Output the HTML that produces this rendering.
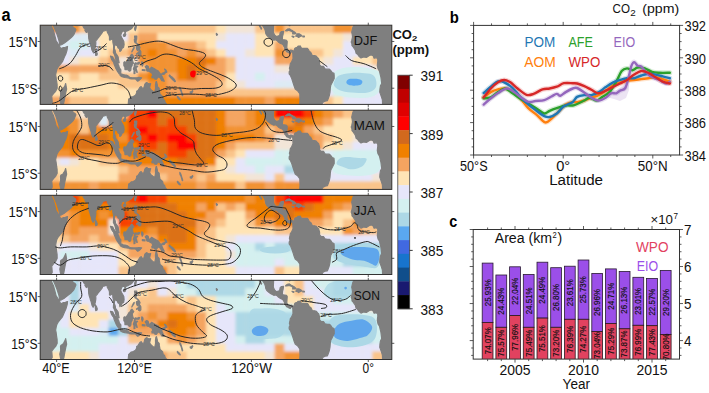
<!DOCTYPE html>
<html><head><meta charset="utf-8"><style>
html,body{margin:0;padding:0;background:#fff;width:709px;height:393px;overflow:hidden}
svg{display:block}
text{font-family:"Liberation Sans",sans-serif}
</style></head><body>
<svg width="709" height="393" viewBox="0 0 709 393" font-family="Liberation Sans, sans-serif">
<defs><filter id="blur" x="-5%" y="-20%" width="110%" height="140%"><feGaussianBlur stdDeviation="1.8"/></filter><filter id="blur2" x="-20%" y="-20%" width="140%" height="140%"><feGaussianBlur stdDeviation="0.6"/></filter></defs>
<rect width="709" height="393" fill="#fff"/>
<text x="1.6" y="20.8" font-size="18" font-weight="bold" fill="#000" textLength="9.1" lengthAdjust="spacingAndGlyphs">a</text>
<g transform="translate(40.2,25.2)">
<clipPath id="c0"><rect x="0" y="0" width="351.60" height="79.2"/></clipPath>
<g clip-path="url(#c0)">
<rect x="0" y="0" width="351.60" height="79.2" fill="#ffe4b5"/>
<g filter="url(#blur)"><rect x="-9.77" y="-7.92" width="10.07" height="8.22" fill="#f29230"/><rect x="0.00" y="-7.92" width="10.07" height="8.22" fill="#f29230"/><rect x="9.77" y="-7.92" width="10.07" height="8.22" fill="#f29230"/><rect x="19.53" y="-7.92" width="10.07" height="8.22" fill="#f29230"/><rect x="29.30" y="-7.92" width="10.07" height="8.22" fill="#f29230"/><rect x="39.07" y="-7.92" width="10.07" height="8.22" fill="#fac48a"/><rect x="48.83" y="-7.92" width="10.07" height="8.22" fill="#fac48a"/><rect x="58.60" y="-7.92" width="10.07" height="8.22" fill="#ffe4b5"/><rect x="68.37" y="-7.92" width="10.07" height="8.22" fill="#ffe4b5"/><rect x="78.13" y="-7.92" width="10.07" height="8.22" fill="#f2e5d8"/><rect x="87.90" y="-7.92" width="10.07" height="8.22" fill="#ffe4b5"/><rect x="97.67" y="-7.92" width="10.07" height="8.22" fill="#fac48a"/><rect x="107.43" y="-7.92" width="10.07" height="8.22" fill="#fac48a"/><rect x="117.20" y="-7.92" width="10.07" height="8.22" fill="#fac48a"/><rect x="126.97" y="-7.92" width="10.07" height="8.22" fill="#fac48a"/><rect x="136.73" y="-7.92" width="10.07" height="8.22" fill="#fac48a"/><rect x="146.50" y="-7.92" width="10.07" height="8.22" fill="#fac48a"/><rect x="156.27" y="-7.92" width="10.07" height="8.22" fill="#fac48a"/><rect x="166.03" y="-7.92" width="10.07" height="8.22" fill="#fac48a"/><rect x="175.80" y="-7.92" width="10.07" height="8.22" fill="#ffe4b5"/><rect x="185.57" y="-7.92" width="10.07" height="8.22" fill="#f2e5d8"/><rect x="195.33" y="-7.92" width="10.07" height="8.22" fill="#f2e5d8"/><rect x="205.10" y="-7.92" width="10.07" height="8.22" fill="#f2e5d8"/><rect x="214.87" y="-7.92" width="10.07" height="8.22" fill="#fac48a"/><rect x="224.63" y="-7.92" width="10.07" height="8.22" fill="#fac48a"/><rect x="234.40" y="-7.92" width="10.07" height="8.22" fill="#f29230"/><rect x="244.17" y="-7.92" width="10.07" height="8.22" fill="#fac48a"/><rect x="253.93" y="-7.92" width="10.07" height="8.22" fill="#fac48a"/><rect x="263.70" y="-7.92" width="10.07" height="8.22" fill="#fac48a"/><rect x="273.47" y="-7.92" width="10.07" height="8.22" fill="#fac48a"/><rect x="283.23" y="-7.92" width="10.07" height="8.22" fill="#fac48a"/><rect x="293.00" y="-7.92" width="10.07" height="8.22" fill="#f29230"/><rect x="302.77" y="-7.92" width="10.07" height="8.22" fill="#f29230"/><rect x="312.53" y="-7.92" width="10.07" height="8.22" fill="#fac48a"/><rect x="322.30" y="-7.92" width="10.07" height="8.22" fill="#fac48a"/><rect x="332.07" y="-7.92" width="10.07" height="8.22" fill="#fac48a"/><rect x="341.83" y="-7.92" width="10.07" height="8.22" fill="#fac48a"/><rect x="351.60" y="-7.92" width="10.07" height="8.22" fill="#fac48a"/><rect x="-9.77" y="0.00" width="10.07" height="8.22" fill="#f29230"/><rect x="0.00" y="0.00" width="10.07" height="8.22" fill="#f29230"/><rect x="9.77" y="0.00" width="10.07" height="8.22" fill="#f29230"/><rect x="19.53" y="0.00" width="10.07" height="8.22" fill="#f29230"/><rect x="29.30" y="0.00" width="10.07" height="8.22" fill="#f29230"/><rect x="39.07" y="0.00" width="10.07" height="8.22" fill="#fac48a"/><rect x="48.83" y="0.00" width="10.07" height="8.22" fill="#fac48a"/><rect x="58.60" y="0.00" width="10.07" height="8.22" fill="#ffe4b5"/><rect x="68.37" y="0.00" width="10.07" height="8.22" fill="#ffe4b5"/><rect x="78.13" y="0.00" width="10.07" height="8.22" fill="#f2e5d8"/><rect x="87.90" y="0.00" width="10.07" height="8.22" fill="#ffe4b5"/><rect x="97.67" y="0.00" width="10.07" height="8.22" fill="#fac48a"/><rect x="107.43" y="0.00" width="10.07" height="8.22" fill="#fac48a"/><rect x="117.20" y="0.00" width="10.07" height="8.22" fill="#fac48a"/><rect x="126.97" y="0.00" width="10.07" height="8.22" fill="#fac48a"/><rect x="136.73" y="0.00" width="10.07" height="8.22" fill="#fac48a"/><rect x="146.50" y="0.00" width="10.07" height="8.22" fill="#fac48a"/><rect x="156.27" y="0.00" width="10.07" height="8.22" fill="#fac48a"/><rect x="166.03" y="0.00" width="10.07" height="8.22" fill="#fac48a"/><rect x="175.80" y="0.00" width="10.07" height="8.22" fill="#ffe4b5"/><rect x="185.57" y="0.00" width="10.07" height="8.22" fill="#f2e5d8"/><rect x="195.33" y="0.00" width="10.07" height="8.22" fill="#f2e5d8"/><rect x="205.10" y="0.00" width="10.07" height="8.22" fill="#f2e5d8"/><rect x="214.87" y="0.00" width="10.07" height="8.22" fill="#fac48a"/><rect x="224.63" y="0.00" width="10.07" height="8.22" fill="#fac48a"/><rect x="234.40" y="0.00" width="10.07" height="8.22" fill="#f29230"/><rect x="244.17" y="0.00" width="10.07" height="8.22" fill="#fac48a"/><rect x="253.93" y="0.00" width="10.07" height="8.22" fill="#fac48a"/><rect x="263.70" y="0.00" width="10.07" height="8.22" fill="#fac48a"/><rect x="273.47" y="0.00" width="10.07" height="8.22" fill="#fac48a"/><rect x="283.23" y="0.00" width="10.07" height="8.22" fill="#fac48a"/><rect x="293.00" y="0.00" width="10.07" height="8.22" fill="#f29230"/><rect x="302.77" y="0.00" width="10.07" height="8.22" fill="#f29230"/><rect x="312.53" y="0.00" width="10.07" height="8.22" fill="#fac48a"/><rect x="322.30" y="0.00" width="10.07" height="8.22" fill="#fac48a"/><rect x="332.07" y="0.00" width="10.07" height="8.22" fill="#fac48a"/><rect x="341.83" y="0.00" width="10.07" height="8.22" fill="#fac48a"/><rect x="351.60" y="0.00" width="10.07" height="8.22" fill="#fac48a"/><rect x="-9.77" y="7.92" width="10.07" height="8.22" fill="#e6e6fa"/><rect x="0.00" y="7.92" width="10.07" height="8.22" fill="#e6e6fa"/><rect x="9.77" y="7.92" width="10.07" height="8.22" fill="#e6e6fa"/><rect x="19.53" y="7.92" width="10.07" height="8.22" fill="#e6e6fa"/><rect x="29.30" y="7.92" width="10.07" height="8.22" fill="#ddebf5"/><rect x="39.07" y="7.92" width="10.07" height="8.22" fill="#ddebf5"/><rect x="48.83" y="7.92" width="10.07" height="8.22" fill="#f2e5d8"/><rect x="58.60" y="7.92" width="10.07" height="8.22" fill="#ffe4b5"/><rect x="68.37" y="7.92" width="10.07" height="8.22" fill="#ffe4b5"/><rect x="78.13" y="7.92" width="10.07" height="8.22" fill="#e6e6fa"/><rect x="87.90" y="7.92" width="10.07" height="8.22" fill="#fac48a"/><rect x="97.67" y="7.92" width="10.07" height="8.22" fill="#f4a460"/><rect x="107.43" y="7.92" width="10.07" height="8.22" fill="#f4a460"/><rect x="117.20" y="7.92" width="10.07" height="8.22" fill="#ffe4b5"/><rect x="126.97" y="7.92" width="10.07" height="8.22" fill="#ffe4b5"/><rect x="136.73" y="7.92" width="10.07" height="8.22" fill="#ffe4b5"/><rect x="146.50" y="7.92" width="10.07" height="8.22" fill="#ffe4b5"/><rect x="156.27" y="7.92" width="10.07" height="8.22" fill="#ffe4b5"/><rect x="166.03" y="7.92" width="10.07" height="8.22" fill="#ffe4b5"/><rect x="175.80" y="7.92" width="10.07" height="8.22" fill="#f2e5d8"/><rect x="185.57" y="7.92" width="10.07" height="8.22" fill="#e6e6fa"/><rect x="195.33" y="7.92" width="10.07" height="8.22" fill="#e6e6fa"/><rect x="205.10" y="7.92" width="10.07" height="8.22" fill="#e6e6fa"/><rect x="214.87" y="7.92" width="10.07" height="8.22" fill="#ffe4b5"/><rect x="224.63" y="7.92" width="10.07" height="8.22" fill="#ffe4b5"/><rect x="234.40" y="7.92" width="10.07" height="8.22" fill="#ffe4b5"/><rect x="244.17" y="7.92" width="10.07" height="8.22" fill="#ffe4b5"/><rect x="253.93" y="7.92" width="10.07" height="8.22" fill="#ffe4b5"/><rect x="263.70" y="7.92" width="10.07" height="8.22" fill="#ffe4b5"/><rect x="273.47" y="7.92" width="10.07" height="8.22" fill="#ffe4b5"/><rect x="283.23" y="7.92" width="10.07" height="8.22" fill="#ffe4b5"/><rect x="293.00" y="7.92" width="10.07" height="8.22" fill="#ffe4b5"/><rect x="302.77" y="7.92" width="10.07" height="8.22" fill="#f2e5d8"/><rect x="312.53" y="7.92" width="10.07" height="8.22" fill="#e6e6fa"/><rect x="322.30" y="7.92" width="10.07" height="8.22" fill="#e6e6fa"/><rect x="332.07" y="7.92" width="10.07" height="8.22" fill="#e6e6fa"/><rect x="341.83" y="7.92" width="10.07" height="8.22" fill="#e6e6fa"/><rect x="351.60" y="7.92" width="10.07" height="8.22" fill="#e6e6fa"/><rect x="-9.77" y="15.84" width="10.07" height="8.22" fill="#e6e6fa"/><rect x="0.00" y="15.84" width="10.07" height="8.22" fill="#e6e6fa"/><rect x="9.77" y="15.84" width="10.07" height="8.22" fill="#e6e6fa"/><rect x="19.53" y="15.84" width="10.07" height="8.22" fill="#ddebf5"/><rect x="29.30" y="15.84" width="10.07" height="8.22" fill="#d4f0f0"/><rect x="39.07" y="15.84" width="10.07" height="8.22" fill="#d4f0f0"/><rect x="48.83" y="15.84" width="10.07" height="8.22" fill="#e6e6fa"/><rect x="58.60" y="15.84" width="10.07" height="8.22" fill="#ffe4b5"/><rect x="68.37" y="15.84" width="10.07" height="8.22" fill="#ffe4b5"/><rect x="78.13" y="15.84" width="10.07" height="8.22" fill="#ffe4b5"/><rect x="87.90" y="15.84" width="10.07" height="8.22" fill="#fac48a"/><rect x="97.67" y="15.84" width="10.07" height="8.22" fill="#f29230"/><rect x="107.43" y="15.84" width="10.07" height="8.22" fill="#f29230"/><rect x="117.20" y="15.84" width="10.07" height="8.22" fill="#f29230"/><rect x="126.97" y="15.84" width="10.07" height="8.22" fill="#f4a460"/><rect x="136.73" y="15.84" width="10.07" height="8.22" fill="#f4a460"/><rect x="146.50" y="15.84" width="10.07" height="8.22" fill="#f4a460"/><rect x="156.27" y="15.84" width="10.07" height="8.22" fill="#fac48a"/><rect x="166.03" y="15.84" width="10.07" height="8.22" fill="#ffe4b5"/><rect x="175.80" y="15.84" width="10.07" height="8.22" fill="#e6e6fa"/><rect x="185.57" y="15.84" width="10.07" height="8.22" fill="#e6e6fa"/><rect x="195.33" y="15.84" width="10.07" height="8.22" fill="#e6e6fa"/><rect x="205.10" y="15.84" width="10.07" height="8.22" fill="#e6e6fa"/><rect x="214.87" y="15.84" width="10.07" height="8.22" fill="#ffe4b5"/><rect x="224.63" y="15.84" width="10.07" height="8.22" fill="#ffe4b5"/><rect x="234.40" y="15.84" width="10.07" height="8.22" fill="#f4a460"/><rect x="244.17" y="15.84" width="10.07" height="8.22" fill="#ffe4b5"/><rect x="253.93" y="15.84" width="10.07" height="8.22" fill="#ffe4b5"/><rect x="263.70" y="15.84" width="10.07" height="8.22" fill="#ffe4b5"/><rect x="273.47" y="15.84" width="10.07" height="8.22" fill="#ffe4b5"/><rect x="283.23" y="15.84" width="10.07" height="8.22" fill="#ffe4b5"/><rect x="293.00" y="15.84" width="10.07" height="8.22" fill="#ffe4b5"/><rect x="302.77" y="15.84" width="10.07" height="8.22" fill="#e6e6fa"/><rect x="312.53" y="15.84" width="10.07" height="8.22" fill="#e6e6fa"/><rect x="322.30" y="15.84" width="10.07" height="8.22" fill="#e6e6fa"/><rect x="332.07" y="15.84" width="10.07" height="8.22" fill="#e6e6fa"/><rect x="341.83" y="15.84" width="10.07" height="8.22" fill="#e6e6fa"/><rect x="351.60" y="15.84" width="10.07" height="8.22" fill="#e6e6fa"/><rect x="-9.77" y="23.76" width="10.07" height="8.22" fill="#e6e6fa"/><rect x="0.00" y="23.76" width="10.07" height="8.22" fill="#e6e6fa"/><rect x="9.77" y="23.76" width="10.07" height="8.22" fill="#e6e6fa"/><rect x="19.53" y="23.76" width="10.07" height="8.22" fill="#e6e6fa"/><rect x="29.30" y="23.76" width="10.07" height="8.22" fill="#ddebf5"/><rect x="39.07" y="23.76" width="10.07" height="8.22" fill="#e6e6fa"/><rect x="48.83" y="23.76" width="10.07" height="8.22" fill="#e6e6fa"/><rect x="58.60" y="23.76" width="10.07" height="8.22" fill="#ffe4b5"/><rect x="68.37" y="23.76" width="10.07" height="8.22" fill="#fac48a"/><rect x="78.13" y="23.76" width="10.07" height="8.22" fill="#fac48a"/><rect x="87.90" y="23.76" width="10.07" height="8.22" fill="#f4a460"/><rect x="97.67" y="23.76" width="10.07" height="8.22" fill="#f29230"/><rect x="107.43" y="23.76" width="10.07" height="8.22" fill="#f08000"/><rect x="117.20" y="23.76" width="10.07" height="8.22" fill="#f29230"/><rect x="126.97" y="23.76" width="10.07" height="8.22" fill="#f29230"/><rect x="136.73" y="23.76" width="10.07" height="8.22" fill="#f4a460"/><rect x="146.50" y="23.76" width="10.07" height="8.22" fill="#f29230"/><rect x="156.27" y="23.76" width="10.07" height="8.22" fill="#f4a460"/><rect x="166.03" y="23.76" width="10.07" height="8.22" fill="#fac48a"/><rect x="175.80" y="23.76" width="10.07" height="8.22" fill="#ffe4b5"/><rect x="185.57" y="23.76" width="10.07" height="8.22" fill="#e6e6fa"/><rect x="195.33" y="23.76" width="10.07" height="8.22" fill="#e6e6fa"/><rect x="205.10" y="23.76" width="10.07" height="8.22" fill="#f2e5d8"/><rect x="214.87" y="23.76" width="10.07" height="8.22" fill="#ffe4b5"/><rect x="224.63" y="23.76" width="10.07" height="8.22" fill="#ffe4b5"/><rect x="234.40" y="23.76" width="10.07" height="8.22" fill="#f29230"/><rect x="244.17" y="23.76" width="10.07" height="8.22" fill="#f4a460"/><rect x="253.93" y="23.76" width="10.07" height="8.22" fill="#ffe4b5"/><rect x="263.70" y="23.76" width="10.07" height="8.22" fill="#fac48a"/><rect x="273.47" y="23.76" width="10.07" height="8.22" fill="#fac48a"/><rect x="283.23" y="23.76" width="10.07" height="8.22" fill="#ffe4b5"/><rect x="293.00" y="23.76" width="10.07" height="8.22" fill="#f2e5d8"/><rect x="302.77" y="23.76" width="10.07" height="8.22" fill="#e6e6fa"/><rect x="312.53" y="23.76" width="10.07" height="8.22" fill="#e6e6fa"/><rect x="322.30" y="23.76" width="10.07" height="8.22" fill="#ffe4b5"/><rect x="332.07" y="23.76" width="10.07" height="8.22" fill="#ffe4b5"/><rect x="341.83" y="23.76" width="10.07" height="8.22" fill="#ffe4b5"/><rect x="351.60" y="23.76" width="10.07" height="8.22" fill="#ffe4b5"/><rect x="-9.77" y="31.68" width="10.07" height="8.22" fill="#e6e6fa"/><rect x="0.00" y="31.68" width="10.07" height="8.22" fill="#e6e6fa"/><rect x="9.77" y="31.68" width="10.07" height="8.22" fill="#e6e6fa"/><rect x="19.53" y="31.68" width="10.07" height="8.22" fill="#e6e6fa"/><rect x="29.30" y="31.68" width="10.07" height="8.22" fill="#f2e5d8"/><rect x="39.07" y="31.68" width="10.07" height="8.22" fill="#ffe4b5"/><rect x="48.83" y="31.68" width="10.07" height="8.22" fill="#ffe4b5"/><rect x="58.60" y="31.68" width="10.07" height="8.22" fill="#fac48a"/><rect x="68.37" y="31.68" width="10.07" height="8.22" fill="#f4a460"/><rect x="78.13" y="31.68" width="10.07" height="8.22" fill="#f2e5d8"/><rect x="87.90" y="31.68" width="10.07" height="8.22" fill="#f2e5d8"/><rect x="97.67" y="31.68" width="10.07" height="8.22" fill="#f29230"/><rect x="107.43" y="31.68" width="10.07" height="8.22" fill="#f29230"/><rect x="117.20" y="31.68" width="10.07" height="8.22" fill="#f29230"/><rect x="126.97" y="31.68" width="10.07" height="8.22" fill="#f29230"/><rect x="136.73" y="31.68" width="10.07" height="8.22" fill="#f08000"/><rect x="146.50" y="31.68" width="10.07" height="8.22" fill="#f08000"/><rect x="156.27" y="31.68" width="10.07" height="8.22" fill="#dc7114"/><rect x="166.03" y="31.68" width="10.07" height="8.22" fill="#f08000"/><rect x="175.80" y="31.68" width="10.07" height="8.22" fill="#f4a460"/><rect x="185.57" y="31.68" width="10.07" height="8.22" fill="#fac48a"/><rect x="195.33" y="31.68" width="10.07" height="8.22" fill="#e6e6fa"/><rect x="205.10" y="31.68" width="10.07" height="8.22" fill="#e6e6fa"/><rect x="214.87" y="31.68" width="10.07" height="8.22" fill="#e6e6fa"/><rect x="224.63" y="31.68" width="10.07" height="8.22" fill="#e6e6fa"/><rect x="234.40" y="31.68" width="10.07" height="8.22" fill="#f4a460"/><rect x="244.17" y="31.68" width="10.07" height="8.22" fill="#f4a460"/><rect x="253.93" y="31.68" width="10.07" height="8.22" fill="#f4a460"/><rect x="263.70" y="31.68" width="10.07" height="8.22" fill="#ffe4b5"/><rect x="273.47" y="31.68" width="10.07" height="8.22" fill="#ffe4b5"/><rect x="283.23" y="31.68" width="10.07" height="8.22" fill="#f2e5d8"/><rect x="293.00" y="31.68" width="10.07" height="8.22" fill="#e6e6fa"/><rect x="302.77" y="31.68" width="10.07" height="8.22" fill="#e6e6fa"/><rect x="312.53" y="31.68" width="10.07" height="8.22" fill="#ffe4b5"/><rect x="322.30" y="31.68" width="10.07" height="8.22" fill="#ffe4b5"/><rect x="332.07" y="31.68" width="10.07" height="8.22" fill="#fac48a"/><rect x="341.83" y="31.68" width="10.07" height="8.22" fill="#fac48a"/><rect x="351.60" y="31.68" width="10.07" height="8.22" fill="#fac48a"/><rect x="-9.77" y="39.60" width="10.07" height="8.22" fill="#f4a460"/><rect x="0.00" y="39.60" width="10.07" height="8.22" fill="#f4a460"/><rect x="9.77" y="39.60" width="10.07" height="8.22" fill="#f4a460"/><rect x="19.53" y="39.60" width="10.07" height="8.22" fill="#f4a460"/><rect x="29.30" y="39.60" width="10.07" height="8.22" fill="#f4a460"/><rect x="39.07" y="39.60" width="10.07" height="8.22" fill="#f4a460"/><rect x="48.83" y="39.60" width="10.07" height="8.22" fill="#f4a460"/><rect x="58.60" y="39.60" width="10.07" height="8.22" fill="#f4a460"/><rect x="68.37" y="39.60" width="10.07" height="8.22" fill="#fac48a"/><rect x="78.13" y="39.60" width="10.07" height="8.22" fill="#f2e5d8"/><rect x="87.90" y="39.60" width="10.07" height="8.22" fill="#f2e5d8"/><rect x="97.67" y="39.60" width="10.07" height="8.22" fill="#fac48a"/><rect x="107.43" y="39.60" width="10.07" height="8.22" fill="#f29230"/><rect x="117.20" y="39.60" width="10.07" height="8.22" fill="#f29230"/><rect x="126.97" y="39.60" width="10.07" height="8.22" fill="#f29230"/><rect x="136.73" y="39.60" width="10.07" height="8.22" fill="#f08000"/><rect x="146.50" y="39.60" width="10.07" height="8.22" fill="#dc7114"/><rect x="156.27" y="39.60" width="10.07" height="8.22" fill="#f08000"/><rect x="166.03" y="39.60" width="10.07" height="8.22" fill="#f4a460"/><rect x="175.80" y="39.60" width="10.07" height="8.22" fill="#f4a460"/><rect x="185.57" y="39.60" width="10.07" height="8.22" fill="#fac48a"/><rect x="195.33" y="39.60" width="10.07" height="8.22" fill="#e6e6fa"/><rect x="205.10" y="39.60" width="10.07" height="8.22" fill="#e6e6fa"/><rect x="214.87" y="39.60" width="10.07" height="8.22" fill="#e6e6fa"/><rect x="224.63" y="39.60" width="10.07" height="8.22" fill="#e6e6fa"/><rect x="234.40" y="39.60" width="10.07" height="8.22" fill="#f2e5d8"/><rect x="244.17" y="39.60" width="10.07" height="8.22" fill="#f2e5d8"/><rect x="253.93" y="39.60" width="10.07" height="8.22" fill="#f2e5d8"/><rect x="263.70" y="39.60" width="10.07" height="8.22" fill="#e6e6fa"/><rect x="273.47" y="39.60" width="10.07" height="8.22" fill="#e6e6fa"/><rect x="283.23" y="39.60" width="10.07" height="8.22" fill="#e6e6fa"/><rect x="293.00" y="39.60" width="10.07" height="8.22" fill="#e6e6fa"/><rect x="302.77" y="39.60" width="10.07" height="8.22" fill="#e6e6fa"/><rect x="312.53" y="39.60" width="10.07" height="8.22" fill="#e6e6fa"/><rect x="322.30" y="39.60" width="10.07" height="8.22" fill="#e6e6fa"/><rect x="332.07" y="39.60" width="10.07" height="8.22" fill="#f2e5d8"/><rect x="341.83" y="39.60" width="10.07" height="8.22" fill="#f2e5d8"/><rect x="351.60" y="39.60" width="10.07" height="8.22" fill="#f2e5d8"/><rect x="-9.77" y="47.52" width="10.07" height="8.22" fill="#ffe4b5"/><rect x="0.00" y="47.52" width="10.07" height="8.22" fill="#ffe4b5"/><rect x="9.77" y="47.52" width="10.07" height="8.22" fill="#ffe4b5"/><rect x="19.53" y="47.52" width="10.07" height="8.22" fill="#ffe4b5"/><rect x="29.30" y="47.52" width="10.07" height="8.22" fill="#fac48a"/><rect x="39.07" y="47.52" width="10.07" height="8.22" fill="#ffe4b5"/><rect x="48.83" y="47.52" width="10.07" height="8.22" fill="#ffe4b5"/><rect x="58.60" y="47.52" width="10.07" height="8.22" fill="#fac48a"/><rect x="68.37" y="47.52" width="10.07" height="8.22" fill="#fac48a"/><rect x="78.13" y="47.52" width="10.07" height="8.22" fill="#fac48a"/><rect x="87.90" y="47.52" width="10.07" height="8.22" fill="#fac48a"/><rect x="97.67" y="47.52" width="10.07" height="8.22" fill="#f29230"/><rect x="107.43" y="47.52" width="10.07" height="8.22" fill="#f08000"/><rect x="117.20" y="47.52" width="10.07" height="8.22" fill="#f29230"/><rect x="126.97" y="47.52" width="10.07" height="8.22" fill="#f4a460"/><rect x="136.73" y="47.52" width="10.07" height="8.22" fill="#f08000"/><rect x="146.50" y="47.52" width="10.07" height="8.22" fill="#dc7114"/><rect x="156.27" y="47.52" width="10.07" height="8.22" fill="#f4a460"/><rect x="166.03" y="47.52" width="10.07" height="8.22" fill="#f4a460"/><rect x="175.80" y="47.52" width="10.07" height="8.22" fill="#f4a460"/><rect x="185.57" y="47.52" width="10.07" height="8.22" fill="#ffe4b5"/><rect x="195.33" y="47.52" width="10.07" height="8.22" fill="#e6e6fa"/><rect x="205.10" y="47.52" width="10.07" height="8.22" fill="#e6e6fa"/><rect x="214.87" y="47.52" width="10.07" height="8.22" fill="#d4f0f0"/><rect x="224.63" y="47.52" width="10.07" height="8.22" fill="#e6e6fa"/><rect x="234.40" y="47.52" width="10.07" height="8.22" fill="#e6e6fa"/><rect x="244.17" y="47.52" width="10.07" height="8.22" fill="#e6e6fa"/><rect x="253.93" y="47.52" width="10.07" height="8.22" fill="#e6e6fa"/><rect x="263.70" y="47.52" width="10.07" height="8.22" fill="#d4f0f0"/><rect x="273.47" y="47.52" width="10.07" height="8.22" fill="#d4f0f0"/><rect x="283.23" y="47.52" width="10.07" height="8.22" fill="#d4f0f0"/><rect x="293.00" y="47.52" width="10.07" height="8.22" fill="#d4f0f0"/><rect x="302.77" y="47.52" width="10.07" height="8.22" fill="#add8e6"/><rect x="312.53" y="47.52" width="10.07" height="8.22" fill="#add8e6"/><rect x="322.30" y="47.52" width="10.07" height="8.22" fill="#add8e6"/><rect x="332.07" y="47.52" width="10.07" height="8.22" fill="#d4f0f0"/><rect x="341.83" y="47.52" width="10.07" height="8.22" fill="#d4f0f0"/><rect x="351.60" y="47.52" width="10.07" height="8.22" fill="#d4f0f0"/><rect x="-9.77" y="55.44" width="10.07" height="8.22" fill="#ffe4b5"/><rect x="0.00" y="55.44" width="10.07" height="8.22" fill="#ffe4b5"/><rect x="9.77" y="55.44" width="10.07" height="8.22" fill="#ffe4b5"/><rect x="19.53" y="55.44" width="10.07" height="8.22" fill="#ffe4b5"/><rect x="29.30" y="55.44" width="10.07" height="8.22" fill="#ffe4b5"/><rect x="39.07" y="55.44" width="10.07" height="8.22" fill="#ffe4b5"/><rect x="48.83" y="55.44" width="10.07" height="8.22" fill="#ffe4b5"/><rect x="58.60" y="55.44" width="10.07" height="8.22" fill="#ffe4b5"/><rect x="68.37" y="55.44" width="10.07" height="8.22" fill="#ffe4b5"/><rect x="78.13" y="55.44" width="10.07" height="8.22" fill="#fac48a"/><rect x="87.90" y="55.44" width="10.07" height="8.22" fill="#fac48a"/><rect x="97.67" y="55.44" width="10.07" height="8.22" fill="#fac48a"/><rect x="107.43" y="55.44" width="10.07" height="8.22" fill="#f29230"/><rect x="117.20" y="55.44" width="10.07" height="8.22" fill="#f29230"/><rect x="126.97" y="55.44" width="10.07" height="8.22" fill="#f4a460"/><rect x="136.73" y="55.44" width="10.07" height="8.22" fill="#f4a460"/><rect x="146.50" y="55.44" width="10.07" height="8.22" fill="#f4a460"/><rect x="156.27" y="55.44" width="10.07" height="8.22" fill="#f4a460"/><rect x="166.03" y="55.44" width="10.07" height="8.22" fill="#f4a460"/><rect x="175.80" y="55.44" width="10.07" height="8.22" fill="#fac48a"/><rect x="185.57" y="55.44" width="10.07" height="8.22" fill="#ffe4b5"/><rect x="195.33" y="55.44" width="10.07" height="8.22" fill="#f2e5d8"/><rect x="205.10" y="55.44" width="10.07" height="8.22" fill="#e6e6fa"/><rect x="214.87" y="55.44" width="10.07" height="8.22" fill="#e6e6fa"/><rect x="224.63" y="55.44" width="10.07" height="8.22" fill="#e6e6fa"/><rect x="234.40" y="55.44" width="10.07" height="8.22" fill="#ddebf5"/><rect x="244.17" y="55.44" width="10.07" height="8.22" fill="#ddebf5"/><rect x="253.93" y="55.44" width="10.07" height="8.22" fill="#ddebf5"/><rect x="263.70" y="55.44" width="10.07" height="8.22" fill="#d4f0f0"/><rect x="273.47" y="55.44" width="10.07" height="8.22" fill="#d4f0f0"/><rect x="283.23" y="55.44" width="10.07" height="8.22" fill="#d4f0f0"/><rect x="293.00" y="55.44" width="10.07" height="8.22" fill="#add8e6"/><rect x="302.77" y="55.44" width="10.07" height="8.22" fill="#add8e6"/><rect x="312.53" y="55.44" width="10.07" height="8.22" fill="#add8e6"/><rect x="322.30" y="55.44" width="10.07" height="8.22" fill="#add8e6"/><rect x="332.07" y="55.44" width="10.07" height="8.22" fill="#d4f0f0"/><rect x="341.83" y="55.44" width="10.07" height="8.22" fill="#d4f0f0"/><rect x="351.60" y="55.44" width="10.07" height="8.22" fill="#d4f0f0"/><rect x="-9.77" y="63.36" width="10.07" height="8.22" fill="#ffe4b5"/><rect x="0.00" y="63.36" width="10.07" height="8.22" fill="#ffe4b5"/><rect x="9.77" y="63.36" width="10.07" height="8.22" fill="#ffe4b5"/><rect x="19.53" y="63.36" width="10.07" height="8.22" fill="#ffe4b5"/><rect x="29.30" y="63.36" width="10.07" height="8.22" fill="#ffe4b5"/><rect x="39.07" y="63.36" width="10.07" height="8.22" fill="#ffe4b5"/><rect x="48.83" y="63.36" width="10.07" height="8.22" fill="#ffe4b5"/><rect x="58.60" y="63.36" width="10.07" height="8.22" fill="#ffe4b5"/><rect x="68.37" y="63.36" width="10.07" height="8.22" fill="#ffe4b5"/><rect x="78.13" y="63.36" width="10.07" height="8.22" fill="#ffe4b5"/><rect x="87.90" y="63.36" width="10.07" height="8.22" fill="#ffe4b5"/><rect x="97.67" y="63.36" width="10.07" height="8.22" fill="#ffe4b5"/><rect x="107.43" y="63.36" width="10.07" height="8.22" fill="#f29230"/><rect x="117.20" y="63.36" width="10.07" height="8.22" fill="#f29230"/><rect x="126.97" y="63.36" width="10.07" height="8.22" fill="#f4a460"/><rect x="136.73" y="63.36" width="10.07" height="8.22" fill="#f4a460"/><rect x="146.50" y="63.36" width="10.07" height="8.22" fill="#f4a460"/><rect x="156.27" y="63.36" width="10.07" height="8.22" fill="#f4a460"/><rect x="166.03" y="63.36" width="10.07" height="8.22" fill="#f4a460"/><rect x="175.80" y="63.36" width="10.07" height="8.22" fill="#fac48a"/><rect x="185.57" y="63.36" width="10.07" height="8.22" fill="#fac48a"/><rect x="195.33" y="63.36" width="10.07" height="8.22" fill="#fac48a"/><rect x="205.10" y="63.36" width="10.07" height="8.22" fill="#fac48a"/><rect x="214.87" y="63.36" width="10.07" height="8.22" fill="#fac48a"/><rect x="224.63" y="63.36" width="10.07" height="8.22" fill="#fac48a"/><rect x="234.40" y="63.36" width="10.07" height="8.22" fill="#fac48a"/><rect x="244.17" y="63.36" width="10.07" height="8.22" fill="#fac48a"/><rect x="253.93" y="63.36" width="10.07" height="8.22" fill="#fac48a"/><rect x="263.70" y="63.36" width="10.07" height="8.22" fill="#e6e6fa"/><rect x="273.47" y="63.36" width="10.07" height="8.22" fill="#e6e6fa"/><rect x="283.23" y="63.36" width="10.07" height="8.22" fill="#e6e6fa"/><rect x="293.00" y="63.36" width="10.07" height="8.22" fill="#d4f0f0"/><rect x="302.77" y="63.36" width="10.07" height="8.22" fill="#d4f0f0"/><rect x="312.53" y="63.36" width="10.07" height="8.22" fill="#d4f0f0"/><rect x="322.30" y="63.36" width="10.07" height="8.22" fill="#d4f0f0"/><rect x="332.07" y="63.36" width="10.07" height="8.22" fill="#e6e6fa"/><rect x="341.83" y="63.36" width="10.07" height="8.22" fill="#e6e6fa"/><rect x="351.60" y="63.36" width="10.07" height="8.22" fill="#e6e6fa"/><rect x="-9.77" y="71.28" width="10.07" height="8.22" fill="#f4a460"/><rect x="0.00" y="71.28" width="10.07" height="8.22" fill="#f4a460"/><rect x="9.77" y="71.28" width="10.07" height="8.22" fill="#f4a460"/><rect x="19.53" y="71.28" width="10.07" height="8.22" fill="#f4a460"/><rect x="29.30" y="71.28" width="10.07" height="8.22" fill="#fac48a"/><rect x="39.07" y="71.28" width="10.07" height="8.22" fill="#fac48a"/><rect x="48.83" y="71.28" width="10.07" height="8.22" fill="#fac48a"/><rect x="58.60" y="71.28" width="10.07" height="8.22" fill="#fac48a"/><rect x="68.37" y="71.28" width="10.07" height="8.22" fill="#ffe4b5"/><rect x="78.13" y="71.28" width="10.07" height="8.22" fill="#ffe4b5"/><rect x="87.90" y="71.28" width="10.07" height="8.22" fill="#ffe4b5"/><rect x="97.67" y="71.28" width="10.07" height="8.22" fill="#ffe4b5"/><rect x="107.43" y="71.28" width="10.07" height="8.22" fill="#f08000"/><rect x="117.20" y="71.28" width="10.07" height="8.22" fill="#f08000"/><rect x="126.97" y="71.28" width="10.07" height="8.22" fill="#f08000"/><rect x="136.73" y="71.28" width="10.07" height="8.22" fill="#f08000"/><rect x="146.50" y="71.28" width="10.07" height="8.22" fill="#f08000"/><rect x="156.27" y="71.28" width="10.07" height="8.22" fill="#f08000"/><rect x="166.03" y="71.28" width="10.07" height="8.22" fill="#f08000"/><rect x="175.80" y="71.28" width="10.07" height="8.22" fill="#f08000"/><rect x="185.57" y="71.28" width="10.07" height="8.22" fill="#f08000"/><rect x="195.33" y="71.28" width="10.07" height="8.22" fill="#f29230"/><rect x="205.10" y="71.28" width="10.07" height="8.22" fill="#f29230"/><rect x="214.87" y="71.28" width="10.07" height="8.22" fill="#f29230"/><rect x="224.63" y="71.28" width="10.07" height="8.22" fill="#f4a460"/><rect x="234.40" y="71.28" width="10.07" height="8.22" fill="#f08000"/><rect x="244.17" y="71.28" width="10.07" height="8.22" fill="#f08000"/><rect x="253.93" y="71.28" width="10.07" height="8.22" fill="#f08000"/><rect x="263.70" y="71.28" width="10.07" height="8.22" fill="#e6e6fa"/><rect x="273.47" y="71.28" width="10.07" height="8.22" fill="#e6e6fa"/><rect x="283.23" y="71.28" width="10.07" height="8.22" fill="#fac48a"/><rect x="293.00" y="71.28" width="10.07" height="8.22" fill="#ffe4b5"/><rect x="302.77" y="71.28" width="10.07" height="8.22" fill="#e6e6fa"/><rect x="312.53" y="71.28" width="10.07" height="8.22" fill="#e6e6fa"/><rect x="322.30" y="71.28" width="10.07" height="8.22" fill="#e6e6fa"/><rect x="332.07" y="71.28" width="10.07" height="8.22" fill="#e6e6fa"/><rect x="341.83" y="71.28" width="10.07" height="8.22" fill="#e6e6fa"/><rect x="351.60" y="71.28" width="10.07" height="8.22" fill="#e6e6fa"/><rect x="-9.77" y="79.20" width="10.07" height="8.22" fill="#f4a460"/><rect x="0.00" y="79.20" width="10.07" height="8.22" fill="#f4a460"/><rect x="9.77" y="79.20" width="10.07" height="8.22" fill="#f4a460"/><rect x="19.53" y="79.20" width="10.07" height="8.22" fill="#f4a460"/><rect x="29.30" y="79.20" width="10.07" height="8.22" fill="#fac48a"/><rect x="39.07" y="79.20" width="10.07" height="8.22" fill="#fac48a"/><rect x="48.83" y="79.20" width="10.07" height="8.22" fill="#fac48a"/><rect x="58.60" y="79.20" width="10.07" height="8.22" fill="#fac48a"/><rect x="68.37" y="79.20" width="10.07" height="8.22" fill="#ffe4b5"/><rect x="78.13" y="79.20" width="10.07" height="8.22" fill="#ffe4b5"/><rect x="87.90" y="79.20" width="10.07" height="8.22" fill="#ffe4b5"/><rect x="97.67" y="79.20" width="10.07" height="8.22" fill="#ffe4b5"/><rect x="107.43" y="79.20" width="10.07" height="8.22" fill="#f08000"/><rect x="117.20" y="79.20" width="10.07" height="8.22" fill="#f08000"/><rect x="126.97" y="79.20" width="10.07" height="8.22" fill="#f08000"/><rect x="136.73" y="79.20" width="10.07" height="8.22" fill="#f08000"/><rect x="146.50" y="79.20" width="10.07" height="8.22" fill="#f08000"/><rect x="156.27" y="79.20" width="10.07" height="8.22" fill="#f08000"/><rect x="166.03" y="79.20" width="10.07" height="8.22" fill="#f08000"/><rect x="175.80" y="79.20" width="10.07" height="8.22" fill="#f08000"/><rect x="185.57" y="79.20" width="10.07" height="8.22" fill="#f08000"/><rect x="195.33" y="79.20" width="10.07" height="8.22" fill="#f29230"/><rect x="205.10" y="79.20" width="10.07" height="8.22" fill="#f29230"/><rect x="214.87" y="79.20" width="10.07" height="8.22" fill="#f29230"/><rect x="224.63" y="79.20" width="10.07" height="8.22" fill="#f4a460"/><rect x="234.40" y="79.20" width="10.07" height="8.22" fill="#f08000"/><rect x="244.17" y="79.20" width="10.07" height="8.22" fill="#f08000"/><rect x="253.93" y="79.20" width="10.07" height="8.22" fill="#f08000"/><rect x="263.70" y="79.20" width="10.07" height="8.22" fill="#e6e6fa"/><rect x="273.47" y="79.20" width="10.07" height="8.22" fill="#e6e6fa"/><rect x="283.23" y="79.20" width="10.07" height="8.22" fill="#fac48a"/><rect x="293.00" y="79.20" width="10.07" height="8.22" fill="#ffe4b5"/><rect x="302.77" y="79.20" width="10.07" height="8.22" fill="#e6e6fa"/><rect x="312.53" y="79.20" width="10.07" height="8.22" fill="#e6e6fa"/><rect x="322.30" y="79.20" width="10.07" height="8.22" fill="#e6e6fa"/><rect x="332.07" y="79.20" width="10.07" height="8.22" fill="#e6e6fa"/><rect x="341.83" y="79.20" width="10.07" height="8.22" fill="#e6e6fa"/><rect x="351.60" y="79.20" width="10.07" height="8.22" fill="#e6e6fa"/></g><g filter="url(#blur2)"><path d="M290.80,54.80 C291.63,51.80 293.30,47.88 295.80,45.80 C298.30,43.72 302.13,42.97 305.80,42.30 C309.47,41.63 313.80,41.63 317.80,41.80 C321.80,41.97 326.30,42.47 329.80,43.30 C333.30,44.13 336.97,44.55 338.80,46.80 C340.63,49.05 340.97,53.30 340.80,56.80 C340.63,60.30 339.97,65.22 337.80,67.80 C335.63,70.38 332.13,71.55 327.80,72.30 C323.47,73.05 316.80,72.72 311.80,72.30 C306.80,71.88 301.30,71.22 297.80,69.80 C294.30,68.38 291.97,66.30 290.80,63.80 C289.63,61.30 289.97,57.80 290.80,54.80Z" fill="#d4f0f0" fill-opacity="1"/><path d="M293.80,56.80 C294.47,54.88 296.13,51.77 298.80,50.30 C301.47,48.83 305.97,48.42 309.80,48.00 C313.63,47.58 318.13,47.58 321.80,47.80 C325.47,48.02 329.47,48.13 331.80,49.30 C334.13,50.47 335.22,52.55 335.80,54.80 C336.38,57.05 336.63,60.72 335.30,62.80 C333.97,64.88 331.22,66.50 327.80,67.30 C324.38,68.10 319.13,67.85 314.80,67.60 C310.47,67.35 305.13,66.77 301.80,65.80 C298.47,64.83 296.13,63.30 294.80,61.80 C293.47,60.30 293.13,58.72 293.80,56.80Z" fill="#add8e6" fill-opacity="1"/><path d="M306.30,56.30 C306.63,55.50 307.55,54.25 308.80,53.80 C310.05,53.35 312.13,53.55 313.80,53.60 C315.47,53.65 317.42,53.70 318.80,54.10 C320.18,54.50 321.77,55.13 322.10,56.00 C322.43,56.87 321.85,58.57 320.80,59.30 C319.75,60.03 317.63,60.28 315.80,60.40 C313.97,60.52 311.30,60.30 309.80,60.00 C308.30,59.70 307.38,59.22 306.80,58.60 C306.22,57.98 305.97,57.10 306.30,56.30Z" fill="#5aa8f0" fill-opacity="1"/><path d="M150.30,46.80 C150.77,46.05 151.97,45.47 152.80,45.30 C153.63,45.13 154.88,45.05 155.30,45.80 C155.72,46.55 155.55,48.73 155.30,49.80 C155.05,50.87 154.47,51.87 153.80,52.20 C153.13,52.53 151.93,52.20 151.30,51.80 C150.67,51.40 150.17,50.63 150.00,49.80 C149.83,48.97 149.83,47.55 150.30,46.80Z" fill="#ff0000" fill-opacity="1"/></g>
<path d="M0.04,-1.64L11.04,-1.64L11.04,-0.08L12.02,3.04L13.28,5.38L13.67,6.93L14.94,11.61L15.91,15.50L17.86,18.62L19.52,20.49L19.42,21.58L20.78,23.45L23.22,22.36L25.17,22.05L27.31,21.27L27.11,23.45L26.63,25.63L25.65,28.75L24.19,31.86L22.24,36.54L20.30,38.87L18.35,41.21L17.37,42.77L16.59,44.33L15.91,47.13L15.43,49.78L15.91,52.12L16.40,56.01L16.89,59.13L16.98,63.02L15.43,66.14L13.28,68.47L11.53,70.81L11.82,73.93L12.02,77.04L9.58,80.94L0.04,80.94Z M12.99,-1.64L12.99,-0.08L13.96,2.26L15.43,5.38L16.89,9.27L17.86,12.39L18.83,15.50L19.61,19.86L21.27,19.55L24.19,17.84L26.14,16.28L28.09,14.72L31.01,12.39L32.47,10.83L33.74,9.27L34.71,6.93L35.69,4.60L34.71,3.04L32.96,2.26L32.37,0.86L32.28,-1.64Z M32.76,-1.64L33.25,-0.39L34.91,0.08L37.44,0.39L39.78,0.23L42.21,0.08L42.89,1.01L43.67,2.73L44.35,3.04L45.13,4.13L44.65,4.91L46.11,7.24L48.15,6.15L48.35,10.05L48.54,13.17L49.03,15.50L49.81,17.84L50.30,19.71L51.07,21.73L51.76,24.85L52.92,27.03L53.61,25.78L54.68,23.60L55.17,21.73L55.65,18.62L55.55,15.50L56.82,14.26L57.60,13.17L59.26,11.14L60.72,9.27L62.18,7.24L62.18,6.00L63.64,5.84L65.10,5.38L66.56,4.60L67.05,6.62L67.34,7.40L68.51,9.27L69.29,11.61L69.29,14.72L69.97,14.88L71.43,13.94L72.50,13.94L72.70,17.06L73.38,20.18L73.38,24.07L73.18,27.19L74.35,29.52L75.13,31.86L75.62,34.20L76.30,35.76L78.15,37.63L78.93,37.47L78.25,34.20L77.96,31.86L76.79,29.99L75.33,27.97L75.03,25.63L74.06,23.29L74.35,20.96L74.84,18.62L75.72,19.86L76.30,20.02L77.27,20.96L77.76,22.51L79.22,23.45L79.71,26.25L81.17,24.85L81.66,23.29L83.41,22.05L83.90,19.40L83.61,16.28L82.63,14.41L81.17,11.92L80.49,10.05L81.17,8.02L82.14,6.15L83.12,5.84L84.29,6.15L84.97,8.02L85.55,6.15L87.02,5.69L88.48,4.91L90.42,3.97L91.88,2.73L92.86,1.32L93.83,-0.08L94.32,-1.64Z M55.17,24.38L56.33,26.41L57.11,28.75L56.63,29.99L55.55,30.30L55.17,27.97Z M83.22,9.74L84.58,8.34L85.55,9.11L85.07,10.83L84.09,11.30L83.22,10.83Z M94.42,3.82L95.00,5.38L95.29,4.60L95.78,3.04L96.17,0.70L95.78,0.23L95.10,1.01L94.42,3.04Z M70.26,30.93L72.41,31.55L73.57,33.73L74.84,35.76L75.81,36.85L77.27,38.09L78.54,40.43L79.22,42.77L80.68,44.64L80.49,48.69L79.22,48.84L77.08,45.88L75.81,43.55L74.84,41.21L73.87,38.87L73.38,36.85L72.41,35.76L71.43,34.20Z M79.90,50.25L80.68,49.00L81.66,48.84L82.92,49.47L85.07,49.78L86.04,49.93L87.21,50.40L88.96,51.65L88.87,52.89L86.53,52.58L84.58,52.27L82.63,51.80L81.17,51.18Z M89.45,52.43L90.42,52.27L91.40,52.43L93.35,52.58L95.29,52.58L97.24,52.43L98.70,52.27L101.43,52.58L99.68,54.45L98.22,55.70L97.24,55.85L95.29,53.67L93.35,53.67L91.40,53.67L89.45,53.36Z M83.61,37.31L84.19,36.54L85.55,37.31L87.50,34.67L88.48,32.64L89.94,31.39L90.91,29.52L91.69,28.90L93.54,31.39L92.57,32.64L92.08,33.42L92.37,35.76L93.25,38.09L92.27,38.25L91.88,40.43L90.91,41.99L90.72,44.33L90.33,45.57L89.06,46.04L87.99,44.64L86.24,44.33L84.77,44.33L84.68,41.99L83.70,40.43Z M93.83,48.38L94.71,48.22L94.71,44.33L95.39,44.01L96.46,46.97L97.05,47.13L95.78,42.46L97.44,41.21L96.85,40.74L95.29,41.05L94.81,40.43L95.00,38.87L96.75,38.87L98.70,38.87L99.38,37.31L98.80,37.16L96.75,38.09L95.10,37.63L94.22,38.87L94.03,41.21L93.15,43.86L93.83,45.10Z M94.32,10.83L96.56,10.83L96.46,13.94L95.88,15.50L95.88,17.68L98.22,19.40L97.73,19.86L96.27,18.15L94.90,17.53L94.32,16.28L94.13,14.26L94.71,13.94Z M96.27,28.75L97.73,27.65L98.70,26.41L99.68,24.85L100.65,26.41L100.65,29.52L99.68,30.61L98.41,29.84L97.73,28.28L96.46,29.06Z M96.27,21.27L97.24,21.73L98.70,20.18L99.87,22.20L99.19,24.07L98.22,24.85L97.24,25.32L96.56,24.07L96.17,22.51Z M91.59,26.72L93.83,23.29L94.03,22.05L93.35,22.82L91.79,26.10Z M101.62,36.54L102.60,37.31L102.89,38.87L102.11,40.90L101.43,38.87Z M102.11,44.33L104.55,44.64L104.84,45.57L102.11,45.26Z M105.03,41.52L106.49,40.27L107.96,41.05L108.93,44.79L111.36,41.99L113.80,43.39L115.75,44.48L118.18,45.73L119.64,48.22L121.11,49.15L121.40,50.25L122.57,52.89L124.03,56.01L121.59,55.54L120.13,52.89L118.18,51.49L117.21,52.58L116.23,53.98L114.77,53.83L113.31,52.27L111.85,52.74L111.66,51.18L112.63,50.25L111.85,48.06L109.90,46.82L108.44,45.88L106.98,45.88L106.01,44.17L107.47,43.39L106.01,43.08Z M121.88,48.22L123.54,47.60L125.00,46.66L125.78,46.19L125.29,47.44L124.03,49.00L122.57,49.31Z M124.32,43.86L125.68,44.79L126.66,46.82L126.27,47.13L125.00,45.10Z M129.38,49.78L130.85,51.34L132.31,52.12L133.77,53.67L135.23,56.01L134.74,56.48L132.79,54.92L130.85,52.89L128.90,50.56Z M139.61,62.24L140.59,63.80L141.56,66.92L142.53,70.03L142.05,70.50L140.88,66.14L139.81,64.27Z M137.18,71.12L138.64,72.37L140.10,74.24L139.90,74.71L138.15,73.46L137.18,72.06Z M150.03,66.60L151.30,66.45L152.27,65.36L152.57,66.14L151.40,68.01L150.13,67.70Z M176.14,8.18L177.30,9.27L176.62,10.20L176.14,9.27Z M87.99,80.94L87.99,79.38L88.28,76.26L88.48,73.93L89.06,73.62L91.11,71.75L93.15,71.28L95.29,70.03L96.56,67.70L96.46,66.14L97.73,65.36L98.70,63.80L99.68,62.24L100.94,61.31L102.11,63.02L103.57,62.87L104.25,60.53L104.64,58.97L106.01,57.57L106.59,57.41L107.47,58.04L108.93,58.66L110.49,58.35L109.90,60.37L109.42,62.55L110.68,64.42L112.34,65.83L113.80,67.07L114.68,66.60L115.36,63.02L115.26,59.91L115.75,56.79L116.23,56.32L117.01,59.13L117.31,61.46L118.96,63.02L119.16,65.36L119.84,69.10L122.37,71.28L123.05,74.39L124.32,75.02L125.00,77.35L126.46,79.07L126.66,80.94Z M25.46,58.35L26.43,63.80L25.65,66.92L24.68,71.59L23.70,77.04L23.22,78.91L21.27,79.38L20.30,77.82L19.61,73.93L20.49,70.03L20.30,66.14L20.78,64.89L22.54,64.11L23.70,62.24L24.68,60.53Z M218.41,-1.64L218.89,-0.08L219.48,1.32L220.65,3.04L221.04,3.97L221.43,3.35L220.65,1.95L220.26,1.01L219.67,-0.08L219.38,-1.64Z M221.62,-1.64L222.40,0.39L224.35,3.35L225.32,6.15L225.52,8.02L226.30,9.74L227.76,11.30L229.22,12.39L231.17,13.79L233.60,15.03L235.55,14.57L237.01,15.50L238.47,17.06L239.93,17.99L242.37,19.09L242.86,19.55L243.63,20.96L244.61,22.51L244.51,23.76L245.29,24.54L246.46,26.41L247.72,27.03L249.19,27.81L250.16,28.28L250.65,25.94L251.62,26.72L252.59,27.97L252.69,29.52L252.79,33.42L251.33,36.85L250.16,38.40L249.67,41.21L249.19,43.08L249.87,44.95L248.99,46.66L248.99,48.69L250.35,50.56L251.62,53.67L252.89,57.57L253.86,60.68L255.03,63.80L257.66,65.83L259.61,68.47L259.71,71.59L259.80,75.49L259.41,80.94L280.84,80.94L281.33,79.38L282.79,77.04L284.74,75.95L287.17,75.49L288.15,73.15L289.12,70.34L289.80,66.92L290.09,63.02L290.58,59.91L291.85,57.57L293.02,55.23L293.99,53.36L293.99,50.56L293.80,48.22L292.04,47.44L290.58,45.26L289.12,44.01L287.17,44.01L284.74,43.55L283.28,41.21L280.84,41.21L279.38,39.65L279.38,36.85L278.41,33.42L277.43,32.64L275.97,30.93L274.51,30.46L272.07,30.30L270.61,27.19L269.15,26.41L268.18,24.38L267.20,23.14L265.74,23.14L263.80,23.14L261.36,23.14L259.90,20.64L258.44,22.51L258.73,20.96L257.95,20.96L256.98,22.05L255.52,22.51L254.54,23.29L254.06,25.01L253.08,26.41L252.11,25.32L250.65,24.85L249.19,25.78L247.72,24.85L246.56,22.51L246.75,20.18L247.04,16.28L246.26,15.03L244.32,14.72L242.08,14.41L242.37,10.83L242.86,9.27L243.34,6.15L241.39,6.31L240.03,7.24L239.45,10.05L238.47,10.67L236.04,11.30L234.38,9.74L233.12,6.93L233.21,4.60L233.41,-0.08L233.31,-1.64Z M250.06,-1.64L250.06,-0.55L249.77,0.39L249.09,0.55L248.70,-0.70L248.41,-1.64Z M245.39,5.53L247.24,3.97L249.19,3.66L250.65,4.60L252.59,5.69L254.35,6.78L255.81,8.18L255.03,8.65L252.40,8.65L252.89,7.56L251.62,6.15L249.67,5.38L248.21,5.06L246.75,5.69Z M255.52,10.98L257.17,8.65L258.93,8.65L260.87,9.74L261.56,10.67L259.90,11.30L258.44,12.23L257.17,11.30Z M251.82,10.98L253.86,11.45L253.28,12.07L252.11,11.45Z M262.63,10.83L264.19,10.98L264.19,11.61L262.63,11.61Z M314.64,-1.64L313.76,-0.08L312.50,2.57L311.52,6.93L312.01,9.27L312.30,11.61L311.52,15.50L311.03,16.75L311.72,18.62L311.81,20.49L312.98,21.73L313.96,23.29L315.13,24.85L315.90,27.97L317.37,29.06L318.83,31.08L320.77,32.80L323.21,31.71L326.13,32.17L328.08,30.93L329.54,29.99L331.49,29.68L332.95,30.61L333.92,32.95L335.38,32.64L336.36,32.64L337.43,33.57L337.63,35.76L337.33,38.09L337.14,40.43L337.82,43.55L339.28,45.88L339.96,48.84L340.74,52.12L341.23,56.01L341.52,58.35L340.25,60.68L339.77,63.80L339.57,66.92L341.23,71.59L342.20,74.71L342.50,80.94L357.30,80.94L357.30,-1.64Z" fill="#7f7f7f" stroke="#7f7f7f" stroke-width="1.2" stroke-linejoin="round"/>
<path d="M19.10,43.60 C19.95,43.27 22.33,42.62 24.20,41.60 C26.07,40.58 28.43,39.38 30.30,37.50 C32.17,35.62 33.87,32.68 35.40,30.30 C36.93,27.92 38.10,24.87 39.50,23.20 C40.90,21.53 42.33,20.95 43.80,20.30 C45.27,19.65 47.55,19.47 48.30,19.30" fill="none" stroke="#262626" stroke-width="1.0" stroke-linejoin="round"/><path d="M53.30,27.80 C53.72,27.55 54.88,26.80 55.80,26.30 C56.72,25.80 57.63,25.55 58.80,24.80 C59.97,24.05 61.55,22.88 62.80,21.80 C64.05,20.72 65.72,18.88 66.30,18.30" fill="none" stroke="#262626" stroke-width="1.0" stroke-linejoin="round"/><path d="M57.80,40.80 C58.80,40.72 62.13,40.30 63.80,40.30 C65.47,40.30 66.63,40.38 67.80,40.80 C68.97,41.22 69.97,42.05 70.80,42.80 C71.63,43.55 72.47,44.88 72.80,45.30" fill="none" stroke="#262626" stroke-width="1.0" stroke-linejoin="round"/><path d="M12.00,78.20 C13.02,77.87 15.72,77.55 18.10,76.20 C20.48,74.85 23.75,71.90 26.30,70.10 C28.85,68.30 30.02,66.60 33.40,65.40 C36.78,64.20 42.02,63.82 46.60,62.90 C51.18,61.98 56.82,60.75 60.90,59.90 C64.98,59.05 67.70,57.80 71.10,57.80 C74.50,57.80 78.58,58.70 81.30,59.90 C84.02,61.10 86.05,63.48 87.40,65.00 C88.75,66.52 88.83,67.53 89.40,69.00 C89.97,70.47 90.57,73.00 90.80,73.80" fill="none" stroke="#262626" stroke-width="1.0" stroke-linejoin="round"/><path d="M87.80,21.80 C89.22,21.53 93.53,20.82 96.30,20.20 C99.07,19.58 101.35,18.78 104.40,18.10 C107.45,17.42 111.55,16.37 114.60,16.10 C117.65,15.83 119.65,15.82 122.70,16.50 C125.75,17.18 129.50,18.98 132.90,20.20 C136.30,21.42 139.72,22.97 143.10,23.80 C146.48,24.63 149.98,24.62 153.20,25.20 C156.42,25.78 160.37,26.52 162.40,27.30 C164.43,28.08 165.23,28.88 165.40,29.90 C165.57,30.92 164.42,32.15 163.40,33.40 C162.38,34.65 159.80,36.22 159.30,37.40 C158.80,38.58 159.38,39.47 160.40,40.50 C161.42,41.53 162.87,42.42 165.40,43.60 C167.93,44.78 172.20,46.25 175.60,47.60 C179.00,48.95 182.75,50.17 185.80,51.70 C188.85,53.23 192.20,55.28 193.90,56.80 C195.60,58.32 196.33,59.45 196.00,60.80 C195.67,62.15 193.93,63.70 191.90,64.90 C189.87,66.10 187.18,67.15 183.80,68.00 C180.42,68.85 176.35,69.83 171.60,70.00 C166.85,70.17 160.40,69.17 155.30,69.00 C150.20,68.83 145.42,68.83 141.00,69.00 C136.58,69.17 131.83,69.53 128.80,70.00 C125.77,70.47 124.63,71.33 122.80,71.80 C120.97,72.27 118.63,72.63 117.80,72.80" fill="none" stroke="#262626" stroke-width="1.0" stroke-linejoin="round"/><path d="M99.80,39.80 C100.97,39.13 104.33,36.87 106.80,35.80 C109.27,34.73 111.95,34.48 114.60,33.40 C117.25,32.32 120.00,29.98 122.70,29.30 C125.40,28.62 127.75,28.78 130.80,29.30 C133.85,29.82 137.60,31.05 141.00,32.40 C144.40,33.75 148.15,35.53 151.20,37.40 C154.25,39.27 155.90,41.55 159.30,43.60 C162.70,45.65 168.20,47.83 171.60,49.70 C175.00,51.57 178.00,53.12 179.70,54.80 C181.40,56.48 182.48,58.45 181.80,59.80 C181.12,61.15 179.00,62.32 175.60,62.90 C172.20,63.48 165.47,63.13 161.40,63.30 C157.33,63.47 154.60,63.97 151.20,63.90 C147.80,63.83 145.07,63.07 141.00,62.90 C136.93,62.73 130.53,62.40 126.80,62.90 C123.07,63.40 121.10,65.08 118.60,65.90 C116.10,66.72 112.93,67.48 111.80,67.80" fill="none" stroke="#262626" stroke-width="1.0" stroke-linejoin="round"/><path d="M228.10,13.10 C229.35,13.10 231.13,13.85 231.80,14.80 C232.47,15.75 232.68,17.75 232.10,18.80 C231.52,19.85 229.60,21.10 228.30,21.10 C227.00,21.10 224.97,19.85 224.30,18.80 C223.63,17.75 223.67,15.75 224.30,14.80 C224.93,13.85 226.85,13.10 228.10,13.10Z" fill="none" stroke="#262626" stroke-width="1.0" stroke-linejoin="round"/><path d="M246.00,24.30 C247.08,24.30 248.75,25.22 249.30,26.30 C249.85,27.38 249.88,29.78 249.30,30.80 C248.72,31.82 246.88,32.48 245.80,32.40 C244.72,32.32 243.30,31.32 242.80,30.30 C242.30,29.28 242.27,27.30 242.80,26.30 C243.33,25.30 244.92,24.30 246.00,24.30Z" fill="none" stroke="#262626" stroke-width="1.0" stroke-linejoin="round"/><path d="M279.00,35.40 C279.63,35.88 281.45,37.28 282.80,38.30 C284.15,39.32 286.38,40.97 287.10,41.50" fill="none" stroke="#262626" stroke-width="1.0" stroke-linejoin="round"/><path d="M305.40,30.30 C306.42,31.15 308.45,34.03 311.50,35.40 C314.55,36.77 319.63,37.15 323.70,38.50 C327.77,39.85 333.87,42.67 335.90,43.50" fill="none" stroke="#262626" stroke-width="1.0" stroke-linejoin="round"/><path d="M20.20,50.60 C20.87,50.68 21.95,51.10 22.30,51.80 C22.65,52.50 22.65,54.13 22.30,54.80 C21.95,55.47 20.87,55.88 20.20,55.80 C19.53,55.72 18.62,55.05 18.30,54.30 C17.98,53.55 17.98,51.92 18.30,51.30 C18.62,50.68 19.53,50.52 20.20,50.60Z" fill="none" stroke="#262626" stroke-width="1.0" stroke-linejoin="round"/><path d="M19.80,60.80 C20.30,60.47 21.63,61.97 21.80,62.80 C21.97,63.63 21.30,65.47 20.80,65.80 C20.30,66.13 18.97,65.63 18.80,64.80 C18.63,63.97 19.30,61.13 19.80,60.80Z" fill="none" stroke="#262626" stroke-width="1.0" stroke-linejoin="round"/><text x="44.6" y="22.2" font-size="5.2" text-anchor="middle" fill="#333">29°C</text><text x="60.8" y="24.4" font-size="5.2" text-anchor="middle" fill="#333">28°C</text><text x="63.8" y="41.9" font-size="5.2" text-anchor="middle" fill="#333">29°C</text><text x="37.3" y="67.0" font-size="5.2" text-anchor="middle" fill="#333">28°C</text><text x="91.8" y="35.4" font-size="5.2" text-anchor="middle" fill="#333">29°C</text><text x="99.8" y="33.4" font-size="5.2" text-anchor="middle" fill="#333">29°C</text><text x="161.8" y="49.9" font-size="5.2" text-anchor="middle" fill="#333">29°C</text><text x="130.8" y="70.9" font-size="5.2" text-anchor="middle" fill="#333">28°C</text><text x="130.8" y="64.4" font-size="5.2" text-anchor="middle" fill="#333">29°C</text><text x="170.8" y="71.4" font-size="5.2" text-anchor="middle" fill="#333">28°C</text>
</g>

<rect x="0" y="0" width="351.60" height="79.2" fill="none" stroke="#333" stroke-width="1"/>
<line x1="-2.5" y1="16.28" x2="0" y2="16.28" stroke="#333" stroke-width="0.8"/>
<line x1="351.60" y1="16.28" x2="354.10" y2="16.28" stroke="#333" stroke-width="0.8"/>
<line x1="-2.5" y1="63.02" x2="0" y2="63.02" stroke="#333" stroke-width="0.8"/>
<line x1="351.60" y1="63.02" x2="354.10" y2="63.02" stroke="#333" stroke-width="0.8"/>
<line x1="16.40" y1="79.2" x2="16.40" y2="81.7" stroke="#333" stroke-width="0.8"/>
<line x1="16.40" y1="0" x2="16.40" y2="-2.5" stroke="#333" stroke-width="0.8"/>
<line x1="94.32" y1="79.2" x2="94.32" y2="81.7" stroke="#333" stroke-width="0.8"/>
<line x1="94.32" y1="0" x2="94.32" y2="-2.5" stroke="#333" stroke-width="0.8"/>
<line x1="211.20" y1="79.2" x2="211.20" y2="81.7" stroke="#333" stroke-width="0.8"/>
<line x1="211.20" y1="0" x2="211.20" y2="-2.5" stroke="#333" stroke-width="0.8"/>
<line x1="328.08" y1="79.2" x2="328.08" y2="81.7" stroke="#333" stroke-width="0.8"/>
<line x1="328.08" y1="0" x2="328.08" y2="-2.5" stroke="#333" stroke-width="0.8"/>
</g>
<text x="8.5" y="47.08" font-size="14" fill="#111" textLength="29.1" lengthAdjust="spacingAndGlyphs">15°N</text>
<text x="11.2" y="93.82" font-size="14" fill="#111" textLength="26.4" lengthAdjust="spacingAndGlyphs">15°S</text>
<g transform="translate(40.2,110.2)">
<clipPath id="c1"><rect x="0" y="0" width="351.60" height="79.2"/></clipPath>
<g clip-path="url(#c1)">
<rect x="0" y="0" width="351.60" height="79.2" fill="#ffe4b5"/>
<g filter="url(#blur)"><rect x="-9.77" y="-7.92" width="10.07" height="8.22" fill="#fac48a"/><rect x="0.00" y="-7.92" width="10.07" height="8.22" fill="#fac48a"/><rect x="9.77" y="-7.92" width="10.07" height="8.22" fill="#fac48a"/><rect x="19.53" y="-7.92" width="10.07" height="8.22" fill="#fac48a"/><rect x="29.30" y="-7.92" width="10.07" height="8.22" fill="#fac48a"/><rect x="39.07" y="-7.92" width="10.07" height="8.22" fill="#f2e5d8"/><rect x="48.83" y="-7.92" width="10.07" height="8.22" fill="#f2e5d8"/><rect x="58.60" y="-7.92" width="10.07" height="8.22" fill="#ddebf5"/><rect x="68.37" y="-7.92" width="10.07" height="8.22" fill="#ddebf5"/><rect x="78.13" y="-7.92" width="10.07" height="8.22" fill="#fac48a"/><rect x="87.90" y="-7.92" width="10.07" height="8.22" fill="#f84000"/><rect x="97.67" y="-7.92" width="10.07" height="8.22" fill="#f84000"/><rect x="107.43" y="-7.92" width="10.07" height="8.22" fill="#ff0000"/><rect x="117.20" y="-7.92" width="10.07" height="8.22" fill="#dc7114"/><rect x="126.97" y="-7.92" width="10.07" height="8.22" fill="#dc7114"/><rect x="136.73" y="-7.92" width="10.07" height="8.22" fill="#dc7114"/><rect x="146.50" y="-7.92" width="10.07" height="8.22" fill="#dc7114"/><rect x="156.27" y="-7.92" width="10.07" height="8.22" fill="#dc7114"/><rect x="166.03" y="-7.92" width="10.07" height="8.22" fill="#dc7114"/><rect x="175.80" y="-7.92" width="10.07" height="8.22" fill="#f08000"/><rect x="185.57" y="-7.92" width="10.07" height="8.22" fill="#f4a460"/><rect x="195.33" y="-7.92" width="10.07" height="8.22" fill="#f4a460"/><rect x="205.10" y="-7.92" width="10.07" height="8.22" fill="#f29230"/><rect x="214.87" y="-7.92" width="10.07" height="8.22" fill="#f08000"/><rect x="224.63" y="-7.92" width="10.07" height="8.22" fill="#f08000"/><rect x="234.40" y="-7.92" width="10.07" height="8.22" fill="#ff0000"/><rect x="244.17" y="-7.92" width="10.07" height="8.22" fill="#ff0000"/><rect x="253.93" y="-7.92" width="10.07" height="8.22" fill="#ff0000"/><rect x="263.70" y="-7.92" width="10.07" height="8.22" fill="#f84000"/><rect x="273.47" y="-7.92" width="10.07" height="8.22" fill="#f08000"/><rect x="283.23" y="-7.92" width="10.07" height="8.22" fill="#f29230"/><rect x="293.00" y="-7.92" width="10.07" height="8.22" fill="#f4a460"/><rect x="302.77" y="-7.92" width="10.07" height="8.22" fill="#fac48a"/><rect x="312.53" y="-7.92" width="10.07" height="8.22" fill="#fac48a"/><rect x="322.30" y="-7.92" width="10.07" height="8.22" fill="#fac48a"/><rect x="332.07" y="-7.92" width="10.07" height="8.22" fill="#fac48a"/><rect x="341.83" y="-7.92" width="10.07" height="8.22" fill="#fac48a"/><rect x="351.60" y="-7.92" width="10.07" height="8.22" fill="#fac48a"/><rect x="-9.77" y="0.00" width="10.07" height="8.22" fill="#fac48a"/><rect x="0.00" y="0.00" width="10.07" height="8.22" fill="#fac48a"/><rect x="9.77" y="0.00" width="10.07" height="8.22" fill="#fac48a"/><rect x="19.53" y="0.00" width="10.07" height="8.22" fill="#fac48a"/><rect x="29.30" y="0.00" width="10.07" height="8.22" fill="#fac48a"/><rect x="39.07" y="0.00" width="10.07" height="8.22" fill="#f2e5d8"/><rect x="48.83" y="0.00" width="10.07" height="8.22" fill="#f2e5d8"/><rect x="58.60" y="0.00" width="10.07" height="8.22" fill="#ddebf5"/><rect x="68.37" y="0.00" width="10.07" height="8.22" fill="#ddebf5"/><rect x="78.13" y="0.00" width="10.07" height="8.22" fill="#fac48a"/><rect x="87.90" y="0.00" width="10.07" height="8.22" fill="#f84000"/><rect x="97.67" y="0.00" width="10.07" height="8.22" fill="#f84000"/><rect x="107.43" y="0.00" width="10.07" height="8.22" fill="#ff0000"/><rect x="117.20" y="0.00" width="10.07" height="8.22" fill="#dc7114"/><rect x="126.97" y="0.00" width="10.07" height="8.22" fill="#dc7114"/><rect x="136.73" y="0.00" width="10.07" height="8.22" fill="#dc7114"/><rect x="146.50" y="0.00" width="10.07" height="8.22" fill="#dc7114"/><rect x="156.27" y="0.00" width="10.07" height="8.22" fill="#dc7114"/><rect x="166.03" y="0.00" width="10.07" height="8.22" fill="#dc7114"/><rect x="175.80" y="0.00" width="10.07" height="8.22" fill="#f08000"/><rect x="185.57" y="0.00" width="10.07" height="8.22" fill="#f4a460"/><rect x="195.33" y="0.00" width="10.07" height="8.22" fill="#f4a460"/><rect x="205.10" y="0.00" width="10.07" height="8.22" fill="#f29230"/><rect x="214.87" y="0.00" width="10.07" height="8.22" fill="#f08000"/><rect x="224.63" y="0.00" width="10.07" height="8.22" fill="#f08000"/><rect x="234.40" y="0.00" width="10.07" height="8.22" fill="#ff0000"/><rect x="244.17" y="0.00" width="10.07" height="8.22" fill="#ff0000"/><rect x="253.93" y="0.00" width="10.07" height="8.22" fill="#ff0000"/><rect x="263.70" y="0.00" width="10.07" height="8.22" fill="#f84000"/><rect x="273.47" y="0.00" width="10.07" height="8.22" fill="#f08000"/><rect x="283.23" y="0.00" width="10.07" height="8.22" fill="#f29230"/><rect x="293.00" y="0.00" width="10.07" height="8.22" fill="#f4a460"/><rect x="302.77" y="0.00" width="10.07" height="8.22" fill="#fac48a"/><rect x="312.53" y="0.00" width="10.07" height="8.22" fill="#fac48a"/><rect x="322.30" y="0.00" width="10.07" height="8.22" fill="#fac48a"/><rect x="332.07" y="0.00" width="10.07" height="8.22" fill="#fac48a"/><rect x="341.83" y="0.00" width="10.07" height="8.22" fill="#fac48a"/><rect x="351.60" y="0.00" width="10.07" height="8.22" fill="#fac48a"/><rect x="-9.77" y="7.92" width="10.07" height="8.22" fill="#f29230"/><rect x="0.00" y="7.92" width="10.07" height="8.22" fill="#f29230"/><rect x="9.77" y="7.92" width="10.07" height="8.22" fill="#f29230"/><rect x="19.53" y="7.92" width="10.07" height="8.22" fill="#f29230"/><rect x="29.30" y="7.92" width="10.07" height="8.22" fill="#f29230"/><rect x="39.07" y="7.92" width="10.07" height="8.22" fill="#fac48a"/><rect x="48.83" y="7.92" width="10.07" height="8.22" fill="#f29230"/><rect x="58.60" y="7.92" width="10.07" height="8.22" fill="#ddebf5"/><rect x="68.37" y="7.92" width="10.07" height="8.22" fill="#f29230"/><rect x="78.13" y="7.92" width="10.07" height="8.22" fill="#f08000"/><rect x="87.90" y="7.92" width="10.07" height="8.22" fill="#f84000"/><rect x="97.67" y="7.92" width="10.07" height="8.22" fill="#f84000"/><rect x="107.43" y="7.92" width="10.07" height="8.22" fill="#f84000"/><rect x="117.20" y="7.92" width="10.07" height="8.22" fill="#dc7114"/><rect x="126.97" y="7.92" width="10.07" height="8.22" fill="#f84000"/><rect x="136.73" y="7.92" width="10.07" height="8.22" fill="#dc7114"/><rect x="146.50" y="7.92" width="10.07" height="8.22" fill="#dc7114"/><rect x="156.27" y="7.92" width="10.07" height="8.22" fill="#dc7114"/><rect x="166.03" y="7.92" width="10.07" height="8.22" fill="#dc7114"/><rect x="175.80" y="7.92" width="10.07" height="8.22" fill="#f08000"/><rect x="185.57" y="7.92" width="10.07" height="8.22" fill="#f4a460"/><rect x="195.33" y="7.92" width="10.07" height="8.22" fill="#f4a460"/><rect x="205.10" y="7.92" width="10.07" height="8.22" fill="#f29230"/><rect x="214.87" y="7.92" width="10.07" height="8.22" fill="#f08000"/><rect x="224.63" y="7.92" width="10.07" height="8.22" fill="#f29230"/><rect x="234.40" y="7.92" width="10.07" height="8.22" fill="#f29230"/><rect x="244.17" y="7.92" width="10.07" height="8.22" fill="#f29230"/><rect x="253.93" y="7.92" width="10.07" height="8.22" fill="#dc7114"/><rect x="263.70" y="7.92" width="10.07" height="8.22" fill="#f08000"/><rect x="273.47" y="7.92" width="10.07" height="8.22" fill="#f29230"/><rect x="283.23" y="7.92" width="10.07" height="8.22" fill="#f4a460"/><rect x="293.00" y="7.92" width="10.07" height="8.22" fill="#ffe4b5"/><rect x="302.77" y="7.92" width="10.07" height="8.22" fill="#ffe4b5"/><rect x="312.53" y="7.92" width="10.07" height="8.22" fill="#ffe4b5"/><rect x="322.30" y="7.92" width="10.07" height="8.22" fill="#ffe4b5"/><rect x="332.07" y="7.92" width="10.07" height="8.22" fill="#ffe4b5"/><rect x="341.83" y="7.92" width="10.07" height="8.22" fill="#ffe4b5"/><rect x="351.60" y="7.92" width="10.07" height="8.22" fill="#ffe4b5"/><rect x="-9.77" y="15.84" width="10.07" height="8.22" fill="#f08000"/><rect x="0.00" y="15.84" width="10.07" height="8.22" fill="#f08000"/><rect x="9.77" y="15.84" width="10.07" height="8.22" fill="#f08000"/><rect x="19.53" y="15.84" width="10.07" height="8.22" fill="#f08000"/><rect x="29.30" y="15.84" width="10.07" height="8.22" fill="#f29230"/><rect x="39.07" y="15.84" width="10.07" height="8.22" fill="#fac48a"/><rect x="48.83" y="15.84" width="10.07" height="8.22" fill="#f29230"/><rect x="58.60" y="15.84" width="10.07" height="8.22" fill="#f08000"/><rect x="68.37" y="15.84" width="10.07" height="8.22" fill="#f08000"/><rect x="78.13" y="15.84" width="10.07" height="8.22" fill="#f08000"/><rect x="87.90" y="15.84" width="10.07" height="8.22" fill="#f84000"/><rect x="97.67" y="15.84" width="10.07" height="8.22" fill="#ff0000"/><rect x="107.43" y="15.84" width="10.07" height="8.22" fill="#f84000"/><rect x="117.20" y="15.84" width="10.07" height="8.22" fill="#f84000"/><rect x="126.97" y="15.84" width="10.07" height="8.22" fill="#f84000"/><rect x="136.73" y="15.84" width="10.07" height="8.22" fill="#f84000"/><rect x="146.50" y="15.84" width="10.07" height="8.22" fill="#dc7114"/><rect x="156.27" y="15.84" width="10.07" height="8.22" fill="#dc7114"/><rect x="166.03" y="15.84" width="10.07" height="8.22" fill="#dc7114"/><rect x="175.80" y="15.84" width="10.07" height="8.22" fill="#f08000"/><rect x="185.57" y="15.84" width="10.07" height="8.22" fill="#f29230"/><rect x="195.33" y="15.84" width="10.07" height="8.22" fill="#f29230"/><rect x="205.10" y="15.84" width="10.07" height="8.22" fill="#f29230"/><rect x="214.87" y="15.84" width="10.07" height="8.22" fill="#f29230"/><rect x="224.63" y="15.84" width="10.07" height="8.22" fill="#fac48a"/><rect x="234.40" y="15.84" width="10.07" height="8.22" fill="#f4a460"/><rect x="244.17" y="15.84" width="10.07" height="8.22" fill="#dc7114"/><rect x="253.93" y="15.84" width="10.07" height="8.22" fill="#f08000"/><rect x="263.70" y="15.84" width="10.07" height="8.22" fill="#f4a460"/><rect x="273.47" y="15.84" width="10.07" height="8.22" fill="#fac48a"/><rect x="283.23" y="15.84" width="10.07" height="8.22" fill="#ffe4b5"/><rect x="293.00" y="15.84" width="10.07" height="8.22" fill="#ffe4b5"/><rect x="302.77" y="15.84" width="10.07" height="8.22" fill="#ffe4b5"/><rect x="312.53" y="15.84" width="10.07" height="8.22" fill="#ffe4b5"/><rect x="322.30" y="15.84" width="10.07" height="8.22" fill="#ffe4b5"/><rect x="332.07" y="15.84" width="10.07" height="8.22" fill="#ffe4b5"/><rect x="341.83" y="15.84" width="10.07" height="8.22" fill="#ffe4b5"/><rect x="351.60" y="15.84" width="10.07" height="8.22" fill="#ffe4b5"/><rect x="-9.77" y="23.76" width="10.07" height="8.22" fill="#f08000"/><rect x="0.00" y="23.76" width="10.07" height="8.22" fill="#f08000"/><rect x="9.77" y="23.76" width="10.07" height="8.22" fill="#f08000"/><rect x="19.53" y="23.76" width="10.07" height="8.22" fill="#f08000"/><rect x="29.30" y="23.76" width="10.07" height="8.22" fill="#dc7114"/><rect x="39.07" y="23.76" width="10.07" height="8.22" fill="#dc7114"/><rect x="48.83" y="23.76" width="10.07" height="8.22" fill="#dc7114"/><rect x="58.60" y="23.76" width="10.07" height="8.22" fill="#dc7114"/><rect x="68.37" y="23.76" width="10.07" height="8.22" fill="#f08000"/><rect x="78.13" y="23.76" width="10.07" height="8.22" fill="#f29230"/><rect x="87.90" y="23.76" width="10.07" height="8.22" fill="#f84000"/><rect x="97.67" y="23.76" width="10.07" height="8.22" fill="#f84000"/><rect x="107.43" y="23.76" width="10.07" height="8.22" fill="#ff0000"/><rect x="117.20" y="23.76" width="10.07" height="8.22" fill="#f84000"/><rect x="126.97" y="23.76" width="10.07" height="8.22" fill="#ff0000"/><rect x="136.73" y="23.76" width="10.07" height="8.22" fill="#ff0000"/><rect x="146.50" y="23.76" width="10.07" height="8.22" fill="#f84000"/><rect x="156.27" y="23.76" width="10.07" height="8.22" fill="#dc7114"/><rect x="166.03" y="23.76" width="10.07" height="8.22" fill="#dc7114"/><rect x="175.80" y="23.76" width="10.07" height="8.22" fill="#f08000"/><rect x="185.57" y="23.76" width="10.07" height="8.22" fill="#f08000"/><rect x="195.33" y="23.76" width="10.07" height="8.22" fill="#f08000"/><rect x="205.10" y="23.76" width="10.07" height="8.22" fill="#f08000"/><rect x="214.87" y="23.76" width="10.07" height="8.22" fill="#f29230"/><rect x="224.63" y="23.76" width="10.07" height="8.22" fill="#f4a460"/><rect x="234.40" y="23.76" width="10.07" height="8.22" fill="#f2e5d8"/><rect x="244.17" y="23.76" width="10.07" height="8.22" fill="#f2e5d8"/><rect x="253.93" y="23.76" width="10.07" height="8.22" fill="#f29230"/><rect x="263.70" y="23.76" width="10.07" height="8.22" fill="#f29230"/><rect x="273.47" y="23.76" width="10.07" height="8.22" fill="#f4a460"/><rect x="283.23" y="23.76" width="10.07" height="8.22" fill="#fac48a"/><rect x="293.00" y="23.76" width="10.07" height="8.22" fill="#ffe4b5"/><rect x="302.77" y="23.76" width="10.07" height="8.22" fill="#ffe4b5"/><rect x="312.53" y="23.76" width="10.07" height="8.22" fill="#f2e5d8"/><rect x="322.30" y="23.76" width="10.07" height="8.22" fill="#f2e5d8"/><rect x="332.07" y="23.76" width="10.07" height="8.22" fill="#f2e5d8"/><rect x="341.83" y="23.76" width="10.07" height="8.22" fill="#f2e5d8"/><rect x="351.60" y="23.76" width="10.07" height="8.22" fill="#f2e5d8"/><rect x="-9.77" y="31.68" width="10.07" height="8.22" fill="#f29230"/><rect x="0.00" y="31.68" width="10.07" height="8.22" fill="#f29230"/><rect x="9.77" y="31.68" width="10.07" height="8.22" fill="#f29230"/><rect x="19.53" y="31.68" width="10.07" height="8.22" fill="#f08000"/><rect x="29.30" y="31.68" width="10.07" height="8.22" fill="#dc7114"/><rect x="39.07" y="31.68" width="10.07" height="8.22" fill="#dc7114"/><rect x="48.83" y="31.68" width="10.07" height="8.22" fill="#dc7114"/><rect x="58.60" y="31.68" width="10.07" height="8.22" fill="#dc7114"/><rect x="68.37" y="31.68" width="10.07" height="8.22" fill="#f08000"/><rect x="78.13" y="31.68" width="10.07" height="8.22" fill="#f08000"/><rect x="87.90" y="31.68" width="10.07" height="8.22" fill="#f08000"/><rect x="97.67" y="31.68" width="10.07" height="8.22" fill="#f84000"/><rect x="107.43" y="31.68" width="10.07" height="8.22" fill="#f84000"/><rect x="117.20" y="31.68" width="10.07" height="8.22" fill="#dc7114"/><rect x="126.97" y="31.68" width="10.07" height="8.22" fill="#f84000"/><rect x="136.73" y="31.68" width="10.07" height="8.22" fill="#ff0000"/><rect x="146.50" y="31.68" width="10.07" height="8.22" fill="#ff0000"/><rect x="156.27" y="31.68" width="10.07" height="8.22" fill="#dc7114"/><rect x="166.03" y="31.68" width="10.07" height="8.22" fill="#dc7114"/><rect x="175.80" y="31.68" width="10.07" height="8.22" fill="#f08000"/><rect x="185.57" y="31.68" width="10.07" height="8.22" fill="#f4a460"/><rect x="195.33" y="31.68" width="10.07" height="8.22" fill="#fac48a"/><rect x="205.10" y="31.68" width="10.07" height="8.22" fill="#fac48a"/><rect x="214.87" y="31.68" width="10.07" height="8.22" fill="#fac48a"/><rect x="224.63" y="31.68" width="10.07" height="8.22" fill="#fac48a"/><rect x="234.40" y="31.68" width="10.07" height="8.22" fill="#f2e5d8"/><rect x="244.17" y="31.68" width="10.07" height="8.22" fill="#f2e5d8"/><rect x="253.93" y="31.68" width="10.07" height="8.22" fill="#f2e5d8"/><rect x="263.70" y="31.68" width="10.07" height="8.22" fill="#f4a460"/><rect x="273.47" y="31.68" width="10.07" height="8.22" fill="#f4a460"/><rect x="283.23" y="31.68" width="10.07" height="8.22" fill="#ffe4b5"/><rect x="293.00" y="31.68" width="10.07" height="8.22" fill="#ffe4b5"/><rect x="302.77" y="31.68" width="10.07" height="8.22" fill="#f2e5d8"/><rect x="312.53" y="31.68" width="10.07" height="8.22" fill="#e6e6fa"/><rect x="322.30" y="31.68" width="10.07" height="8.22" fill="#e6e6fa"/><rect x="332.07" y="31.68" width="10.07" height="8.22" fill="#e6e6fa"/><rect x="341.83" y="31.68" width="10.07" height="8.22" fill="#e6e6fa"/><rect x="351.60" y="31.68" width="10.07" height="8.22" fill="#e6e6fa"/><rect x="-9.77" y="39.60" width="10.07" height="8.22" fill="#f29230"/><rect x="0.00" y="39.60" width="10.07" height="8.22" fill="#f29230"/><rect x="9.77" y="39.60" width="10.07" height="8.22" fill="#f29230"/><rect x="19.53" y="39.60" width="10.07" height="8.22" fill="#f29230"/><rect x="29.30" y="39.60" width="10.07" height="8.22" fill="#f08000"/><rect x="39.07" y="39.60" width="10.07" height="8.22" fill="#f29230"/><rect x="48.83" y="39.60" width="10.07" height="8.22" fill="#f29230"/><rect x="58.60" y="39.60" width="10.07" height="8.22" fill="#f29230"/><rect x="68.37" y="39.60" width="10.07" height="8.22" fill="#f29230"/><rect x="78.13" y="39.60" width="10.07" height="8.22" fill="#f29230"/><rect x="87.90" y="39.60" width="10.07" height="8.22" fill="#f08000"/><rect x="97.67" y="39.60" width="10.07" height="8.22" fill="#dc7114"/><rect x="107.43" y="39.60" width="10.07" height="8.22" fill="#dc7114"/><rect x="117.20" y="39.60" width="10.07" height="8.22" fill="#dc7114"/><rect x="126.97" y="39.60" width="10.07" height="8.22" fill="#f84000"/><rect x="136.73" y="39.60" width="10.07" height="8.22" fill="#f84000"/><rect x="146.50" y="39.60" width="10.07" height="8.22" fill="#dc7114"/><rect x="156.27" y="39.60" width="10.07" height="8.22" fill="#dc7114"/><rect x="166.03" y="39.60" width="10.07" height="8.22" fill="#dc7114"/><rect x="175.80" y="39.60" width="10.07" height="8.22" fill="#f4a460"/><rect x="185.57" y="39.60" width="10.07" height="8.22" fill="#fac48a"/><rect x="195.33" y="39.60" width="10.07" height="8.22" fill="#ffe4b5"/><rect x="205.10" y="39.60" width="10.07" height="8.22" fill="#e6e6fa"/><rect x="214.87" y="39.60" width="10.07" height="8.22" fill="#e6e6fa"/><rect x="224.63" y="39.60" width="10.07" height="8.22" fill="#e6e6fa"/><rect x="234.40" y="39.60" width="10.07" height="8.22" fill="#d4f0f0"/><rect x="244.17" y="39.60" width="10.07" height="8.22" fill="#d4f0f0"/><rect x="253.93" y="39.60" width="10.07" height="8.22" fill="#d4f0f0"/><rect x="263.70" y="39.60" width="10.07" height="8.22" fill="#ddebf5"/><rect x="273.47" y="39.60" width="10.07" height="8.22" fill="#ddebf5"/><rect x="283.23" y="39.60" width="10.07" height="8.22" fill="#ddebf5"/><rect x="293.00" y="39.60" width="10.07" height="8.22" fill="#d4f0f0"/><rect x="302.77" y="39.60" width="10.07" height="8.22" fill="#d4f0f0"/><rect x="312.53" y="39.60" width="10.07" height="8.22" fill="#d4f0f0"/><rect x="322.30" y="39.60" width="10.07" height="8.22" fill="#d4f0f0"/><rect x="332.07" y="39.60" width="10.07" height="8.22" fill="#d4f0f0"/><rect x="341.83" y="39.60" width="10.07" height="8.22" fill="#d4f0f0"/><rect x="351.60" y="39.60" width="10.07" height="8.22" fill="#d4f0f0"/><rect x="-9.77" y="47.52" width="10.07" height="8.22" fill="#f2e5d8"/><rect x="0.00" y="47.52" width="10.07" height="8.22" fill="#f2e5d8"/><rect x="9.77" y="47.52" width="10.07" height="8.22" fill="#f2e5d8"/><rect x="19.53" y="47.52" width="10.07" height="8.22" fill="#e6e6fa"/><rect x="29.30" y="47.52" width="10.07" height="8.22" fill="#f2e5d8"/><rect x="39.07" y="47.52" width="10.07" height="8.22" fill="#ffe4b5"/><rect x="48.83" y="47.52" width="10.07" height="8.22" fill="#ffe4b5"/><rect x="58.60" y="47.52" width="10.07" height="8.22" fill="#fac48a"/><rect x="68.37" y="47.52" width="10.07" height="8.22" fill="#fac48a"/><rect x="78.13" y="47.52" width="10.07" height="8.22" fill="#f29230"/><rect x="87.90" y="47.52" width="10.07" height="8.22" fill="#f29230"/><rect x="97.67" y="47.52" width="10.07" height="8.22" fill="#f08000"/><rect x="107.43" y="47.52" width="10.07" height="8.22" fill="#f08000"/><rect x="117.20" y="47.52" width="10.07" height="8.22" fill="#f08000"/><rect x="126.97" y="47.52" width="10.07" height="8.22" fill="#f08000"/><rect x="136.73" y="47.52" width="10.07" height="8.22" fill="#dc7114"/><rect x="146.50" y="47.52" width="10.07" height="8.22" fill="#dc7114"/><rect x="156.27" y="47.52" width="10.07" height="8.22" fill="#dc7114"/><rect x="166.03" y="47.52" width="10.07" height="8.22" fill="#f08000"/><rect x="175.80" y="47.52" width="10.07" height="8.22" fill="#ffe4b5"/><rect x="185.57" y="47.52" width="10.07" height="8.22" fill="#ffe4b5"/><rect x="195.33" y="47.52" width="10.07" height="8.22" fill="#e6e6fa"/><rect x="205.10" y="47.52" width="10.07" height="8.22" fill="#d4f0f0"/><rect x="214.87" y="47.52" width="10.07" height="8.22" fill="#d4f0f0"/><rect x="224.63" y="47.52" width="10.07" height="8.22" fill="#d4f0f0"/><rect x="234.40" y="47.52" width="10.07" height="8.22" fill="#d4f0f0"/><rect x="244.17" y="47.52" width="10.07" height="8.22" fill="#d4f0f0"/><rect x="253.93" y="47.52" width="10.07" height="8.22" fill="#d4f0f0"/><rect x="263.70" y="47.52" width="10.07" height="8.22" fill="#d4f0f0"/><rect x="273.47" y="47.52" width="10.07" height="8.22" fill="#d4f0f0"/><rect x="283.23" y="47.52" width="10.07" height="8.22" fill="#d4f0f0"/><rect x="293.00" y="47.52" width="10.07" height="8.22" fill="#add8e6"/><rect x="302.77" y="47.52" width="10.07" height="8.22" fill="#add8e6"/><rect x="312.53" y="47.52" width="10.07" height="8.22" fill="#add8e6"/><rect x="322.30" y="47.52" width="10.07" height="8.22" fill="#add8e6"/><rect x="332.07" y="47.52" width="10.07" height="8.22" fill="#d4f0f0"/><rect x="341.83" y="47.52" width="10.07" height="8.22" fill="#d4f0f0"/><rect x="351.60" y="47.52" width="10.07" height="8.22" fill="#d4f0f0"/><rect x="-9.77" y="55.44" width="10.07" height="8.22" fill="#ffe4b5"/><rect x="0.00" y="55.44" width="10.07" height="8.22" fill="#ffe4b5"/><rect x="9.77" y="55.44" width="10.07" height="8.22" fill="#ffe4b5"/><rect x="19.53" y="55.44" width="10.07" height="8.22" fill="#ffe4b5"/><rect x="29.30" y="55.44" width="10.07" height="8.22" fill="#ffe4b5"/><rect x="39.07" y="55.44" width="10.07" height="8.22" fill="#ffe4b5"/><rect x="48.83" y="55.44" width="10.07" height="8.22" fill="#ffe4b5"/><rect x="58.60" y="55.44" width="10.07" height="8.22" fill="#ffe4b5"/><rect x="68.37" y="55.44" width="10.07" height="8.22" fill="#ffe4b5"/><rect x="78.13" y="55.44" width="10.07" height="8.22" fill="#fac48a"/><rect x="87.90" y="55.44" width="10.07" height="8.22" fill="#f4a460"/><rect x="97.67" y="55.44" width="10.07" height="8.22" fill="#f4a460"/><rect x="107.43" y="55.44" width="10.07" height="8.22" fill="#f4a460"/><rect x="117.20" y="55.44" width="10.07" height="8.22" fill="#f4a460"/><rect x="126.97" y="55.44" width="10.07" height="8.22" fill="#f4a460"/><rect x="136.73" y="55.44" width="10.07" height="8.22" fill="#f4a460"/><rect x="146.50" y="55.44" width="10.07" height="8.22" fill="#f4a460"/><rect x="156.27" y="55.44" width="10.07" height="8.22" fill="#f4a460"/><rect x="166.03" y="55.44" width="10.07" height="8.22" fill="#fac48a"/><rect x="175.80" y="55.44" width="10.07" height="8.22" fill="#ffe4b5"/><rect x="185.57" y="55.44" width="10.07" height="8.22" fill="#f2e5d8"/><rect x="195.33" y="55.44" width="10.07" height="8.22" fill="#e6e6fa"/><rect x="205.10" y="55.44" width="10.07" height="8.22" fill="#e6e6fa"/><rect x="214.87" y="55.44" width="10.07" height="8.22" fill="#d4f0f0"/><rect x="224.63" y="55.44" width="10.07" height="8.22" fill="#e6e6fa"/><rect x="234.40" y="55.44" width="10.07" height="8.22" fill="#e6e6fa"/><rect x="244.17" y="55.44" width="10.07" height="8.22" fill="#add8e6"/><rect x="253.93" y="55.44" width="10.07" height="8.22" fill="#add8e6"/><rect x="263.70" y="55.44" width="10.07" height="8.22" fill="#add8e6"/><rect x="273.47" y="55.44" width="10.07" height="8.22" fill="#e6e6fa"/><rect x="283.23" y="55.44" width="10.07" height="8.22" fill="#e6e6fa"/><rect x="293.00" y="55.44" width="10.07" height="8.22" fill="#d4f0f0"/><rect x="302.77" y="55.44" width="10.07" height="8.22" fill="#d4f0f0"/><rect x="312.53" y="55.44" width="10.07" height="8.22" fill="#d4f0f0"/><rect x="322.30" y="55.44" width="10.07" height="8.22" fill="#d4f0f0"/><rect x="332.07" y="55.44" width="10.07" height="8.22" fill="#e6e6fa"/><rect x="341.83" y="55.44" width="10.07" height="8.22" fill="#e6e6fa"/><rect x="351.60" y="55.44" width="10.07" height="8.22" fill="#e6e6fa"/><rect x="-9.77" y="63.36" width="10.07" height="8.22" fill="#fac48a"/><rect x="0.00" y="63.36" width="10.07" height="8.22" fill="#fac48a"/><rect x="9.77" y="63.36" width="10.07" height="8.22" fill="#fac48a"/><rect x="19.53" y="63.36" width="10.07" height="8.22" fill="#ffe4b5"/><rect x="29.30" y="63.36" width="10.07" height="8.22" fill="#ffe4b5"/><rect x="39.07" y="63.36" width="10.07" height="8.22" fill="#ffe4b5"/><rect x="48.83" y="63.36" width="10.07" height="8.22" fill="#ffe4b5"/><rect x="58.60" y="63.36" width="10.07" height="8.22" fill="#ffe4b5"/><rect x="68.37" y="63.36" width="10.07" height="8.22" fill="#ffe4b5"/><rect x="78.13" y="63.36" width="10.07" height="8.22" fill="#f4a460"/><rect x="87.90" y="63.36" width="10.07" height="8.22" fill="#f4a460"/><rect x="97.67" y="63.36" width="10.07" height="8.22" fill="#f4a460"/><rect x="107.43" y="63.36" width="10.07" height="8.22" fill="#fac48a"/><rect x="117.20" y="63.36" width="10.07" height="8.22" fill="#fac48a"/><rect x="126.97" y="63.36" width="10.07" height="8.22" fill="#f4a460"/><rect x="136.73" y="63.36" width="10.07" height="8.22" fill="#f4a460"/><rect x="146.50" y="63.36" width="10.07" height="8.22" fill="#f4a460"/><rect x="156.27" y="63.36" width="10.07" height="8.22" fill="#fac48a"/><rect x="166.03" y="63.36" width="10.07" height="8.22" fill="#f4a460"/><rect x="175.80" y="63.36" width="10.07" height="8.22" fill="#ffe4b5"/><rect x="185.57" y="63.36" width="10.07" height="8.22" fill="#ffe4b5"/><rect x="195.33" y="63.36" width="10.07" height="8.22" fill="#ffe4b5"/><rect x="205.10" y="63.36" width="10.07" height="8.22" fill="#f2e5d8"/><rect x="214.87" y="63.36" width="10.07" height="8.22" fill="#f2e5d8"/><rect x="224.63" y="63.36" width="10.07" height="8.22" fill="#e6e6fa"/><rect x="234.40" y="63.36" width="10.07" height="8.22" fill="#fac48a"/><rect x="244.17" y="63.36" width="10.07" height="8.22" fill="#e6e6fa"/><rect x="253.93" y="63.36" width="10.07" height="8.22" fill="#e6e6fa"/><rect x="263.70" y="63.36" width="10.07" height="8.22" fill="#e6e6fa"/><rect x="273.47" y="63.36" width="10.07" height="8.22" fill="#e6e6fa"/><rect x="283.23" y="63.36" width="10.07" height="8.22" fill="#e6e6fa"/><rect x="293.00" y="63.36" width="10.07" height="8.22" fill="#e6e6fa"/><rect x="302.77" y="63.36" width="10.07" height="8.22" fill="#e6e6fa"/><rect x="312.53" y="63.36" width="10.07" height="8.22" fill="#e6e6fa"/><rect x="322.30" y="63.36" width="10.07" height="8.22" fill="#e6e6fa"/><rect x="332.07" y="63.36" width="10.07" height="8.22" fill="#f2e5d8"/><rect x="341.83" y="63.36" width="10.07" height="8.22" fill="#f2e5d8"/><rect x="351.60" y="63.36" width="10.07" height="8.22" fill="#f2e5d8"/><rect x="-9.77" y="71.28" width="10.07" height="8.22" fill="#f29230"/><rect x="0.00" y="71.28" width="10.07" height="8.22" fill="#f29230"/><rect x="9.77" y="71.28" width="10.07" height="8.22" fill="#f29230"/><rect x="19.53" y="71.28" width="10.07" height="8.22" fill="#f29230"/><rect x="29.30" y="71.28" width="10.07" height="8.22" fill="#f29230"/><rect x="39.07" y="71.28" width="10.07" height="8.22" fill="#f29230"/><rect x="48.83" y="71.28" width="10.07" height="8.22" fill="#f4a460"/><rect x="58.60" y="71.28" width="10.07" height="8.22" fill="#f29230"/><rect x="68.37" y="71.28" width="10.07" height="8.22" fill="#f29230"/><rect x="78.13" y="71.28" width="10.07" height="8.22" fill="#f29230"/><rect x="87.90" y="71.28" width="10.07" height="8.22" fill="#f29230"/><rect x="97.67" y="71.28" width="10.07" height="8.22" fill="#f29230"/><rect x="107.43" y="71.28" width="10.07" height="8.22" fill="#f29230"/><rect x="117.20" y="71.28" width="10.07" height="8.22" fill="#f29230"/><rect x="126.97" y="71.28" width="10.07" height="8.22" fill="#f29230"/><rect x="136.73" y="71.28" width="10.07" height="8.22" fill="#f29230"/><rect x="146.50" y="71.28" width="10.07" height="8.22" fill="#f29230"/><rect x="156.27" y="71.28" width="10.07" height="8.22" fill="#f4a460"/><rect x="166.03" y="71.28" width="10.07" height="8.22" fill="#f29230"/><rect x="175.80" y="71.28" width="10.07" height="8.22" fill="#f29230"/><rect x="185.57" y="71.28" width="10.07" height="8.22" fill="#f29230"/><rect x="195.33" y="71.28" width="10.07" height="8.22" fill="#fac48a"/><rect x="205.10" y="71.28" width="10.07" height="8.22" fill="#f29230"/><rect x="214.87" y="71.28" width="10.07" height="8.22" fill="#f29230"/><rect x="224.63" y="71.28" width="10.07" height="8.22" fill="#f4a460"/><rect x="234.40" y="71.28" width="10.07" height="8.22" fill="#f29230"/><rect x="244.17" y="71.28" width="10.07" height="8.22" fill="#f29230"/><rect x="253.93" y="71.28" width="10.07" height="8.22" fill="#f29230"/><rect x="263.70" y="71.28" width="10.07" height="8.22" fill="#f4a460"/><rect x="273.47" y="71.28" width="10.07" height="8.22" fill="#f4a460"/><rect x="283.23" y="71.28" width="10.07" height="8.22" fill="#fac48a"/><rect x="293.00" y="71.28" width="10.07" height="8.22" fill="#fac48a"/><rect x="302.77" y="71.28" width="10.07" height="8.22" fill="#fac48a"/><rect x="312.53" y="71.28" width="10.07" height="8.22" fill="#fac48a"/><rect x="322.30" y="71.28" width="10.07" height="8.22" fill="#fac48a"/><rect x="332.07" y="71.28" width="10.07" height="8.22" fill="#fac48a"/><rect x="341.83" y="71.28" width="10.07" height="8.22" fill="#fac48a"/><rect x="351.60" y="71.28" width="10.07" height="8.22" fill="#fac48a"/><rect x="-9.77" y="79.20" width="10.07" height="8.22" fill="#f29230"/><rect x="0.00" y="79.20" width="10.07" height="8.22" fill="#f29230"/><rect x="9.77" y="79.20" width="10.07" height="8.22" fill="#f29230"/><rect x="19.53" y="79.20" width="10.07" height="8.22" fill="#f29230"/><rect x="29.30" y="79.20" width="10.07" height="8.22" fill="#f29230"/><rect x="39.07" y="79.20" width="10.07" height="8.22" fill="#f29230"/><rect x="48.83" y="79.20" width="10.07" height="8.22" fill="#f4a460"/><rect x="58.60" y="79.20" width="10.07" height="8.22" fill="#f29230"/><rect x="68.37" y="79.20" width="10.07" height="8.22" fill="#f29230"/><rect x="78.13" y="79.20" width="10.07" height="8.22" fill="#f29230"/><rect x="87.90" y="79.20" width="10.07" height="8.22" fill="#f29230"/><rect x="97.67" y="79.20" width="10.07" height="8.22" fill="#f29230"/><rect x="107.43" y="79.20" width="10.07" height="8.22" fill="#f29230"/><rect x="117.20" y="79.20" width="10.07" height="8.22" fill="#f29230"/><rect x="126.97" y="79.20" width="10.07" height="8.22" fill="#f29230"/><rect x="136.73" y="79.20" width="10.07" height="8.22" fill="#f29230"/><rect x="146.50" y="79.20" width="10.07" height="8.22" fill="#f29230"/><rect x="156.27" y="79.20" width="10.07" height="8.22" fill="#f4a460"/><rect x="166.03" y="79.20" width="10.07" height="8.22" fill="#f29230"/><rect x="175.80" y="79.20" width="10.07" height="8.22" fill="#f29230"/><rect x="185.57" y="79.20" width="10.07" height="8.22" fill="#f29230"/><rect x="195.33" y="79.20" width="10.07" height="8.22" fill="#fac48a"/><rect x="205.10" y="79.20" width="10.07" height="8.22" fill="#f29230"/><rect x="214.87" y="79.20" width="10.07" height="8.22" fill="#f29230"/><rect x="224.63" y="79.20" width="10.07" height="8.22" fill="#f4a460"/><rect x="234.40" y="79.20" width="10.07" height="8.22" fill="#f29230"/><rect x="244.17" y="79.20" width="10.07" height="8.22" fill="#f29230"/><rect x="253.93" y="79.20" width="10.07" height="8.22" fill="#f29230"/><rect x="263.70" y="79.20" width="10.07" height="8.22" fill="#f4a460"/><rect x="273.47" y="79.20" width="10.07" height="8.22" fill="#f4a460"/><rect x="283.23" y="79.20" width="10.07" height="8.22" fill="#fac48a"/><rect x="293.00" y="79.20" width="10.07" height="8.22" fill="#fac48a"/><rect x="302.77" y="79.20" width="10.07" height="8.22" fill="#fac48a"/><rect x="312.53" y="79.20" width="10.07" height="8.22" fill="#fac48a"/><rect x="322.30" y="79.20" width="10.07" height="8.22" fill="#fac48a"/><rect x="332.07" y="79.20" width="10.07" height="8.22" fill="#fac48a"/><rect x="341.83" y="79.20" width="10.07" height="8.22" fill="#fac48a"/><rect x="351.60" y="79.20" width="10.07" height="8.22" fill="#fac48a"/></g><g filter="url(#blur2)"><path d="M290.80,49.80 C291.63,47.47 292.63,44.22 295.80,42.80 C298.97,41.38 304.80,41.50 309.80,41.30 C314.80,41.10 321.30,41.18 325.80,41.60 C330.30,42.02 334.30,41.93 336.80,43.80 C339.30,45.67 340.63,49.80 340.80,52.80 C340.97,55.80 340.30,59.72 337.80,61.80 C335.30,63.88 330.47,64.72 325.80,65.30 C321.13,65.88 314.80,65.72 309.80,65.30 C304.80,64.88 298.97,64.22 295.80,62.80 C292.63,61.38 291.63,58.97 290.80,56.80 C289.97,54.63 289.97,52.13 290.80,49.80Z" fill="#d4f0f0" fill-opacity="1"/><path d="M296.90,51.40 C297.48,50.35 298.65,48.65 300.40,47.90 C302.15,47.15 304.37,46.90 307.40,46.90 C310.43,46.90 315.45,47.62 318.60,47.90 C321.75,48.18 325.48,47.43 326.30,48.60 C327.12,49.77 324.78,53.38 323.50,54.90 C322.22,56.42 320.82,57.00 318.60,57.70 C316.38,58.40 313.00,59.33 310.20,59.10 C307.40,58.87 304.02,57.12 301.80,56.30 C299.58,55.48 297.72,55.02 296.90,54.20 C296.08,53.38 296.32,52.45 296.90,51.40Z" fill="#add8e6" fill-opacity="1"/></g>
<path d="M0.04,-1.64L11.04,-1.64L11.04,-0.08L12.02,3.04L13.28,5.38L13.67,6.93L14.94,11.61L15.91,15.50L17.86,18.62L19.52,20.49L19.42,21.58L20.78,23.45L23.22,22.36L25.17,22.05L27.31,21.27L27.11,23.45L26.63,25.63L25.65,28.75L24.19,31.86L22.24,36.54L20.30,38.87L18.35,41.21L17.37,42.77L16.59,44.33L15.91,47.13L15.43,49.78L15.91,52.12L16.40,56.01L16.89,59.13L16.98,63.02L15.43,66.14L13.28,68.47L11.53,70.81L11.82,73.93L12.02,77.04L9.58,80.94L0.04,80.94Z M12.99,-1.64L12.99,-0.08L13.96,2.26L15.43,5.38L16.89,9.27L17.86,12.39L18.83,15.50L19.61,19.86L21.27,19.55L24.19,17.84L26.14,16.28L28.09,14.72L31.01,12.39L32.47,10.83L33.74,9.27L34.71,6.93L35.69,4.60L34.71,3.04L32.96,2.26L32.37,0.86L32.28,-1.64Z M32.76,-1.64L33.25,-0.39L34.91,0.08L37.44,0.39L39.78,0.23L42.21,0.08L42.89,1.01L43.67,2.73L44.35,3.04L45.13,4.13L44.65,4.91L46.11,7.24L48.15,6.15L48.35,10.05L48.54,13.17L49.03,15.50L49.81,17.84L50.30,19.71L51.07,21.73L51.76,24.85L52.92,27.03L53.61,25.78L54.68,23.60L55.17,21.73L55.65,18.62L55.55,15.50L56.82,14.26L57.60,13.17L59.26,11.14L60.72,9.27L62.18,7.24L62.18,6.00L63.64,5.84L65.10,5.38L66.56,4.60L67.05,6.62L67.34,7.40L68.51,9.27L69.29,11.61L69.29,14.72L69.97,14.88L71.43,13.94L72.50,13.94L72.70,17.06L73.38,20.18L73.38,24.07L73.18,27.19L74.35,29.52L75.13,31.86L75.62,34.20L76.30,35.76L78.15,37.63L78.93,37.47L78.25,34.20L77.96,31.86L76.79,29.99L75.33,27.97L75.03,25.63L74.06,23.29L74.35,20.96L74.84,18.62L75.72,19.86L76.30,20.02L77.27,20.96L77.76,22.51L79.22,23.45L79.71,26.25L81.17,24.85L81.66,23.29L83.41,22.05L83.90,19.40L83.61,16.28L82.63,14.41L81.17,11.92L80.49,10.05L81.17,8.02L82.14,6.15L83.12,5.84L84.29,6.15L84.97,8.02L85.55,6.15L87.02,5.69L88.48,4.91L90.42,3.97L91.88,2.73L92.86,1.32L93.83,-0.08L94.32,-1.64Z M55.17,24.38L56.33,26.41L57.11,28.75L56.63,29.99L55.55,30.30L55.17,27.97Z M83.22,9.74L84.58,8.34L85.55,9.11L85.07,10.83L84.09,11.30L83.22,10.83Z M94.42,3.82L95.00,5.38L95.29,4.60L95.78,3.04L96.17,0.70L95.78,0.23L95.10,1.01L94.42,3.04Z M70.26,30.93L72.41,31.55L73.57,33.73L74.84,35.76L75.81,36.85L77.27,38.09L78.54,40.43L79.22,42.77L80.68,44.64L80.49,48.69L79.22,48.84L77.08,45.88L75.81,43.55L74.84,41.21L73.87,38.87L73.38,36.85L72.41,35.76L71.43,34.20Z M79.90,50.25L80.68,49.00L81.66,48.84L82.92,49.47L85.07,49.78L86.04,49.93L87.21,50.40L88.96,51.65L88.87,52.89L86.53,52.58L84.58,52.27L82.63,51.80L81.17,51.18Z M89.45,52.43L90.42,52.27L91.40,52.43L93.35,52.58L95.29,52.58L97.24,52.43L98.70,52.27L101.43,52.58L99.68,54.45L98.22,55.70L97.24,55.85L95.29,53.67L93.35,53.67L91.40,53.67L89.45,53.36Z M83.61,37.31L84.19,36.54L85.55,37.31L87.50,34.67L88.48,32.64L89.94,31.39L90.91,29.52L91.69,28.90L93.54,31.39L92.57,32.64L92.08,33.42L92.37,35.76L93.25,38.09L92.27,38.25L91.88,40.43L90.91,41.99L90.72,44.33L90.33,45.57L89.06,46.04L87.99,44.64L86.24,44.33L84.77,44.33L84.68,41.99L83.70,40.43Z M93.83,48.38L94.71,48.22L94.71,44.33L95.39,44.01L96.46,46.97L97.05,47.13L95.78,42.46L97.44,41.21L96.85,40.74L95.29,41.05L94.81,40.43L95.00,38.87L96.75,38.87L98.70,38.87L99.38,37.31L98.80,37.16L96.75,38.09L95.10,37.63L94.22,38.87L94.03,41.21L93.15,43.86L93.83,45.10Z M94.32,10.83L96.56,10.83L96.46,13.94L95.88,15.50L95.88,17.68L98.22,19.40L97.73,19.86L96.27,18.15L94.90,17.53L94.32,16.28L94.13,14.26L94.71,13.94Z M96.27,28.75L97.73,27.65L98.70,26.41L99.68,24.85L100.65,26.41L100.65,29.52L99.68,30.61L98.41,29.84L97.73,28.28L96.46,29.06Z M96.27,21.27L97.24,21.73L98.70,20.18L99.87,22.20L99.19,24.07L98.22,24.85L97.24,25.32L96.56,24.07L96.17,22.51Z M91.59,26.72L93.83,23.29L94.03,22.05L93.35,22.82L91.79,26.10Z M101.62,36.54L102.60,37.31L102.89,38.87L102.11,40.90L101.43,38.87Z M102.11,44.33L104.55,44.64L104.84,45.57L102.11,45.26Z M105.03,41.52L106.49,40.27L107.96,41.05L108.93,44.79L111.36,41.99L113.80,43.39L115.75,44.48L118.18,45.73L119.64,48.22L121.11,49.15L121.40,50.25L122.57,52.89L124.03,56.01L121.59,55.54L120.13,52.89L118.18,51.49L117.21,52.58L116.23,53.98L114.77,53.83L113.31,52.27L111.85,52.74L111.66,51.18L112.63,50.25L111.85,48.06L109.90,46.82L108.44,45.88L106.98,45.88L106.01,44.17L107.47,43.39L106.01,43.08Z M121.88,48.22L123.54,47.60L125.00,46.66L125.78,46.19L125.29,47.44L124.03,49.00L122.57,49.31Z M124.32,43.86L125.68,44.79L126.66,46.82L126.27,47.13L125.00,45.10Z M129.38,49.78L130.85,51.34L132.31,52.12L133.77,53.67L135.23,56.01L134.74,56.48L132.79,54.92L130.85,52.89L128.90,50.56Z M139.61,62.24L140.59,63.80L141.56,66.92L142.53,70.03L142.05,70.50L140.88,66.14L139.81,64.27Z M137.18,71.12L138.64,72.37L140.10,74.24L139.90,74.71L138.15,73.46L137.18,72.06Z M150.03,66.60L151.30,66.45L152.27,65.36L152.57,66.14L151.40,68.01L150.13,67.70Z M176.14,8.18L177.30,9.27L176.62,10.20L176.14,9.27Z M87.99,80.94L87.99,79.38L88.28,76.26L88.48,73.93L89.06,73.62L91.11,71.75L93.15,71.28L95.29,70.03L96.56,67.70L96.46,66.14L97.73,65.36L98.70,63.80L99.68,62.24L100.94,61.31L102.11,63.02L103.57,62.87L104.25,60.53L104.64,58.97L106.01,57.57L106.59,57.41L107.47,58.04L108.93,58.66L110.49,58.35L109.90,60.37L109.42,62.55L110.68,64.42L112.34,65.83L113.80,67.07L114.68,66.60L115.36,63.02L115.26,59.91L115.75,56.79L116.23,56.32L117.01,59.13L117.31,61.46L118.96,63.02L119.16,65.36L119.84,69.10L122.37,71.28L123.05,74.39L124.32,75.02L125.00,77.35L126.46,79.07L126.66,80.94Z M25.46,58.35L26.43,63.80L25.65,66.92L24.68,71.59L23.70,77.04L23.22,78.91L21.27,79.38L20.30,77.82L19.61,73.93L20.49,70.03L20.30,66.14L20.78,64.89L22.54,64.11L23.70,62.24L24.68,60.53Z M218.41,-1.64L218.89,-0.08L219.48,1.32L220.65,3.04L221.04,3.97L221.43,3.35L220.65,1.95L220.26,1.01L219.67,-0.08L219.38,-1.64Z M221.62,-1.64L222.40,0.39L224.35,3.35L225.32,6.15L225.52,8.02L226.30,9.74L227.76,11.30L229.22,12.39L231.17,13.79L233.60,15.03L235.55,14.57L237.01,15.50L238.47,17.06L239.93,17.99L242.37,19.09L242.86,19.55L243.63,20.96L244.61,22.51L244.51,23.76L245.29,24.54L246.46,26.41L247.72,27.03L249.19,27.81L250.16,28.28L250.65,25.94L251.62,26.72L252.59,27.97L252.69,29.52L252.79,33.42L251.33,36.85L250.16,38.40L249.67,41.21L249.19,43.08L249.87,44.95L248.99,46.66L248.99,48.69L250.35,50.56L251.62,53.67L252.89,57.57L253.86,60.68L255.03,63.80L257.66,65.83L259.61,68.47L259.71,71.59L259.80,75.49L259.41,80.94L280.84,80.94L281.33,79.38L282.79,77.04L284.74,75.95L287.17,75.49L288.15,73.15L289.12,70.34L289.80,66.92L290.09,63.02L290.58,59.91L291.85,57.57L293.02,55.23L293.99,53.36L293.99,50.56L293.80,48.22L292.04,47.44L290.58,45.26L289.12,44.01L287.17,44.01L284.74,43.55L283.28,41.21L280.84,41.21L279.38,39.65L279.38,36.85L278.41,33.42L277.43,32.64L275.97,30.93L274.51,30.46L272.07,30.30L270.61,27.19L269.15,26.41L268.18,24.38L267.20,23.14L265.74,23.14L263.80,23.14L261.36,23.14L259.90,20.64L258.44,22.51L258.73,20.96L257.95,20.96L256.98,22.05L255.52,22.51L254.54,23.29L254.06,25.01L253.08,26.41L252.11,25.32L250.65,24.85L249.19,25.78L247.72,24.85L246.56,22.51L246.75,20.18L247.04,16.28L246.26,15.03L244.32,14.72L242.08,14.41L242.37,10.83L242.86,9.27L243.34,6.15L241.39,6.31L240.03,7.24L239.45,10.05L238.47,10.67L236.04,11.30L234.38,9.74L233.12,6.93L233.21,4.60L233.41,-0.08L233.31,-1.64Z M250.06,-1.64L250.06,-0.55L249.77,0.39L249.09,0.55L248.70,-0.70L248.41,-1.64Z M245.39,5.53L247.24,3.97L249.19,3.66L250.65,4.60L252.59,5.69L254.35,6.78L255.81,8.18L255.03,8.65L252.40,8.65L252.89,7.56L251.62,6.15L249.67,5.38L248.21,5.06L246.75,5.69Z M255.52,10.98L257.17,8.65L258.93,8.65L260.87,9.74L261.56,10.67L259.90,11.30L258.44,12.23L257.17,11.30Z M251.82,10.98L253.86,11.45L253.28,12.07L252.11,11.45Z M262.63,10.83L264.19,10.98L264.19,11.61L262.63,11.61Z M314.64,-1.64L313.76,-0.08L312.50,2.57L311.52,6.93L312.01,9.27L312.30,11.61L311.52,15.50L311.03,16.75L311.72,18.62L311.81,20.49L312.98,21.73L313.96,23.29L315.13,24.85L315.90,27.97L317.37,29.06L318.83,31.08L320.77,32.80L323.21,31.71L326.13,32.17L328.08,30.93L329.54,29.99L331.49,29.68L332.95,30.61L333.92,32.95L335.38,32.64L336.36,32.64L337.43,33.57L337.63,35.76L337.33,38.09L337.14,40.43L337.82,43.55L339.28,45.88L339.96,48.84L340.74,52.12L341.23,56.01L341.52,58.35L340.25,60.68L339.77,63.80L339.57,66.92L341.23,71.59L342.20,74.71L342.50,80.94L357.30,80.94L357.30,-1.64Z" fill="#7f7f7f" stroke="#7f7f7f" stroke-width="1.2" stroke-linejoin="round"/>
<path d="M36.40,-0.20 C37.08,1.15 39.65,5.18 40.50,7.90 C41.35,10.62 41.83,13.72 41.50,16.10 C41.17,18.48 39.68,20.17 38.50,22.20 C37.32,24.23 35.42,26.27 34.40,28.30 C33.38,30.33 32.57,32.37 32.40,34.40 C32.23,36.43 32.38,38.63 33.40,40.50 C34.42,42.37 36.30,44.25 38.50,45.60 C40.70,46.95 43.55,47.75 46.60,48.60 C49.65,49.45 53.40,50.02 56.80,50.70 C60.20,51.38 63.62,52.30 67.00,52.70 C70.38,53.10 74.73,53.27 77.10,53.10 C79.47,52.93 79.83,52.10 81.20,51.70 C82.57,51.30 82.93,50.87 85.30,50.70 C87.67,50.53 92.02,51.38 95.40,50.70 C98.78,50.02 103.90,47.28 105.60,46.60" fill="none" stroke="#262626" stroke-width="1.0" stroke-linejoin="round"/><path d="M38.50,31.30 C39.35,29.77 40.47,29.12 42.50,29.30 C44.53,29.48 47.98,31.38 50.70,32.40 C53.42,33.42 56.08,35.40 58.80,35.40 C61.52,35.40 64.97,32.40 67.00,32.40 C69.03,32.40 70.17,34.05 71.00,35.40 C71.83,36.75 72.33,38.80 72.00,40.50 C71.67,42.20 70.85,44.92 69.00,45.60 C67.15,46.28 63.95,44.93 60.90,44.60 C57.85,44.27 53.77,43.95 50.70,43.60 C47.63,43.25 44.72,43.35 42.50,42.50 C40.28,41.65 38.07,40.37 37.40,38.50 C36.73,36.63 37.65,32.83 38.50,31.30Z" fill="none" stroke="#262626" stroke-width="1.0" stroke-linejoin="round"/><path d="M53.70,26.30 C54.55,25.62 56.93,23.57 58.80,22.20 C60.67,20.83 62.87,19.47 64.90,18.10 C66.93,16.73 69.63,15.02 71.00,14.00 C72.37,12.98 72.75,12.33 73.10,12.00" fill="none" stroke="#262626" stroke-width="1.0" stroke-linejoin="round"/><path d="M89.30,12.00 C89.98,11.32 90.68,9.25 93.40,7.90 C96.12,6.55 101.53,4.92 105.60,3.90 C109.67,2.88 114.43,2.07 117.80,1.80 C121.17,1.53 123.80,1.95 125.80,2.30 C127.80,2.65 128.45,2.97 129.80,3.90 C131.15,4.83 133.05,5.87 133.90,7.90 C134.75,9.93 133.88,13.72 134.90,16.10 C135.92,18.48 137.80,20.33 140.00,22.20 C142.20,24.07 145.90,25.78 148.10,27.30 C150.30,28.82 152.18,29.62 153.20,31.30 C154.22,32.98 153.68,35.35 154.20,37.40 C154.72,39.45 155.28,41.73 156.30,43.60 C157.32,45.47 159.12,46.92 160.30,48.60 C161.48,50.28 164.42,52.68 163.40,53.70 C162.38,54.72 157.77,54.80 154.20,54.70 C150.63,54.60 146.07,53.60 142.00,53.10 C137.93,52.60 133.15,52.45 129.80,51.70 C126.45,50.95 124.57,49.95 121.90,48.60 C119.23,47.25 116.52,44.95 113.80,43.60 C111.08,42.25 106.97,41.02 105.60,40.50" fill="none" stroke="#262626" stroke-width="1.0" stroke-linejoin="round"/><path d="M151.80,-0.20 C152.20,1.50 153.63,6.95 154.20,10.00 C154.77,13.05 153.83,15.90 155.20,18.10 C156.57,20.30 158.83,22.02 162.40,23.20 C165.97,24.38 171.87,25.20 176.60,25.20 C181.33,25.20 185.72,23.87 190.80,23.20 C195.88,22.53 202.68,22.05 207.10,21.20 C211.52,20.35 214.58,19.63 217.30,18.10 C220.02,16.57 222.05,14.37 223.40,12.00 C224.75,9.63 225.40,5.93 225.40,3.90 C225.40,1.87 223.73,0.48 223.40,-0.20" fill="none" stroke="#262626" stroke-width="1.0" stroke-linejoin="round"/><path d="M251.90,30.30 C248.50,29.97 238.28,28.80 231.50,28.30 C224.72,27.80 217.98,26.97 211.20,27.30 C204.42,27.63 196.57,29.12 190.80,30.30 C185.03,31.48 179.65,32.87 176.60,34.40 C173.55,35.93 172.50,37.80 172.50,39.50 C172.50,41.20 174.73,43.08 176.60,44.60 C178.47,46.12 182.00,47.08 183.70,48.60 C185.40,50.12 186.63,52.00 186.80,53.70 C186.97,55.40 186.40,57.62 184.70,58.80 C183.00,59.98 179.98,60.28 176.60,60.80 C173.22,61.32 168.82,62.07 164.40,61.90 C159.98,61.73 154.17,60.32 150.10,59.80 C146.03,59.28 143.38,59.30 140.00,58.80 C136.62,58.30 133.17,57.55 129.80,56.80 C126.43,56.05 121.47,54.72 119.80,54.30" fill="none" stroke="#262626" stroke-width="1.0" stroke-linejoin="round"/><path d="M225.40,12.00 C226.42,13.37 228.78,18.50 231.50,20.20 C234.22,21.90 238.30,22.20 241.70,22.20 C245.10,22.20 250.20,20.53 251.90,20.20" fill="none" stroke="#262626" stroke-width="1.0" stroke-linejoin="round"/><path d="M270.70,-0.20 C271.22,1.83 272.43,8.60 273.80,12.00 C275.17,15.40 276.70,18.17 278.90,20.20 C281.10,22.23 283.95,23.02 287.00,24.20 C290.05,25.38 294.82,26.28 297.20,27.30 C299.58,28.32 302.32,29.12 301.30,30.30 C300.28,31.48 293.82,33.37 291.10,34.40 C288.38,35.43 286.37,35.82 285.00,36.50 C283.63,37.18 283.25,38.17 282.90,38.50" fill="none" stroke="#262626" stroke-width="1.0" stroke-linejoin="round"/><text x="43.8" y="49.9" font-size="5.2" text-anchor="middle" fill="#333">28°C</text><text x="63.8" y="33.4" font-size="5.2" text-anchor="middle" fill="#333">29°C</text><text x="66.8" y="20.4" font-size="5.2" text-anchor="middle" fill="#333">29°C</text><text x="186.8" y="26.9" font-size="5.2" text-anchor="middle" fill="#333">28°C</text><text x="233.8" y="31.9" font-size="5.2" text-anchor="middle" fill="#333">28°C</text><text x="161.8" y="56.4" font-size="5.2" text-anchor="middle" fill="#333">29°C</text><text x="296.8" y="34.8" font-size="5.2" text-anchor="middle" fill="#333">28°C</text><text x="103.8" y="36.4" font-size="5.2" text-anchor="middle" fill="#333">29°C</text><text x="103.8" y="43.4" font-size="5.2" text-anchor="middle" fill="#333">28°C</text><text x="144.8" y="4.4" font-size="5.2" text-anchor="middle" fill="#333">28°C</text>
</g>

<rect x="0" y="0" width="351.60" height="79.2" fill="none" stroke="#333" stroke-width="1"/>
<line x1="-2.5" y1="16.28" x2="0" y2="16.28" stroke="#333" stroke-width="0.8"/>
<line x1="351.60" y1="16.28" x2="354.10" y2="16.28" stroke="#333" stroke-width="0.8"/>
<line x1="-2.5" y1="63.02" x2="0" y2="63.02" stroke="#333" stroke-width="0.8"/>
<line x1="351.60" y1="63.02" x2="354.10" y2="63.02" stroke="#333" stroke-width="0.8"/>
<line x1="16.40" y1="79.2" x2="16.40" y2="81.7" stroke="#333" stroke-width="0.8"/>
<line x1="16.40" y1="0" x2="16.40" y2="-2.5" stroke="#333" stroke-width="0.8"/>
<line x1="94.32" y1="79.2" x2="94.32" y2="81.7" stroke="#333" stroke-width="0.8"/>
<line x1="94.32" y1="0" x2="94.32" y2="-2.5" stroke="#333" stroke-width="0.8"/>
<line x1="211.20" y1="79.2" x2="211.20" y2="81.7" stroke="#333" stroke-width="0.8"/>
<line x1="211.20" y1="0" x2="211.20" y2="-2.5" stroke="#333" stroke-width="0.8"/>
<line x1="328.08" y1="79.2" x2="328.08" y2="81.7" stroke="#333" stroke-width="0.8"/>
<line x1="328.08" y1="0" x2="328.08" y2="-2.5" stroke="#333" stroke-width="0.8"/>
</g>
<text x="8.5" y="132.08" font-size="14" fill="#111" textLength="29.1" lengthAdjust="spacingAndGlyphs">15°N</text>
<text x="11.2" y="178.82" font-size="14" fill="#111" textLength="26.4" lengthAdjust="spacingAndGlyphs">15°S</text>
<g transform="translate(40.2,195.3)">
<clipPath id="c2"><rect x="0" y="0" width="351.60" height="79.2"/></clipPath>
<g clip-path="url(#c2)">
<rect x="0" y="0" width="351.60" height="79.2" fill="#ffe4b5"/>
<g filter="url(#blur)"><rect x="-9.77" y="-7.92" width="10.07" height="8.22" fill="#f08000"/><rect x="0.00" y="-7.92" width="10.07" height="8.22" fill="#f08000"/><rect x="9.77" y="-7.92" width="10.07" height="8.22" fill="#f08000"/><rect x="19.53" y="-7.92" width="10.07" height="8.22" fill="#f08000"/><rect x="29.30" y="-7.92" width="10.07" height="8.22" fill="#f84000"/><rect x="39.07" y="-7.92" width="10.07" height="8.22" fill="#f08000"/><rect x="48.83" y="-7.92" width="10.07" height="8.22" fill="#f08000"/><rect x="58.60" y="-7.92" width="10.07" height="8.22" fill="#f84000"/><rect x="68.37" y="-7.92" width="10.07" height="8.22" fill="#f84000"/><rect x="78.13" y="-7.92" width="10.07" height="8.22" fill="#f08000"/><rect x="87.90" y="-7.92" width="10.07" height="8.22" fill="#f84000"/><rect x="97.67" y="-7.92" width="10.07" height="8.22" fill="#ff0000"/><rect x="107.43" y="-7.92" width="10.07" height="8.22" fill="#f84000"/><rect x="117.20" y="-7.92" width="10.07" height="8.22" fill="#f84000"/><rect x="126.97" y="-7.92" width="10.07" height="8.22" fill="#f08000"/><rect x="136.73" y="-7.92" width="10.07" height="8.22" fill="#f08000"/><rect x="146.50" y="-7.92" width="10.07" height="8.22" fill="#f08000"/><rect x="156.27" y="-7.92" width="10.07" height="8.22" fill="#f08000"/><rect x="166.03" y="-7.92" width="10.07" height="8.22" fill="#f08000"/><rect x="175.80" y="-7.92" width="10.07" height="8.22" fill="#f08000"/><rect x="185.57" y="-7.92" width="10.07" height="8.22" fill="#f08000"/><rect x="195.33" y="-7.92" width="10.07" height="8.22" fill="#f08000"/><rect x="205.10" y="-7.92" width="10.07" height="8.22" fill="#f29230"/><rect x="214.87" y="-7.92" width="10.07" height="8.22" fill="#f08000"/><rect x="224.63" y="-7.92" width="10.07" height="8.22" fill="#f29230"/><rect x="234.40" y="-7.92" width="10.07" height="8.22" fill="#f84000"/><rect x="244.17" y="-7.92" width="10.07" height="8.22" fill="#ff0000"/><rect x="253.93" y="-7.92" width="10.07" height="8.22" fill="#ff0000"/><rect x="263.70" y="-7.92" width="10.07" height="8.22" fill="#ff0000"/><rect x="273.47" y="-7.92" width="10.07" height="8.22" fill="#ff0000"/><rect x="283.23" y="-7.92" width="10.07" height="8.22" fill="#f08000"/><rect x="293.00" y="-7.92" width="10.07" height="8.22" fill="#f08000"/><rect x="302.77" y="-7.92" width="10.07" height="8.22" fill="#f08000"/><rect x="312.53" y="-7.92" width="10.07" height="8.22" fill="#f08000"/><rect x="322.30" y="-7.92" width="10.07" height="8.22" fill="#f08000"/><rect x="332.07" y="-7.92" width="10.07" height="8.22" fill="#f08000"/><rect x="341.83" y="-7.92" width="10.07" height="8.22" fill="#f08000"/><rect x="351.60" y="-7.92" width="10.07" height="8.22" fill="#f08000"/><rect x="-9.77" y="0.00" width="10.07" height="8.22" fill="#f08000"/><rect x="0.00" y="0.00" width="10.07" height="8.22" fill="#f08000"/><rect x="9.77" y="0.00" width="10.07" height="8.22" fill="#f08000"/><rect x="19.53" y="0.00" width="10.07" height="8.22" fill="#f08000"/><rect x="29.30" y="0.00" width="10.07" height="8.22" fill="#f84000"/><rect x="39.07" y="0.00" width="10.07" height="8.22" fill="#f08000"/><rect x="48.83" y="0.00" width="10.07" height="8.22" fill="#f08000"/><rect x="58.60" y="0.00" width="10.07" height="8.22" fill="#f84000"/><rect x="68.37" y="0.00" width="10.07" height="8.22" fill="#f84000"/><rect x="78.13" y="0.00" width="10.07" height="8.22" fill="#f08000"/><rect x="87.90" y="0.00" width="10.07" height="8.22" fill="#f84000"/><rect x="97.67" y="0.00" width="10.07" height="8.22" fill="#ff0000"/><rect x="107.43" y="0.00" width="10.07" height="8.22" fill="#f84000"/><rect x="117.20" y="0.00" width="10.07" height="8.22" fill="#f84000"/><rect x="126.97" y="0.00" width="10.07" height="8.22" fill="#f08000"/><rect x="136.73" y="0.00" width="10.07" height="8.22" fill="#f08000"/><rect x="146.50" y="0.00" width="10.07" height="8.22" fill="#f08000"/><rect x="156.27" y="0.00" width="10.07" height="8.22" fill="#f08000"/><rect x="166.03" y="0.00" width="10.07" height="8.22" fill="#f08000"/><rect x="175.80" y="0.00" width="10.07" height="8.22" fill="#f08000"/><rect x="185.57" y="0.00" width="10.07" height="8.22" fill="#f08000"/><rect x="195.33" y="0.00" width="10.07" height="8.22" fill="#f08000"/><rect x="205.10" y="0.00" width="10.07" height="8.22" fill="#f29230"/><rect x="214.87" y="0.00" width="10.07" height="8.22" fill="#f08000"/><rect x="224.63" y="0.00" width="10.07" height="8.22" fill="#f29230"/><rect x="234.40" y="0.00" width="10.07" height="8.22" fill="#f84000"/><rect x="244.17" y="0.00" width="10.07" height="8.22" fill="#ff0000"/><rect x="253.93" y="0.00" width="10.07" height="8.22" fill="#ff0000"/><rect x="263.70" y="0.00" width="10.07" height="8.22" fill="#ff0000"/><rect x="273.47" y="0.00" width="10.07" height="8.22" fill="#ff0000"/><rect x="283.23" y="0.00" width="10.07" height="8.22" fill="#f08000"/><rect x="293.00" y="0.00" width="10.07" height="8.22" fill="#f08000"/><rect x="302.77" y="0.00" width="10.07" height="8.22" fill="#f08000"/><rect x="312.53" y="0.00" width="10.07" height="8.22" fill="#f08000"/><rect x="322.30" y="0.00" width="10.07" height="8.22" fill="#f08000"/><rect x="332.07" y="0.00" width="10.07" height="8.22" fill="#f08000"/><rect x="341.83" y="0.00" width="10.07" height="8.22" fill="#f08000"/><rect x="351.60" y="0.00" width="10.07" height="8.22" fill="#f08000"/><rect x="-9.77" y="7.92" width="10.07" height="8.22" fill="#f08000"/><rect x="0.00" y="7.92" width="10.07" height="8.22" fill="#f08000"/><rect x="9.77" y="7.92" width="10.07" height="8.22" fill="#f08000"/><rect x="19.53" y="7.92" width="10.07" height="8.22" fill="#f08000"/><rect x="29.30" y="7.92" width="10.07" height="8.22" fill="#f08000"/><rect x="39.07" y="7.92" width="10.07" height="8.22" fill="#f08000"/><rect x="48.83" y="7.92" width="10.07" height="8.22" fill="#f08000"/><rect x="58.60" y="7.92" width="10.07" height="8.22" fill="#f08000"/><rect x="68.37" y="7.92" width="10.07" height="8.22" fill="#f08000"/><rect x="78.13" y="7.92" width="10.07" height="8.22" fill="#dc7114"/><rect x="87.90" y="7.92" width="10.07" height="8.22" fill="#dc7114"/><rect x="97.67" y="7.92" width="10.07" height="8.22" fill="#dc7114"/><rect x="107.43" y="7.92" width="10.07" height="8.22" fill="#dc7114"/><rect x="117.20" y="7.92" width="10.07" height="8.22" fill="#dc7114"/><rect x="126.97" y="7.92" width="10.07" height="8.22" fill="#dc7114"/><rect x="136.73" y="7.92" width="10.07" height="8.22" fill="#f08000"/><rect x="146.50" y="7.92" width="10.07" height="8.22" fill="#f08000"/><rect x="156.27" y="7.92" width="10.07" height="8.22" fill="#f4a460"/><rect x="166.03" y="7.92" width="10.07" height="8.22" fill="#f08000"/><rect x="175.80" y="7.92" width="10.07" height="8.22" fill="#fac48a"/><rect x="185.57" y="7.92" width="10.07" height="8.22" fill="#f4a460"/><rect x="195.33" y="7.92" width="10.07" height="8.22" fill="#fac48a"/><rect x="205.10" y="7.92" width="10.07" height="8.22" fill="#f08000"/><rect x="214.87" y="7.92" width="10.07" height="8.22" fill="#f08000"/><rect x="224.63" y="7.92" width="10.07" height="8.22" fill="#f08000"/><rect x="234.40" y="7.92" width="10.07" height="8.22" fill="#dc7114"/><rect x="244.17" y="7.92" width="10.07" height="8.22" fill="#dc7114"/><rect x="253.93" y="7.92" width="10.07" height="8.22" fill="#f84000"/><rect x="263.70" y="7.92" width="10.07" height="8.22" fill="#dc7114"/><rect x="273.47" y="7.92" width="10.07" height="8.22" fill="#f08000"/><rect x="283.23" y="7.92" width="10.07" height="8.22" fill="#f08000"/><rect x="293.00" y="7.92" width="10.07" height="8.22" fill="#f29230"/><rect x="302.77" y="7.92" width="10.07" height="8.22" fill="#f4a460"/><rect x="312.53" y="7.92" width="10.07" height="8.22" fill="#fac48a"/><rect x="322.30" y="7.92" width="10.07" height="8.22" fill="#fac48a"/><rect x="332.07" y="7.92" width="10.07" height="8.22" fill="#fac48a"/><rect x="341.83" y="7.92" width="10.07" height="8.22" fill="#fac48a"/><rect x="351.60" y="7.92" width="10.07" height="8.22" fill="#fac48a"/><rect x="-9.77" y="15.84" width="10.07" height="8.22" fill="#f08000"/><rect x="0.00" y="15.84" width="10.07" height="8.22" fill="#f08000"/><rect x="9.77" y="15.84" width="10.07" height="8.22" fill="#f08000"/><rect x="19.53" y="15.84" width="10.07" height="8.22" fill="#f4a460"/><rect x="29.30" y="15.84" width="10.07" height="8.22" fill="#f29230"/><rect x="39.07" y="15.84" width="10.07" height="8.22" fill="#f08000"/><rect x="48.83" y="15.84" width="10.07" height="8.22" fill="#f08000"/><rect x="58.60" y="15.84" width="10.07" height="8.22" fill="#f29230"/><rect x="68.37" y="15.84" width="10.07" height="8.22" fill="#f08000"/><rect x="78.13" y="15.84" width="10.07" height="8.22" fill="#f84000"/><rect x="87.90" y="15.84" width="10.07" height="8.22" fill="#dc7114"/><rect x="97.67" y="15.84" width="10.07" height="8.22" fill="#dc7114"/><rect x="107.43" y="15.84" width="10.07" height="8.22" fill="#dc7114"/><rect x="117.20" y="15.84" width="10.07" height="8.22" fill="#dc7114"/><rect x="126.97" y="15.84" width="10.07" height="8.22" fill="#dc7114"/><rect x="136.73" y="15.84" width="10.07" height="8.22" fill="#dc7114"/><rect x="146.50" y="15.84" width="10.07" height="8.22" fill="#f08000"/><rect x="156.27" y="15.84" width="10.07" height="8.22" fill="#f08000"/><rect x="166.03" y="15.84" width="10.07" height="8.22" fill="#f4a460"/><rect x="175.80" y="15.84" width="10.07" height="8.22" fill="#f4a460"/><rect x="185.57" y="15.84" width="10.07" height="8.22" fill="#ffe4b5"/><rect x="195.33" y="15.84" width="10.07" height="8.22" fill="#ffe4b5"/><rect x="205.10" y="15.84" width="10.07" height="8.22" fill="#f4a460"/><rect x="214.87" y="15.84" width="10.07" height="8.22" fill="#f08000"/><rect x="224.63" y="15.84" width="10.07" height="8.22" fill="#f08000"/><rect x="234.40" y="15.84" width="10.07" height="8.22" fill="#dc7114"/><rect x="244.17" y="15.84" width="10.07" height="8.22" fill="#dc7114"/><rect x="253.93" y="15.84" width="10.07" height="8.22" fill="#f08000"/><rect x="263.70" y="15.84" width="10.07" height="8.22" fill="#f08000"/><rect x="273.47" y="15.84" width="10.07" height="8.22" fill="#f08000"/><rect x="283.23" y="15.84" width="10.07" height="8.22" fill="#f4a460"/><rect x="293.00" y="15.84" width="10.07" height="8.22" fill="#ffe4b5"/><rect x="302.77" y="15.84" width="10.07" height="8.22" fill="#ffe4b5"/><rect x="312.53" y="15.84" width="10.07" height="8.22" fill="#ffe4b5"/><rect x="322.30" y="15.84" width="10.07" height="8.22" fill="#ffe4b5"/><rect x="332.07" y="15.84" width="10.07" height="8.22" fill="#ffe4b5"/><rect x="341.83" y="15.84" width="10.07" height="8.22" fill="#ffe4b5"/><rect x="351.60" y="15.84" width="10.07" height="8.22" fill="#ffe4b5"/><rect x="-9.77" y="23.76" width="10.07" height="8.22" fill="#f4a460"/><rect x="0.00" y="23.76" width="10.07" height="8.22" fill="#f4a460"/><rect x="9.77" y="23.76" width="10.07" height="8.22" fill="#f4a460"/><rect x="19.53" y="23.76" width="10.07" height="8.22" fill="#f4a460"/><rect x="29.30" y="23.76" width="10.07" height="8.22" fill="#f29230"/><rect x="39.07" y="23.76" width="10.07" height="8.22" fill="#f08000"/><rect x="48.83" y="23.76" width="10.07" height="8.22" fill="#f08000"/><rect x="58.60" y="23.76" width="10.07" height="8.22" fill="#f08000"/><rect x="68.37" y="23.76" width="10.07" height="8.22" fill="#f2e5d8"/><rect x="78.13" y="23.76" width="10.07" height="8.22" fill="#f84000"/><rect x="87.90" y="23.76" width="10.07" height="8.22" fill="#f84000"/><rect x="97.67" y="23.76" width="10.07" height="8.22" fill="#dc7114"/><rect x="107.43" y="23.76" width="10.07" height="8.22" fill="#dc7114"/><rect x="117.20" y="23.76" width="10.07" height="8.22" fill="#dc7114"/><rect x="126.97" y="23.76" width="10.07" height="8.22" fill="#dc7114"/><rect x="136.73" y="23.76" width="10.07" height="8.22" fill="#dc7114"/><rect x="146.50" y="23.76" width="10.07" height="8.22" fill="#dc7114"/><rect x="156.27" y="23.76" width="10.07" height="8.22" fill="#f4a460"/><rect x="166.03" y="23.76" width="10.07" height="8.22" fill="#f4a460"/><rect x="175.80" y="23.76" width="10.07" height="8.22" fill="#fac48a"/><rect x="185.57" y="23.76" width="10.07" height="8.22" fill="#ffe4b5"/><rect x="195.33" y="23.76" width="10.07" height="8.22" fill="#ffe4b5"/><rect x="205.10" y="23.76" width="10.07" height="8.22" fill="#fac48a"/><rect x="214.87" y="23.76" width="10.07" height="8.22" fill="#f29230"/><rect x="224.63" y="23.76" width="10.07" height="8.22" fill="#f4a460"/><rect x="234.40" y="23.76" width="10.07" height="8.22" fill="#f08000"/><rect x="244.17" y="23.76" width="10.07" height="8.22" fill="#f08000"/><rect x="253.93" y="23.76" width="10.07" height="8.22" fill="#f4a460"/><rect x="263.70" y="23.76" width="10.07" height="8.22" fill="#f4a460"/><rect x="273.47" y="23.76" width="10.07" height="8.22" fill="#f4a460"/><rect x="283.23" y="23.76" width="10.07" height="8.22" fill="#fac48a"/><rect x="293.00" y="23.76" width="10.07" height="8.22" fill="#ffe4b5"/><rect x="302.77" y="23.76" width="10.07" height="8.22" fill="#fac48a"/><rect x="312.53" y="23.76" width="10.07" height="8.22" fill="#f29230"/><rect x="322.30" y="23.76" width="10.07" height="8.22" fill="#fac48a"/><rect x="332.07" y="23.76" width="10.07" height="8.22" fill="#fac48a"/><rect x="341.83" y="23.76" width="10.07" height="8.22" fill="#fac48a"/><rect x="351.60" y="23.76" width="10.07" height="8.22" fill="#fac48a"/><rect x="-9.77" y="31.68" width="10.07" height="8.22" fill="#ffe4b5"/><rect x="0.00" y="31.68" width="10.07" height="8.22" fill="#ffe4b5"/><rect x="9.77" y="31.68" width="10.07" height="8.22" fill="#ffe4b5"/><rect x="19.53" y="31.68" width="10.07" height="8.22" fill="#f4a460"/><rect x="29.30" y="31.68" width="10.07" height="8.22" fill="#f29230"/><rect x="39.07" y="31.68" width="10.07" height="8.22" fill="#f4a460"/><rect x="48.83" y="31.68" width="10.07" height="8.22" fill="#f4a460"/><rect x="58.60" y="31.68" width="10.07" height="8.22" fill="#f4a460"/><rect x="68.37" y="31.68" width="10.07" height="8.22" fill="#f2e5d8"/><rect x="78.13" y="31.68" width="10.07" height="8.22" fill="#f08000"/><rect x="87.90" y="31.68" width="10.07" height="8.22" fill="#f08000"/><rect x="97.67" y="31.68" width="10.07" height="8.22" fill="#f08000"/><rect x="107.43" y="31.68" width="10.07" height="8.22" fill="#f29230"/><rect x="117.20" y="31.68" width="10.07" height="8.22" fill="#dc7114"/><rect x="126.97" y="31.68" width="10.07" height="8.22" fill="#dc7114"/><rect x="136.73" y="31.68" width="10.07" height="8.22" fill="#dc7114"/><rect x="146.50" y="31.68" width="10.07" height="8.22" fill="#f08000"/><rect x="156.27" y="31.68" width="10.07" height="8.22" fill="#f4a460"/><rect x="166.03" y="31.68" width="10.07" height="8.22" fill="#fac48a"/><rect x="175.80" y="31.68" width="10.07" height="8.22" fill="#ffe4b5"/><rect x="185.57" y="31.68" width="10.07" height="8.22" fill="#ffe4b5"/><rect x="195.33" y="31.68" width="10.07" height="8.22" fill="#ffe4b5"/><rect x="205.10" y="31.68" width="10.07" height="8.22" fill="#ffe4b5"/><rect x="214.87" y="31.68" width="10.07" height="8.22" fill="#ffe4b5"/><rect x="224.63" y="31.68" width="10.07" height="8.22" fill="#ffe4b5"/><rect x="234.40" y="31.68" width="10.07" height="8.22" fill="#fac48a"/><rect x="244.17" y="31.68" width="10.07" height="8.22" fill="#fac48a"/><rect x="253.93" y="31.68" width="10.07" height="8.22" fill="#fac48a"/><rect x="263.70" y="31.68" width="10.07" height="8.22" fill="#ffe4b5"/><rect x="273.47" y="31.68" width="10.07" height="8.22" fill="#ffe4b5"/><rect x="283.23" y="31.68" width="10.07" height="8.22" fill="#ffe4b5"/><rect x="293.00" y="31.68" width="10.07" height="8.22" fill="#ffe4b5"/><rect x="302.77" y="31.68" width="10.07" height="8.22" fill="#f29230"/><rect x="312.53" y="31.68" width="10.07" height="8.22" fill="#f4a460"/><rect x="322.30" y="31.68" width="10.07" height="8.22" fill="#fac48a"/><rect x="332.07" y="31.68" width="10.07" height="8.22" fill="#fac48a"/><rect x="341.83" y="31.68" width="10.07" height="8.22" fill="#fac48a"/><rect x="351.60" y="31.68" width="10.07" height="8.22" fill="#fac48a"/><rect x="-9.77" y="39.60" width="10.07" height="8.22" fill="#ffe4b5"/><rect x="0.00" y="39.60" width="10.07" height="8.22" fill="#ffe4b5"/><rect x="9.77" y="39.60" width="10.07" height="8.22" fill="#ffe4b5"/><rect x="19.53" y="39.60" width="10.07" height="8.22" fill="#fac48a"/><rect x="29.30" y="39.60" width="10.07" height="8.22" fill="#f4a460"/><rect x="39.07" y="39.60" width="10.07" height="8.22" fill="#f4a460"/><rect x="48.83" y="39.60" width="10.07" height="8.22" fill="#fac48a"/><rect x="58.60" y="39.60" width="10.07" height="8.22" fill="#f4a460"/><rect x="68.37" y="39.60" width="10.07" height="8.22" fill="#f4a460"/><rect x="78.13" y="39.60" width="10.07" height="8.22" fill="#f29230"/><rect x="87.90" y="39.60" width="10.07" height="8.22" fill="#f29230"/><rect x="97.67" y="39.60" width="10.07" height="8.22" fill="#f4a460"/><rect x="107.43" y="39.60" width="10.07" height="8.22" fill="#f4a460"/><rect x="117.20" y="39.60" width="10.07" height="8.22" fill="#f08000"/><rect x="126.97" y="39.60" width="10.07" height="8.22" fill="#dc7114"/><rect x="136.73" y="39.60" width="10.07" height="8.22" fill="#dc7114"/><rect x="146.50" y="39.60" width="10.07" height="8.22" fill="#f08000"/><rect x="156.27" y="39.60" width="10.07" height="8.22" fill="#fac48a"/><rect x="166.03" y="39.60" width="10.07" height="8.22" fill="#fac48a"/><rect x="175.80" y="39.60" width="10.07" height="8.22" fill="#ffe4b5"/><rect x="185.57" y="39.60" width="10.07" height="8.22" fill="#f2e5d8"/><rect x="195.33" y="39.60" width="10.07" height="8.22" fill="#e6e6fa"/><rect x="205.10" y="39.60" width="10.07" height="8.22" fill="#e6e6fa"/><rect x="214.87" y="39.60" width="10.07" height="8.22" fill="#e6e6fa"/><rect x="224.63" y="39.60" width="10.07" height="8.22" fill="#e6e6fa"/><rect x="234.40" y="39.60" width="10.07" height="8.22" fill="#e6e6fa"/><rect x="244.17" y="39.60" width="10.07" height="8.22" fill="#e6e6fa"/><rect x="253.93" y="39.60" width="10.07" height="8.22" fill="#e6e6fa"/><rect x="263.70" y="39.60" width="10.07" height="8.22" fill="#e6e6fa"/><rect x="273.47" y="39.60" width="10.07" height="8.22" fill="#e6e6fa"/><rect x="283.23" y="39.60" width="10.07" height="8.22" fill="#e6e6fa"/><rect x="293.00" y="39.60" width="10.07" height="8.22" fill="#e6e6fa"/><rect x="302.77" y="39.60" width="10.07" height="8.22" fill="#e6e6fa"/><rect x="312.53" y="39.60" width="10.07" height="8.22" fill="#e6e6fa"/><rect x="322.30" y="39.60" width="10.07" height="8.22" fill="#e6e6fa"/><rect x="332.07" y="39.60" width="10.07" height="8.22" fill="#e6e6fa"/><rect x="341.83" y="39.60" width="10.07" height="8.22" fill="#e6e6fa"/><rect x="351.60" y="39.60" width="10.07" height="8.22" fill="#e6e6fa"/><rect x="-9.77" y="47.52" width="10.07" height="8.22" fill="#f2e5d8"/><rect x="0.00" y="47.52" width="10.07" height="8.22" fill="#f2e5d8"/><rect x="9.77" y="47.52" width="10.07" height="8.22" fill="#f2e5d8"/><rect x="19.53" y="47.52" width="10.07" height="8.22" fill="#e6e6fa"/><rect x="29.30" y="47.52" width="10.07" height="8.22" fill="#e6e6fa"/><rect x="39.07" y="47.52" width="10.07" height="8.22" fill="#e6e6fa"/><rect x="48.83" y="47.52" width="10.07" height="8.22" fill="#f2e5d8"/><rect x="58.60" y="47.52" width="10.07" height="8.22" fill="#ffe4b5"/><rect x="68.37" y="47.52" width="10.07" height="8.22" fill="#ffe4b5"/><rect x="78.13" y="47.52" width="10.07" height="8.22" fill="#fac48a"/><rect x="87.90" y="47.52" width="10.07" height="8.22" fill="#f4a460"/><rect x="97.67" y="47.52" width="10.07" height="8.22" fill="#f4a460"/><rect x="107.43" y="47.52" width="10.07" height="8.22" fill="#f4a460"/><rect x="117.20" y="47.52" width="10.07" height="8.22" fill="#f4a460"/><rect x="126.97" y="47.52" width="10.07" height="8.22" fill="#f08000"/><rect x="136.73" y="47.52" width="10.07" height="8.22" fill="#f08000"/><rect x="146.50" y="47.52" width="10.07" height="8.22" fill="#f08000"/><rect x="156.27" y="47.52" width="10.07" height="8.22" fill="#fac48a"/><rect x="166.03" y="47.52" width="10.07" height="8.22" fill="#ffe4b5"/><rect x="175.80" y="47.52" width="10.07" height="8.22" fill="#ffe4b5"/><rect x="185.57" y="47.52" width="10.07" height="8.22" fill="#e6e6fa"/><rect x="195.33" y="47.52" width="10.07" height="8.22" fill="#d4f0f0"/><rect x="205.10" y="47.52" width="10.07" height="8.22" fill="#d4f0f0"/><rect x="214.87" y="47.52" width="10.07" height="8.22" fill="#add8e6"/><rect x="224.63" y="47.52" width="10.07" height="8.22" fill="#d4f0f0"/><rect x="234.40" y="47.52" width="10.07" height="8.22" fill="#add8e6"/><rect x="244.17" y="47.52" width="10.07" height="8.22" fill="#add8e6"/><rect x="253.93" y="47.52" width="10.07" height="8.22" fill="#add8e6"/><rect x="263.70" y="47.52" width="10.07" height="8.22" fill="#ddebf5"/><rect x="273.47" y="47.52" width="10.07" height="8.22" fill="#ddebf5"/><rect x="283.23" y="47.52" width="10.07" height="8.22" fill="#ddebf5"/><rect x="293.00" y="47.52" width="10.07" height="8.22" fill="#add8e6"/><rect x="302.77" y="47.52" width="10.07" height="8.22" fill="#add8e6"/><rect x="312.53" y="47.52" width="10.07" height="8.22" fill="#add8e6"/><rect x="322.30" y="47.52" width="10.07" height="8.22" fill="#add8e6"/><rect x="332.07" y="47.52" width="10.07" height="8.22" fill="#add8e6"/><rect x="341.83" y="47.52" width="10.07" height="8.22" fill="#add8e6"/><rect x="351.60" y="47.52" width="10.07" height="8.22" fill="#add8e6"/><rect x="-9.77" y="55.44" width="10.07" height="8.22" fill="#e6e6fa"/><rect x="0.00" y="55.44" width="10.07" height="8.22" fill="#e6e6fa"/><rect x="9.77" y="55.44" width="10.07" height="8.22" fill="#e6e6fa"/><rect x="19.53" y="55.44" width="10.07" height="8.22" fill="#d4f0f0"/><rect x="29.30" y="55.44" width="10.07" height="8.22" fill="#d4f0f0"/><rect x="39.07" y="55.44" width="10.07" height="8.22" fill="#d4f0f0"/><rect x="48.83" y="55.44" width="10.07" height="8.22" fill="#e6e6fa"/><rect x="58.60" y="55.44" width="10.07" height="8.22" fill="#e6e6fa"/><rect x="68.37" y="55.44" width="10.07" height="8.22" fill="#e6e6fa"/><rect x="78.13" y="55.44" width="10.07" height="8.22" fill="#ffe4b5"/><rect x="87.90" y="55.44" width="10.07" height="8.22" fill="#f4a460"/><rect x="97.67" y="55.44" width="10.07" height="8.22" fill="#f4a460"/><rect x="107.43" y="55.44" width="10.07" height="8.22" fill="#f4a460"/><rect x="117.20" y="55.44" width="10.07" height="8.22" fill="#f4a460"/><rect x="126.97" y="55.44" width="10.07" height="8.22" fill="#f4a460"/><rect x="136.73" y="55.44" width="10.07" height="8.22" fill="#f4a460"/><rect x="146.50" y="55.44" width="10.07" height="8.22" fill="#f4a460"/><rect x="156.27" y="55.44" width="10.07" height="8.22" fill="#fac48a"/><rect x="166.03" y="55.44" width="10.07" height="8.22" fill="#ffe4b5"/><rect x="175.80" y="55.44" width="10.07" height="8.22" fill="#ffe4b5"/><rect x="185.57" y="55.44" width="10.07" height="8.22" fill="#f2e5d8"/><rect x="195.33" y="55.44" width="10.07" height="8.22" fill="#d4f0f0"/><rect x="205.10" y="55.44" width="10.07" height="8.22" fill="#d4f0f0"/><rect x="214.87" y="55.44" width="10.07" height="8.22" fill="#d4f0f0"/><rect x="224.63" y="55.44" width="10.07" height="8.22" fill="#d4f0f0"/><rect x="234.40" y="55.44" width="10.07" height="8.22" fill="#d4f0f0"/><rect x="244.17" y="55.44" width="10.07" height="8.22" fill="#d4f0f0"/><rect x="253.93" y="55.44" width="10.07" height="8.22" fill="#d4f0f0"/><rect x="263.70" y="55.44" width="10.07" height="8.22" fill="#d4f0f0"/><rect x="273.47" y="55.44" width="10.07" height="8.22" fill="#d4f0f0"/><rect x="283.23" y="55.44" width="10.07" height="8.22" fill="#d4f0f0"/><rect x="293.00" y="55.44" width="10.07" height="8.22" fill="#add8e6"/><rect x="302.77" y="55.44" width="10.07" height="8.22" fill="#add8e6"/><rect x="312.53" y="55.44" width="10.07" height="8.22" fill="#add8e6"/><rect x="322.30" y="55.44" width="10.07" height="8.22" fill="#add8e6"/><rect x="332.07" y="55.44" width="10.07" height="8.22" fill="#add8e6"/><rect x="341.83" y="55.44" width="10.07" height="8.22" fill="#add8e6"/><rect x="351.60" y="55.44" width="10.07" height="8.22" fill="#add8e6"/><rect x="-9.77" y="63.36" width="10.07" height="8.22" fill="#e6e6fa"/><rect x="0.00" y="63.36" width="10.07" height="8.22" fill="#e6e6fa"/><rect x="9.77" y="63.36" width="10.07" height="8.22" fill="#e6e6fa"/><rect x="19.53" y="63.36" width="10.07" height="8.22" fill="#e6e6fa"/><rect x="29.30" y="63.36" width="10.07" height="8.22" fill="#e6e6fa"/><rect x="39.07" y="63.36" width="10.07" height="8.22" fill="#e6e6fa"/><rect x="48.83" y="63.36" width="10.07" height="8.22" fill="#e6e6fa"/><rect x="58.60" y="63.36" width="10.07" height="8.22" fill="#e6e6fa"/><rect x="68.37" y="63.36" width="10.07" height="8.22" fill="#e6e6fa"/><rect x="78.13" y="63.36" width="10.07" height="8.22" fill="#ffe4b5"/><rect x="87.90" y="63.36" width="10.07" height="8.22" fill="#ffe4b5"/><rect x="97.67" y="63.36" width="10.07" height="8.22" fill="#ffe4b5"/><rect x="107.43" y="63.36" width="10.07" height="8.22" fill="#fac48a"/><rect x="117.20" y="63.36" width="10.07" height="8.22" fill="#fac48a"/><rect x="126.97" y="63.36" width="10.07" height="8.22" fill="#fac48a"/><rect x="136.73" y="63.36" width="10.07" height="8.22" fill="#ffe4b5"/><rect x="146.50" y="63.36" width="10.07" height="8.22" fill="#ffe4b5"/><rect x="156.27" y="63.36" width="10.07" height="8.22" fill="#ffe4b5"/><rect x="166.03" y="63.36" width="10.07" height="8.22" fill="#ffe4b5"/><rect x="175.80" y="63.36" width="10.07" height="8.22" fill="#ffe4b5"/><rect x="185.57" y="63.36" width="10.07" height="8.22" fill="#e6e6fa"/><rect x="195.33" y="63.36" width="10.07" height="8.22" fill="#d4f0f0"/><rect x="205.10" y="63.36" width="10.07" height="8.22" fill="#d4f0f0"/><rect x="214.87" y="63.36" width="10.07" height="8.22" fill="#d4f0f0"/><rect x="224.63" y="63.36" width="10.07" height="8.22" fill="#d4f0f0"/><rect x="234.40" y="63.36" width="10.07" height="8.22" fill="#e6e6fa"/><rect x="244.17" y="63.36" width="10.07" height="8.22" fill="#d4f0f0"/><rect x="253.93" y="63.36" width="10.07" height="8.22" fill="#d4f0f0"/><rect x="263.70" y="63.36" width="10.07" height="8.22" fill="#d4f0f0"/><rect x="273.47" y="63.36" width="10.07" height="8.22" fill="#d4f0f0"/><rect x="283.23" y="63.36" width="10.07" height="8.22" fill="#d4f0f0"/><rect x="293.00" y="63.36" width="10.07" height="8.22" fill="#d4f0f0"/><rect x="302.77" y="63.36" width="10.07" height="8.22" fill="#add8e6"/><rect x="312.53" y="63.36" width="10.07" height="8.22" fill="#add8e6"/><rect x="322.30" y="63.36" width="10.07" height="8.22" fill="#add8e6"/><rect x="332.07" y="63.36" width="10.07" height="8.22" fill="#d4f0f0"/><rect x="341.83" y="63.36" width="10.07" height="8.22" fill="#d4f0f0"/><rect x="351.60" y="63.36" width="10.07" height="8.22" fill="#d4f0f0"/><rect x="-9.77" y="71.28" width="10.07" height="8.22" fill="#e6e6fa"/><rect x="0.00" y="71.28" width="10.07" height="8.22" fill="#e6e6fa"/><rect x="9.77" y="71.28" width="10.07" height="8.22" fill="#e6e6fa"/><rect x="19.53" y="71.28" width="10.07" height="8.22" fill="#e6e6fa"/><rect x="29.30" y="71.28" width="10.07" height="8.22" fill="#e6e6fa"/><rect x="39.07" y="71.28" width="10.07" height="8.22" fill="#e6e6fa"/><rect x="48.83" y="71.28" width="10.07" height="8.22" fill="#e6e6fa"/><rect x="58.60" y="71.28" width="10.07" height="8.22" fill="#e6e6fa"/><rect x="68.37" y="71.28" width="10.07" height="8.22" fill="#e6e6fa"/><rect x="78.13" y="71.28" width="10.07" height="8.22" fill="#fac48a"/><rect x="87.90" y="71.28" width="10.07" height="8.22" fill="#fac48a"/><rect x="97.67" y="71.28" width="10.07" height="8.22" fill="#fac48a"/><rect x="107.43" y="71.28" width="10.07" height="8.22" fill="#f08000"/><rect x="117.20" y="71.28" width="10.07" height="8.22" fill="#f08000"/><rect x="126.97" y="71.28" width="10.07" height="8.22" fill="#fac48a"/><rect x="136.73" y="71.28" width="10.07" height="8.22" fill="#ffe4b5"/><rect x="146.50" y="71.28" width="10.07" height="8.22" fill="#ffe4b5"/><rect x="156.27" y="71.28" width="10.07" height="8.22" fill="#ffe4b5"/><rect x="166.03" y="71.28" width="10.07" height="8.22" fill="#ffe4b5"/><rect x="175.80" y="71.28" width="10.07" height="8.22" fill="#ffe4b5"/><rect x="185.57" y="71.28" width="10.07" height="8.22" fill="#ffe4b5"/><rect x="195.33" y="71.28" width="10.07" height="8.22" fill="#e6e6fa"/><rect x="205.10" y="71.28" width="10.07" height="8.22" fill="#e6e6fa"/><rect x="214.87" y="71.28" width="10.07" height="8.22" fill="#e6e6fa"/><rect x="224.63" y="71.28" width="10.07" height="8.22" fill="#e6e6fa"/><rect x="234.40" y="71.28" width="10.07" height="8.22" fill="#fac48a"/><rect x="244.17" y="71.28" width="10.07" height="8.22" fill="#ffe4b5"/><rect x="253.93" y="71.28" width="10.07" height="8.22" fill="#ffe4b5"/><rect x="263.70" y="71.28" width="10.07" height="8.22" fill="#ffe4b5"/><rect x="273.47" y="71.28" width="10.07" height="8.22" fill="#e6e6fa"/><rect x="283.23" y="71.28" width="10.07" height="8.22" fill="#e6e6fa"/><rect x="293.00" y="71.28" width="10.07" height="8.22" fill="#e6e6fa"/><rect x="302.77" y="71.28" width="10.07" height="8.22" fill="#e6e6fa"/><rect x="312.53" y="71.28" width="10.07" height="8.22" fill="#d4f0f0"/><rect x="322.30" y="71.28" width="10.07" height="8.22" fill="#d4f0f0"/><rect x="332.07" y="71.28" width="10.07" height="8.22" fill="#d4f0f0"/><rect x="341.83" y="71.28" width="10.07" height="8.22" fill="#d4f0f0"/><rect x="351.60" y="71.28" width="10.07" height="8.22" fill="#d4f0f0"/><rect x="-9.77" y="79.20" width="10.07" height="8.22" fill="#e6e6fa"/><rect x="0.00" y="79.20" width="10.07" height="8.22" fill="#e6e6fa"/><rect x="9.77" y="79.20" width="10.07" height="8.22" fill="#e6e6fa"/><rect x="19.53" y="79.20" width="10.07" height="8.22" fill="#e6e6fa"/><rect x="29.30" y="79.20" width="10.07" height="8.22" fill="#e6e6fa"/><rect x="39.07" y="79.20" width="10.07" height="8.22" fill="#e6e6fa"/><rect x="48.83" y="79.20" width="10.07" height="8.22" fill="#e6e6fa"/><rect x="58.60" y="79.20" width="10.07" height="8.22" fill="#e6e6fa"/><rect x="68.37" y="79.20" width="10.07" height="8.22" fill="#e6e6fa"/><rect x="78.13" y="79.20" width="10.07" height="8.22" fill="#fac48a"/><rect x="87.90" y="79.20" width="10.07" height="8.22" fill="#fac48a"/><rect x="97.67" y="79.20" width="10.07" height="8.22" fill="#fac48a"/><rect x="107.43" y="79.20" width="10.07" height="8.22" fill="#f08000"/><rect x="117.20" y="79.20" width="10.07" height="8.22" fill="#f08000"/><rect x="126.97" y="79.20" width="10.07" height="8.22" fill="#fac48a"/><rect x="136.73" y="79.20" width="10.07" height="8.22" fill="#ffe4b5"/><rect x="146.50" y="79.20" width="10.07" height="8.22" fill="#ffe4b5"/><rect x="156.27" y="79.20" width="10.07" height="8.22" fill="#ffe4b5"/><rect x="166.03" y="79.20" width="10.07" height="8.22" fill="#ffe4b5"/><rect x="175.80" y="79.20" width="10.07" height="8.22" fill="#ffe4b5"/><rect x="185.57" y="79.20" width="10.07" height="8.22" fill="#ffe4b5"/><rect x="195.33" y="79.20" width="10.07" height="8.22" fill="#e6e6fa"/><rect x="205.10" y="79.20" width="10.07" height="8.22" fill="#e6e6fa"/><rect x="214.87" y="79.20" width="10.07" height="8.22" fill="#e6e6fa"/><rect x="224.63" y="79.20" width="10.07" height="8.22" fill="#e6e6fa"/><rect x="234.40" y="79.20" width="10.07" height="8.22" fill="#fac48a"/><rect x="244.17" y="79.20" width="10.07" height="8.22" fill="#ffe4b5"/><rect x="253.93" y="79.20" width="10.07" height="8.22" fill="#ffe4b5"/><rect x="263.70" y="79.20" width="10.07" height="8.22" fill="#ffe4b5"/><rect x="273.47" y="79.20" width="10.07" height="8.22" fill="#e6e6fa"/><rect x="283.23" y="79.20" width="10.07" height="8.22" fill="#e6e6fa"/><rect x="293.00" y="79.20" width="10.07" height="8.22" fill="#e6e6fa"/><rect x="302.77" y="79.20" width="10.07" height="8.22" fill="#e6e6fa"/><rect x="312.53" y="79.20" width="10.07" height="8.22" fill="#d4f0f0"/><rect x="322.30" y="79.20" width="10.07" height="8.22" fill="#d4f0f0"/><rect x="332.07" y="79.20" width="10.07" height="8.22" fill="#d4f0f0"/><rect x="341.83" y="79.20" width="10.07" height="8.22" fill="#d4f0f0"/><rect x="351.60" y="79.20" width="10.07" height="8.22" fill="#d4f0f0"/></g><g filter="url(#blur2)"><path d="M293.80,56.70 C294.47,54.70 295.13,52.12 297.80,50.70 C300.47,49.28 305.13,48.70 309.80,48.20 C314.47,47.70 321.30,47.62 325.80,47.70 C330.30,47.78 334.30,47.20 336.80,48.70 C339.30,50.20 340.30,53.70 340.80,56.70 C341.30,59.70 340.63,64.03 339.80,66.70 C338.97,69.37 338.13,71.87 335.80,72.70 C333.47,73.53 329.80,72.20 325.80,71.70 C321.80,71.20 316.13,70.53 311.80,69.70 C307.47,68.87 302.80,67.87 299.80,66.70 C296.80,65.53 294.80,64.37 293.80,62.70 C292.80,61.03 293.13,58.70 293.80,56.70Z" fill="#add8e6" fill-opacity="1"/><path d="M301.00,56.30 C302.28,55.28 305.38,53.25 308.70,52.50 C312.02,51.75 317.08,51.80 320.90,51.80 C324.72,51.80 328.80,52.00 331.60,52.50 C334.40,53.00 336.43,53.15 337.70,54.80 C338.97,56.45 339.47,59.85 339.20,62.40 C338.93,64.95 337.37,69.07 336.10,70.10 C334.83,71.13 333.63,69.37 331.60,68.60 C329.57,67.83 326.70,66.15 323.90,65.50 C321.10,64.85 317.85,65.33 314.80,64.70 C311.75,64.07 307.90,62.72 305.60,61.70 C303.30,60.68 301.77,59.50 301.00,58.60 C300.23,57.70 299.72,57.32 301.00,56.30Z" fill="#5ea6ec" fill-opacity="1"/><ellipse cx="314.80" cy="42.60" rx="0.9" ry="0.9" fill="#222" fill-opacity="1"/><ellipse cx="234.80" cy="54.70" rx="15" ry="3.5" fill="#add8e6" fill-opacity="1"/></g>
<path d="M0.04,-1.64L11.04,-1.64L11.04,-0.08L12.02,3.04L13.28,5.38L13.67,6.93L14.94,11.61L15.91,15.50L17.86,18.62L19.52,20.49L19.42,21.58L20.78,23.45L23.22,22.36L25.17,22.05L27.31,21.27L27.11,23.45L26.63,25.63L25.65,28.75L24.19,31.86L22.24,36.54L20.30,38.87L18.35,41.21L17.37,42.77L16.59,44.33L15.91,47.13L15.43,49.78L15.91,52.12L16.40,56.01L16.89,59.13L16.98,63.02L15.43,66.14L13.28,68.47L11.53,70.81L11.82,73.93L12.02,77.04L9.58,80.94L0.04,80.94Z M12.99,-1.64L12.99,-0.08L13.96,2.26L15.43,5.38L16.89,9.27L17.86,12.39L18.83,15.50L19.61,19.86L21.27,19.55L24.19,17.84L26.14,16.28L28.09,14.72L31.01,12.39L32.47,10.83L33.74,9.27L34.71,6.93L35.69,4.60L34.71,3.04L32.96,2.26L32.37,0.86L32.28,-1.64Z M32.76,-1.64L33.25,-0.39L34.91,0.08L37.44,0.39L39.78,0.23L42.21,0.08L42.89,1.01L43.67,2.73L44.35,3.04L45.13,4.13L44.65,4.91L46.11,7.24L48.15,6.15L48.35,10.05L48.54,13.17L49.03,15.50L49.81,17.84L50.30,19.71L51.07,21.73L51.76,24.85L52.92,27.03L53.61,25.78L54.68,23.60L55.17,21.73L55.65,18.62L55.55,15.50L56.82,14.26L57.60,13.17L59.26,11.14L60.72,9.27L62.18,7.24L62.18,6.00L63.64,5.84L65.10,5.38L66.56,4.60L67.05,6.62L67.34,7.40L68.51,9.27L69.29,11.61L69.29,14.72L69.97,14.88L71.43,13.94L72.50,13.94L72.70,17.06L73.38,20.18L73.38,24.07L73.18,27.19L74.35,29.52L75.13,31.86L75.62,34.20L76.30,35.76L78.15,37.63L78.93,37.47L78.25,34.20L77.96,31.86L76.79,29.99L75.33,27.97L75.03,25.63L74.06,23.29L74.35,20.96L74.84,18.62L75.72,19.86L76.30,20.02L77.27,20.96L77.76,22.51L79.22,23.45L79.71,26.25L81.17,24.85L81.66,23.29L83.41,22.05L83.90,19.40L83.61,16.28L82.63,14.41L81.17,11.92L80.49,10.05L81.17,8.02L82.14,6.15L83.12,5.84L84.29,6.15L84.97,8.02L85.55,6.15L87.02,5.69L88.48,4.91L90.42,3.97L91.88,2.73L92.86,1.32L93.83,-0.08L94.32,-1.64Z M55.17,24.38L56.33,26.41L57.11,28.75L56.63,29.99L55.55,30.30L55.17,27.97Z M83.22,9.74L84.58,8.34L85.55,9.11L85.07,10.83L84.09,11.30L83.22,10.83Z M94.42,3.82L95.00,5.38L95.29,4.60L95.78,3.04L96.17,0.70L95.78,0.23L95.10,1.01L94.42,3.04Z M70.26,30.93L72.41,31.55L73.57,33.73L74.84,35.76L75.81,36.85L77.27,38.09L78.54,40.43L79.22,42.77L80.68,44.64L80.49,48.69L79.22,48.84L77.08,45.88L75.81,43.55L74.84,41.21L73.87,38.87L73.38,36.85L72.41,35.76L71.43,34.20Z M79.90,50.25L80.68,49.00L81.66,48.84L82.92,49.47L85.07,49.78L86.04,49.93L87.21,50.40L88.96,51.65L88.87,52.89L86.53,52.58L84.58,52.27L82.63,51.80L81.17,51.18Z M89.45,52.43L90.42,52.27L91.40,52.43L93.35,52.58L95.29,52.58L97.24,52.43L98.70,52.27L101.43,52.58L99.68,54.45L98.22,55.70L97.24,55.85L95.29,53.67L93.35,53.67L91.40,53.67L89.45,53.36Z M83.61,37.31L84.19,36.54L85.55,37.31L87.50,34.67L88.48,32.64L89.94,31.39L90.91,29.52L91.69,28.90L93.54,31.39L92.57,32.64L92.08,33.42L92.37,35.76L93.25,38.09L92.27,38.25L91.88,40.43L90.91,41.99L90.72,44.33L90.33,45.57L89.06,46.04L87.99,44.64L86.24,44.33L84.77,44.33L84.68,41.99L83.70,40.43Z M93.83,48.38L94.71,48.22L94.71,44.33L95.39,44.01L96.46,46.97L97.05,47.13L95.78,42.46L97.44,41.21L96.85,40.74L95.29,41.05L94.81,40.43L95.00,38.87L96.75,38.87L98.70,38.87L99.38,37.31L98.80,37.16L96.75,38.09L95.10,37.63L94.22,38.87L94.03,41.21L93.15,43.86L93.83,45.10Z M94.32,10.83L96.56,10.83L96.46,13.94L95.88,15.50L95.88,17.68L98.22,19.40L97.73,19.86L96.27,18.15L94.90,17.53L94.32,16.28L94.13,14.26L94.71,13.94Z M96.27,28.75L97.73,27.65L98.70,26.41L99.68,24.85L100.65,26.41L100.65,29.52L99.68,30.61L98.41,29.84L97.73,28.28L96.46,29.06Z M96.27,21.27L97.24,21.73L98.70,20.18L99.87,22.20L99.19,24.07L98.22,24.85L97.24,25.32L96.56,24.07L96.17,22.51Z M91.59,26.72L93.83,23.29L94.03,22.05L93.35,22.82L91.79,26.10Z M101.62,36.54L102.60,37.31L102.89,38.87L102.11,40.90L101.43,38.87Z M102.11,44.33L104.55,44.64L104.84,45.57L102.11,45.26Z M105.03,41.52L106.49,40.27L107.96,41.05L108.93,44.79L111.36,41.99L113.80,43.39L115.75,44.48L118.18,45.73L119.64,48.22L121.11,49.15L121.40,50.25L122.57,52.89L124.03,56.01L121.59,55.54L120.13,52.89L118.18,51.49L117.21,52.58L116.23,53.98L114.77,53.83L113.31,52.27L111.85,52.74L111.66,51.18L112.63,50.25L111.85,48.06L109.90,46.82L108.44,45.88L106.98,45.88L106.01,44.17L107.47,43.39L106.01,43.08Z M121.88,48.22L123.54,47.60L125.00,46.66L125.78,46.19L125.29,47.44L124.03,49.00L122.57,49.31Z M124.32,43.86L125.68,44.79L126.66,46.82L126.27,47.13L125.00,45.10Z M129.38,49.78L130.85,51.34L132.31,52.12L133.77,53.67L135.23,56.01L134.74,56.48L132.79,54.92L130.85,52.89L128.90,50.56Z M139.61,62.24L140.59,63.80L141.56,66.92L142.53,70.03L142.05,70.50L140.88,66.14L139.81,64.27Z M137.18,71.12L138.64,72.37L140.10,74.24L139.90,74.71L138.15,73.46L137.18,72.06Z M150.03,66.60L151.30,66.45L152.27,65.36L152.57,66.14L151.40,68.01L150.13,67.70Z M176.14,8.18L177.30,9.27L176.62,10.20L176.14,9.27Z M87.99,80.94L87.99,79.38L88.28,76.26L88.48,73.93L89.06,73.62L91.11,71.75L93.15,71.28L95.29,70.03L96.56,67.70L96.46,66.14L97.73,65.36L98.70,63.80L99.68,62.24L100.94,61.31L102.11,63.02L103.57,62.87L104.25,60.53L104.64,58.97L106.01,57.57L106.59,57.41L107.47,58.04L108.93,58.66L110.49,58.35L109.90,60.37L109.42,62.55L110.68,64.42L112.34,65.83L113.80,67.07L114.68,66.60L115.36,63.02L115.26,59.91L115.75,56.79L116.23,56.32L117.01,59.13L117.31,61.46L118.96,63.02L119.16,65.36L119.84,69.10L122.37,71.28L123.05,74.39L124.32,75.02L125.00,77.35L126.46,79.07L126.66,80.94Z M25.46,58.35L26.43,63.80L25.65,66.92L24.68,71.59L23.70,77.04L23.22,78.91L21.27,79.38L20.30,77.82L19.61,73.93L20.49,70.03L20.30,66.14L20.78,64.89L22.54,64.11L23.70,62.24L24.68,60.53Z M218.41,-1.64L218.89,-0.08L219.48,1.32L220.65,3.04L221.04,3.97L221.43,3.35L220.65,1.95L220.26,1.01L219.67,-0.08L219.38,-1.64Z M221.62,-1.64L222.40,0.39L224.35,3.35L225.32,6.15L225.52,8.02L226.30,9.74L227.76,11.30L229.22,12.39L231.17,13.79L233.60,15.03L235.55,14.57L237.01,15.50L238.47,17.06L239.93,17.99L242.37,19.09L242.86,19.55L243.63,20.96L244.61,22.51L244.51,23.76L245.29,24.54L246.46,26.41L247.72,27.03L249.19,27.81L250.16,28.28L250.65,25.94L251.62,26.72L252.59,27.97L252.69,29.52L252.79,33.42L251.33,36.85L250.16,38.40L249.67,41.21L249.19,43.08L249.87,44.95L248.99,46.66L248.99,48.69L250.35,50.56L251.62,53.67L252.89,57.57L253.86,60.68L255.03,63.80L257.66,65.83L259.61,68.47L259.71,71.59L259.80,75.49L259.41,80.94L280.84,80.94L281.33,79.38L282.79,77.04L284.74,75.95L287.17,75.49L288.15,73.15L289.12,70.34L289.80,66.92L290.09,63.02L290.58,59.91L291.85,57.57L293.02,55.23L293.99,53.36L293.99,50.56L293.80,48.22L292.04,47.44L290.58,45.26L289.12,44.01L287.17,44.01L284.74,43.55L283.28,41.21L280.84,41.21L279.38,39.65L279.38,36.85L278.41,33.42L277.43,32.64L275.97,30.93L274.51,30.46L272.07,30.30L270.61,27.19L269.15,26.41L268.18,24.38L267.20,23.14L265.74,23.14L263.80,23.14L261.36,23.14L259.90,20.64L258.44,22.51L258.73,20.96L257.95,20.96L256.98,22.05L255.52,22.51L254.54,23.29L254.06,25.01L253.08,26.41L252.11,25.32L250.65,24.85L249.19,25.78L247.72,24.85L246.56,22.51L246.75,20.18L247.04,16.28L246.26,15.03L244.32,14.72L242.08,14.41L242.37,10.83L242.86,9.27L243.34,6.15L241.39,6.31L240.03,7.24L239.45,10.05L238.47,10.67L236.04,11.30L234.38,9.74L233.12,6.93L233.21,4.60L233.41,-0.08L233.31,-1.64Z M250.06,-1.64L250.06,-0.55L249.77,0.39L249.09,0.55L248.70,-0.70L248.41,-1.64Z M245.39,5.53L247.24,3.97L249.19,3.66L250.65,4.60L252.59,5.69L254.35,6.78L255.81,8.18L255.03,8.65L252.40,8.65L252.89,7.56L251.62,6.15L249.67,5.38L248.21,5.06L246.75,5.69Z M255.52,10.98L257.17,8.65L258.93,8.65L260.87,9.74L261.56,10.67L259.90,11.30L258.44,12.23L257.17,11.30Z M251.82,10.98L253.86,11.45L253.28,12.07L252.11,11.45Z M262.63,10.83L264.19,10.98L264.19,11.61L262.63,11.61Z M314.64,-1.64L313.76,-0.08L312.50,2.57L311.52,6.93L312.01,9.27L312.30,11.61L311.52,15.50L311.03,16.75L311.72,18.62L311.81,20.49L312.98,21.73L313.96,23.29L315.13,24.85L315.90,27.97L317.37,29.06L318.83,31.08L320.77,32.80L323.21,31.71L326.13,32.17L328.08,30.93L329.54,29.99L331.49,29.68L332.95,30.61L333.92,32.95L335.38,32.64L336.36,32.64L337.43,33.57L337.63,35.76L337.33,38.09L337.14,40.43L337.82,43.55L339.28,45.88L339.96,48.84L340.74,52.12L341.23,56.01L341.52,58.35L340.25,60.68L339.77,63.80L339.57,66.92L341.23,71.59L342.20,74.71L342.50,80.94L357.30,80.94L357.30,-1.64Z" fill="#7f7f7f" stroke="#7f7f7f" stroke-width="1.2" stroke-linejoin="round"/>
<path d="M31.80,9.70 C33.13,9.45 36.98,8.53 39.80,8.20 C42.62,7.87 47.22,7.78 48.70,7.70" fill="none" stroke="#262626" stroke-width="1.0" stroke-linejoin="round"/><path d="M48.70,12.90 C47.00,13.58 41.57,15.30 38.50,17.00 C35.43,18.70 32.52,20.90 30.30,23.10 C28.08,25.30 26.38,27.83 25.20,30.20 C24.02,32.57 23.70,34.92 23.20,37.30 C22.70,39.68 22.70,42.28 22.20,44.50 C21.70,46.72 20.53,49.58 20.20,50.60" fill="none" stroke="#262626" stroke-width="1.0" stroke-linejoin="round"/><path d="M56.80,12.90 C57.97,12.70 61.43,12.03 63.80,11.70 C66.17,11.37 69.80,11.03 71.00,10.90" fill="none" stroke="#262626" stroke-width="1.0" stroke-linejoin="round"/><path d="M81.20,14.00 C83.23,13.82 88.98,13.25 93.40,12.90 C97.82,12.55 103.63,12.07 107.70,11.90 C111.77,11.73 114.08,11.22 117.80,11.90 C121.52,12.58 125.97,14.47 130.00,16.00 C134.03,17.53 137.97,19.75 142.00,21.10 C146.03,22.45 150.47,23.25 154.20,24.10 C157.93,24.95 161.85,25.35 164.40,26.20 C166.95,27.05 169.00,27.85 169.50,29.20 C170.00,30.55 168.25,32.95 167.40,34.30 C166.55,35.65 164.73,36.28 164.40,37.30 C164.07,38.32 164.05,39.37 165.40,40.40 C166.75,41.43 169.28,42.48 172.50,43.50 C175.72,44.52 180.97,45.67 184.70,46.50 C188.43,47.33 192.35,47.32 194.90,48.50 C197.45,49.68 199.32,51.57 200.00,53.60 C200.68,55.63 200.18,58.48 199.00,60.70 C197.82,62.92 195.28,65.53 192.90,66.90 C190.52,68.27 188.43,68.40 184.70,68.90 C180.97,69.40 175.58,69.83 170.50,69.90 C165.42,69.97 158.95,69.63 154.20,69.30 C149.45,68.97 145.73,68.33 142.00,67.90 C138.27,67.47 135.15,67.40 131.80,66.70 C128.45,66.00 123.55,64.20 121.90,63.70" fill="none" stroke="#262626" stroke-width="1.0" stroke-linejoin="round"/><path d="M79.20,28.20 C79.87,27.52 80.83,25.12 83.20,24.10 C85.57,23.08 90.68,21.75 93.40,22.10 C96.12,22.45 97.47,25.35 99.50,26.20 C101.53,27.05 102.55,27.20 105.60,27.20 C108.65,27.20 113.77,26.37 117.80,26.20 C121.83,26.03 126.45,25.53 129.80,26.20 C133.15,26.87 134.85,28.68 137.90,30.20 C140.95,31.72 145.03,33.60 148.10,35.30 C151.17,37.00 152.90,38.70 156.30,40.40 C159.70,42.10 164.78,43.97 168.50,45.50 C172.22,47.03 175.38,48.42 178.60,49.60 C181.82,50.78 185.77,51.25 187.80,52.60 C189.83,53.95 190.63,55.83 190.80,57.70 C190.97,59.57 190.48,62.62 188.80,63.80 C187.12,64.98 185.45,64.70 180.70,64.80 C175.95,64.90 165.40,64.57 160.30,64.40 C155.20,64.23 153.48,64.23 150.10,63.80 C146.72,63.37 143.38,62.32 140.00,61.80 C136.62,61.28 132.83,61.55 129.80,60.70 C126.77,59.85 125.13,57.70 121.80,56.70 C118.47,55.70 111.80,55.03 109.80,54.70" fill="none" stroke="#262626" stroke-width="1.0" stroke-linejoin="round"/><path d="M15.10,51.60 C15.95,51.77 17.67,52.60 20.20,52.60 C22.73,52.60 25.90,51.77 30.30,51.60 C34.70,51.43 41.85,51.77 46.60,51.60 C51.35,51.43 55.07,50.43 58.80,50.60 C62.53,50.77 65.95,51.75 69.00,52.60 C72.05,53.45 74.38,54.35 77.10,55.70 C79.82,57.05 82.92,59.18 85.30,60.70 C87.68,62.22 89.37,63.77 91.40,64.80 C93.43,65.83 96.48,66.55 97.50,66.90" fill="none" stroke="#262626" stroke-width="1.0" stroke-linejoin="round"/><path d="M14.00,66.90 C15.03,67.40 17.82,70.25 20.20,69.90 C22.58,69.55 25.25,65.98 28.30,64.80 C31.35,63.62 34.43,63.48 38.50,62.80 C42.57,62.12 47.28,61.05 52.70,60.70 C58.12,60.35 66.25,60.18 71.00,60.70 C75.75,61.22 78.48,62.43 81.20,63.80 C83.92,65.17 85.95,67.37 87.30,68.90 C88.65,70.43 89.13,71.30 89.30,73.00 C89.47,74.70 88.47,78.08 88.30,79.10" fill="none" stroke="#262626" stroke-width="1.0" stroke-linejoin="round"/><path d="M206.80,30.20 C206.80,29.27 208.30,27.95 209.80,26.70 C211.30,25.45 213.80,24.15 215.80,22.70 C217.80,21.25 219.92,19.47 221.80,18.00 C223.68,16.53 225.60,15.03 227.10,13.90 C228.60,12.77 229.35,11.57 230.80,11.20 C232.25,10.83 234.13,11.53 235.80,11.70 C237.47,11.87 239.20,12.00 240.80,12.20 C242.40,12.40 244.47,12.43 245.40,12.90 C246.33,13.37 245.88,13.98 246.40,15.00 C246.92,16.02 247.82,17.48 248.50,19.00 C249.18,20.52 250.25,22.40 250.50,24.10 C250.75,25.80 250.52,27.67 250.00,29.20 C249.48,30.73 249.02,32.37 247.40,33.30 C245.78,34.23 243.18,34.63 240.30,34.80 C237.42,34.97 233.48,34.63 230.10,34.30 C226.72,33.97 223.38,33.13 220.00,32.80 C216.62,32.47 212.00,32.73 209.80,32.30 C207.60,31.87 206.80,31.13 206.80,30.20Z" fill="none" stroke="#262626" stroke-width="1.0" stroke-linejoin="round"/><path d="M227.60,16.50 C228.83,15.38 230.27,14.83 231.70,15.00 C233.13,15.17 234.93,16.67 236.20,17.50 C237.47,18.33 238.87,19.07 239.30,20.00 C239.73,20.93 239.48,22.08 238.80,23.10 C238.12,24.12 236.65,25.42 235.20,26.10 C233.75,26.78 231.78,27.10 230.10,27.20 C228.42,27.30 226.07,27.62 225.10,26.70 C224.13,25.78 223.88,23.40 224.30,21.70 C224.72,20.00 226.37,17.62 227.60,16.50Z" fill="none" stroke="#262626" stroke-width="1.0" stroke-linejoin="round"/><path d="M244.40,25.20 C245.07,24.95 246.10,25.95 246.40,26.70 C246.70,27.45 246.57,29.10 246.20,29.70 C245.83,30.30 244.83,30.55 244.20,30.30 C243.57,30.05 242.37,29.05 242.40,28.20 C242.43,27.35 243.73,25.45 244.40,25.20Z" fill="none" stroke="#262626" stroke-width="1.0" stroke-linejoin="round"/><path d="M278.10,31.20 C279.63,31.70 283.73,33.70 287.30,34.20 C290.87,34.70 295.68,34.70 299.50,34.20 C303.32,33.70 307.82,32.32 310.20,31.20 C312.58,30.08 312.70,27.83 313.80,27.50 C314.90,27.17 316.13,28.25 316.80,29.20 C317.47,30.15 317.13,32.03 317.80,33.20 C318.47,34.37 319.78,35.65 320.80,36.20 C321.82,36.75 321.85,36.32 323.90,36.50 C325.95,36.68 331.07,37.30 333.10,37.30 C335.13,37.30 335.60,36.63 336.10,36.50" fill="none" stroke="#262626" stroke-width="1.0" stroke-linejoin="round"/><path d="M291.80,67.00 C292.57,66.50 295.63,65.52 296.40,64.00 C297.17,62.48 295.38,59.43 296.40,57.90 C297.42,56.37 299.70,56.08 302.50,54.80 C305.30,53.52 309.38,51.60 313.20,50.20 C317.02,48.80 322.60,46.90 325.40,46.40 C328.20,45.90 327.70,46.30 330.00,47.20 C332.30,48.10 337.67,51.03 339.20,51.80" fill="none" stroke="#262626" stroke-width="1.0" stroke-linejoin="round"/><text x="37.8" y="10.8" font-size="5.2" text-anchor="middle" fill="#333">28°C</text><text x="62.8" y="14.8" font-size="5.2" text-anchor="middle" fill="#333">29°C</text><text x="88.8" y="15.3" font-size="5.2" text-anchor="middle" fill="#333">29°C</text><text x="102.8" y="14.3" font-size="5.2" text-anchor="middle" fill="#333">28°C</text><text x="90.8" y="24.8" font-size="5.2" text-anchor="middle" fill="#333">29°C</text><text x="62.8" y="52.3" font-size="5.2" text-anchor="middle" fill="#333">29°C</text><text x="45.8" y="64.8" font-size="5.2" text-anchor="middle" fill="#333">28°C</text><text x="137.8" y="32.3" font-size="5.2" text-anchor="middle" fill="#333">29°C</text><text x="179.8" y="51.3" font-size="5.2" text-anchor="middle" fill="#333">29°C</text><text x="172.8" y="71.3" font-size="5.2" text-anchor="middle" fill="#333">28°C</text><text x="136.8" y="61.8" font-size="5.2" text-anchor="middle" fill="#333">29°C</text><text x="129.8" y="67.8" font-size="5.2" text-anchor="middle" fill="#333">28°C</text><text x="225.8" y="28.3" font-size="5.2" text-anchor="middle" fill="#333">28°C</text><text x="299.8" y="35.6" font-size="5.2" text-anchor="middle" fill="#333">28°C</text><text x="298.3" y="57.8" font-size="5.2" text-anchor="middle" fill="#333">28°C</text><text x="323.8" y="38.8" font-size="5.2" text-anchor="middle" fill="#333">28°C</text>
</g>

<rect x="0" y="0" width="351.60" height="79.2" fill="none" stroke="#333" stroke-width="1"/>
<line x1="-2.5" y1="16.28" x2="0" y2="16.28" stroke="#333" stroke-width="0.8"/>
<line x1="351.60" y1="16.28" x2="354.10" y2="16.28" stroke="#333" stroke-width="0.8"/>
<line x1="-2.5" y1="63.02" x2="0" y2="63.02" stroke="#333" stroke-width="0.8"/>
<line x1="351.60" y1="63.02" x2="354.10" y2="63.02" stroke="#333" stroke-width="0.8"/>
<line x1="16.40" y1="79.2" x2="16.40" y2="81.7" stroke="#333" stroke-width="0.8"/>
<line x1="16.40" y1="0" x2="16.40" y2="-2.5" stroke="#333" stroke-width="0.8"/>
<line x1="94.32" y1="79.2" x2="94.32" y2="81.7" stroke="#333" stroke-width="0.8"/>
<line x1="94.32" y1="0" x2="94.32" y2="-2.5" stroke="#333" stroke-width="0.8"/>
<line x1="211.20" y1="79.2" x2="211.20" y2="81.7" stroke="#333" stroke-width="0.8"/>
<line x1="211.20" y1="0" x2="211.20" y2="-2.5" stroke="#333" stroke-width="0.8"/>
<line x1="328.08" y1="79.2" x2="328.08" y2="81.7" stroke="#333" stroke-width="0.8"/>
<line x1="328.08" y1="0" x2="328.08" y2="-2.5" stroke="#333" stroke-width="0.8"/>
</g>
<text x="8.5" y="217.18" font-size="14" fill="#111" textLength="29.1" lengthAdjust="spacingAndGlyphs">15°N</text>
<text x="11.2" y="263.92" font-size="14" fill="#111" textLength="26.4" lengthAdjust="spacingAndGlyphs">15°S</text>
<g transform="translate(40.2,280.3)">
<clipPath id="c3"><rect x="0" y="0" width="351.60" height="79.2"/></clipPath>
<g clip-path="url(#c3)">
<rect x="0" y="0" width="351.60" height="79.2" fill="#ffe4b5"/>
<g filter="url(#blur)"><rect x="-9.77" y="-7.92" width="10.07" height="8.22" fill="#d4f0f0"/><rect x="0.00" y="-7.92" width="10.07" height="8.22" fill="#d4f0f0"/><rect x="9.77" y="-7.92" width="10.07" height="8.22" fill="#d4f0f0"/><rect x="19.53" y="-7.92" width="10.07" height="8.22" fill="#d4f0f0"/><rect x="29.30" y="-7.92" width="10.07" height="8.22" fill="#add8e6"/><rect x="39.07" y="-7.92" width="10.07" height="8.22" fill="#e6e6fa"/><rect x="48.83" y="-7.92" width="10.07" height="8.22" fill="#e6e6fa"/><rect x="58.60" y="-7.92" width="10.07" height="8.22" fill="#e6e6fa"/><rect x="68.37" y="-7.92" width="10.07" height="8.22" fill="#e6e6fa"/><rect x="78.13" y="-7.92" width="10.07" height="8.22" fill="#d4f0f0"/><rect x="87.90" y="-7.92" width="10.07" height="8.22" fill="#e6e6fa"/><rect x="97.67" y="-7.92" width="10.07" height="8.22" fill="#e6e6fa"/><rect x="107.43" y="-7.92" width="10.07" height="8.22" fill="#f2e5d8"/><rect x="117.20" y="-7.92" width="10.07" height="8.22" fill="#e6e6fa"/><rect x="126.97" y="-7.92" width="10.07" height="8.22" fill="#e6e6fa"/><rect x="136.73" y="-7.92" width="10.07" height="8.22" fill="#d4f0f0"/><rect x="146.50" y="-7.92" width="10.07" height="8.22" fill="#add8e6"/><rect x="156.27" y="-7.92" width="10.07" height="8.22" fill="#add8e6"/><rect x="166.03" y="-7.92" width="10.07" height="8.22" fill="#add8e6"/><rect x="175.80" y="-7.92" width="10.07" height="8.22" fill="#add8e6"/><rect x="185.57" y="-7.92" width="10.07" height="8.22" fill="#add8e6"/><rect x="195.33" y="-7.92" width="10.07" height="8.22" fill="#add8e6"/><rect x="205.10" y="-7.92" width="10.07" height="8.22" fill="#add8e6"/><rect x="214.87" y="-7.92" width="10.07" height="8.22" fill="#d4f0f0"/><rect x="224.63" y="-7.92" width="10.07" height="8.22" fill="#e6e6fa"/><rect x="234.40" y="-7.92" width="10.07" height="8.22" fill="#e6e6fa"/><rect x="244.17" y="-7.92" width="10.07" height="8.22" fill="#ffe4b5"/><rect x="253.93" y="-7.92" width="10.07" height="8.22" fill="#fac48a"/><rect x="263.70" y="-7.92" width="10.07" height="8.22" fill="#e6e6fa"/><rect x="273.47" y="-7.92" width="10.07" height="8.22" fill="#d4f0f0"/><rect x="283.23" y="-7.92" width="10.07" height="8.22" fill="#d4f0f0"/><rect x="293.00" y="-7.92" width="10.07" height="8.22" fill="#add8e6"/><rect x="302.77" y="-7.92" width="10.07" height="8.22" fill="#add8e6"/><rect x="312.53" y="-7.92" width="10.07" height="8.22" fill="#add8e6"/><rect x="322.30" y="-7.92" width="10.07" height="8.22" fill="#add8e6"/><rect x="332.07" y="-7.92" width="10.07" height="8.22" fill="#add8e6"/><rect x="341.83" y="-7.92" width="10.07" height="8.22" fill="#add8e6"/><rect x="351.60" y="-7.92" width="10.07" height="8.22" fill="#add8e6"/><rect x="-9.77" y="0.00" width="10.07" height="8.22" fill="#d4f0f0"/><rect x="0.00" y="0.00" width="10.07" height="8.22" fill="#d4f0f0"/><rect x="9.77" y="0.00" width="10.07" height="8.22" fill="#d4f0f0"/><rect x="19.53" y="0.00" width="10.07" height="8.22" fill="#d4f0f0"/><rect x="29.30" y="0.00" width="10.07" height="8.22" fill="#add8e6"/><rect x="39.07" y="0.00" width="10.07" height="8.22" fill="#e6e6fa"/><rect x="48.83" y="0.00" width="10.07" height="8.22" fill="#e6e6fa"/><rect x="58.60" y="0.00" width="10.07" height="8.22" fill="#e6e6fa"/><rect x="68.37" y="0.00" width="10.07" height="8.22" fill="#e6e6fa"/><rect x="78.13" y="0.00" width="10.07" height="8.22" fill="#d4f0f0"/><rect x="87.90" y="0.00" width="10.07" height="8.22" fill="#e6e6fa"/><rect x="97.67" y="0.00" width="10.07" height="8.22" fill="#e6e6fa"/><rect x="107.43" y="0.00" width="10.07" height="8.22" fill="#f2e5d8"/><rect x="117.20" y="0.00" width="10.07" height="8.22" fill="#e6e6fa"/><rect x="126.97" y="0.00" width="10.07" height="8.22" fill="#e6e6fa"/><rect x="136.73" y="0.00" width="10.07" height="8.22" fill="#d4f0f0"/><rect x="146.50" y="0.00" width="10.07" height="8.22" fill="#add8e6"/><rect x="156.27" y="0.00" width="10.07" height="8.22" fill="#add8e6"/><rect x="166.03" y="0.00" width="10.07" height="8.22" fill="#add8e6"/><rect x="175.80" y="0.00" width="10.07" height="8.22" fill="#add8e6"/><rect x="185.57" y="0.00" width="10.07" height="8.22" fill="#add8e6"/><rect x="195.33" y="0.00" width="10.07" height="8.22" fill="#add8e6"/><rect x="205.10" y="0.00" width="10.07" height="8.22" fill="#add8e6"/><rect x="214.87" y="0.00" width="10.07" height="8.22" fill="#d4f0f0"/><rect x="224.63" y="0.00" width="10.07" height="8.22" fill="#e6e6fa"/><rect x="234.40" y="0.00" width="10.07" height="8.22" fill="#e6e6fa"/><rect x="244.17" y="0.00" width="10.07" height="8.22" fill="#ffe4b5"/><rect x="253.93" y="0.00" width="10.07" height="8.22" fill="#fac48a"/><rect x="263.70" y="0.00" width="10.07" height="8.22" fill="#e6e6fa"/><rect x="273.47" y="0.00" width="10.07" height="8.22" fill="#d4f0f0"/><rect x="283.23" y="0.00" width="10.07" height="8.22" fill="#d4f0f0"/><rect x="293.00" y="0.00" width="10.07" height="8.22" fill="#add8e6"/><rect x="302.77" y="0.00" width="10.07" height="8.22" fill="#add8e6"/><rect x="312.53" y="0.00" width="10.07" height="8.22" fill="#add8e6"/><rect x="322.30" y="0.00" width="10.07" height="8.22" fill="#add8e6"/><rect x="332.07" y="0.00" width="10.07" height="8.22" fill="#add8e6"/><rect x="341.83" y="0.00" width="10.07" height="8.22" fill="#add8e6"/><rect x="351.60" y="0.00" width="10.07" height="8.22" fill="#add8e6"/><rect x="-9.77" y="7.92" width="10.07" height="8.22" fill="#d4f0f0"/><rect x="0.00" y="7.92" width="10.07" height="8.22" fill="#d4f0f0"/><rect x="9.77" y="7.92" width="10.07" height="8.22" fill="#d4f0f0"/><rect x="19.53" y="7.92" width="10.07" height="8.22" fill="#ddebf5"/><rect x="29.30" y="7.92" width="10.07" height="8.22" fill="#add8e6"/><rect x="39.07" y="7.92" width="10.07" height="8.22" fill="#e6e6fa"/><rect x="48.83" y="7.92" width="10.07" height="8.22" fill="#e6e6fa"/><rect x="58.60" y="7.92" width="10.07" height="8.22" fill="#e6e6fa"/><rect x="68.37" y="7.92" width="10.07" height="8.22" fill="#e6e6fa"/><rect x="78.13" y="7.92" width="10.07" height="8.22" fill="#e6e6fa"/><rect x="87.90" y="7.92" width="10.07" height="8.22" fill="#f2e5d8"/><rect x="97.67" y="7.92" width="10.07" height="8.22" fill="#ffe4b5"/><rect x="107.43" y="7.92" width="10.07" height="8.22" fill="#fac48a"/><rect x="117.20" y="7.92" width="10.07" height="8.22" fill="#e6e6fa"/><rect x="126.97" y="7.92" width="10.07" height="8.22" fill="#f2e5d8"/><rect x="136.73" y="7.92" width="10.07" height="8.22" fill="#d4f0f0"/><rect x="146.50" y="7.92" width="10.07" height="8.22" fill="#d4f0f0"/><rect x="156.27" y="7.92" width="10.07" height="8.22" fill="#add8e6"/><rect x="166.03" y="7.92" width="10.07" height="8.22" fill="#add8e6"/><rect x="175.80" y="7.92" width="10.07" height="8.22" fill="#add8e6"/><rect x="185.57" y="7.92" width="10.07" height="8.22" fill="#add8e6"/><rect x="195.33" y="7.92" width="10.07" height="8.22" fill="#add8e6"/><rect x="205.10" y="7.92" width="10.07" height="8.22" fill="#d4f0f0"/><rect x="214.87" y="7.92" width="10.07" height="8.22" fill="#d4f0f0"/><rect x="224.63" y="7.92" width="10.07" height="8.22" fill="#e6e6fa"/><rect x="234.40" y="7.92" width="10.07" height="8.22" fill="#e6e6fa"/><rect x="244.17" y="7.92" width="10.07" height="8.22" fill="#ffe4b5"/><rect x="253.93" y="7.92" width="10.07" height="8.22" fill="#fac48a"/><rect x="263.70" y="7.92" width="10.07" height="8.22" fill="#e6e6fa"/><rect x="273.47" y="7.92" width="10.07" height="8.22" fill="#e6e6fa"/><rect x="283.23" y="7.92" width="10.07" height="8.22" fill="#d4f0f0"/><rect x="293.00" y="7.92" width="10.07" height="8.22" fill="#add8e6"/><rect x="302.77" y="7.92" width="10.07" height="8.22" fill="#add8e6"/><rect x="312.53" y="7.92" width="10.07" height="8.22" fill="#d4f0f0"/><rect x="322.30" y="7.92" width="10.07" height="8.22" fill="#d4f0f0"/><rect x="332.07" y="7.92" width="10.07" height="8.22" fill="#d4f0f0"/><rect x="341.83" y="7.92" width="10.07" height="8.22" fill="#d4f0f0"/><rect x="351.60" y="7.92" width="10.07" height="8.22" fill="#d4f0f0"/><rect x="-9.77" y="15.84" width="10.07" height="8.22" fill="#d4f0f0"/><rect x="0.00" y="15.84" width="10.07" height="8.22" fill="#d4f0f0"/><rect x="9.77" y="15.84" width="10.07" height="8.22" fill="#d4f0f0"/><rect x="19.53" y="15.84" width="10.07" height="8.22" fill="#e6e6fa"/><rect x="29.30" y="15.84" width="10.07" height="8.22" fill="#add8e6"/><rect x="39.07" y="15.84" width="10.07" height="8.22" fill="#e6e6fa"/><rect x="48.83" y="15.84" width="10.07" height="8.22" fill="#e6e6fa"/><rect x="58.60" y="15.84" width="10.07" height="8.22" fill="#e6e6fa"/><rect x="68.37" y="15.84" width="10.07" height="8.22" fill="#e6e6fa"/><rect x="78.13" y="15.84" width="10.07" height="8.22" fill="#e6e6fa"/><rect x="87.90" y="15.84" width="10.07" height="8.22" fill="#ffe4b5"/><rect x="97.67" y="15.84" width="10.07" height="8.22" fill="#fac48a"/><rect x="107.43" y="15.84" width="10.07" height="8.22" fill="#fac48a"/><rect x="117.20" y="15.84" width="10.07" height="8.22" fill="#fac48a"/><rect x="126.97" y="15.84" width="10.07" height="8.22" fill="#fac48a"/><rect x="136.73" y="15.84" width="10.07" height="8.22" fill="#ffe4b5"/><rect x="146.50" y="15.84" width="10.07" height="8.22" fill="#fac48a"/><rect x="156.27" y="15.84" width="10.07" height="8.22" fill="#ffe4b5"/><rect x="166.03" y="15.84" width="10.07" height="8.22" fill="#ffe4b5"/><rect x="175.80" y="15.84" width="10.07" height="8.22" fill="#d4f0f0"/><rect x="185.57" y="15.84" width="10.07" height="8.22" fill="#d4f0f0"/><rect x="195.33" y="15.84" width="10.07" height="8.22" fill="#d4f0f0"/><rect x="205.10" y="15.84" width="10.07" height="8.22" fill="#d4f0f0"/><rect x="214.87" y="15.84" width="10.07" height="8.22" fill="#d4f0f0"/><rect x="224.63" y="15.84" width="10.07" height="8.22" fill="#d4f0f0"/><rect x="234.40" y="15.84" width="10.07" height="8.22" fill="#e6e6fa"/><rect x="244.17" y="15.84" width="10.07" height="8.22" fill="#ffe4b5"/><rect x="253.93" y="15.84" width="10.07" height="8.22" fill="#ffe4b5"/><rect x="263.70" y="15.84" width="10.07" height="8.22" fill="#ffe4b5"/><rect x="273.47" y="15.84" width="10.07" height="8.22" fill="#e6e6fa"/><rect x="283.23" y="15.84" width="10.07" height="8.22" fill="#e6e6fa"/><rect x="293.00" y="15.84" width="10.07" height="8.22" fill="#d4f0f0"/><rect x="302.77" y="15.84" width="10.07" height="8.22" fill="#d4f0f0"/><rect x="312.53" y="15.84" width="10.07" height="8.22" fill="#d4f0f0"/><rect x="322.30" y="15.84" width="10.07" height="8.22" fill="#d4f0f0"/><rect x="332.07" y="15.84" width="10.07" height="8.22" fill="#d4f0f0"/><rect x="341.83" y="15.84" width="10.07" height="8.22" fill="#d4f0f0"/><rect x="351.60" y="15.84" width="10.07" height="8.22" fill="#d4f0f0"/><rect x="-9.77" y="23.76" width="10.07" height="8.22" fill="#e6e6fa"/><rect x="0.00" y="23.76" width="10.07" height="8.22" fill="#e6e6fa"/><rect x="9.77" y="23.76" width="10.07" height="8.22" fill="#e6e6fa"/><rect x="19.53" y="23.76" width="10.07" height="8.22" fill="#e6e6fa"/><rect x="29.30" y="23.76" width="10.07" height="8.22" fill="#ddebf5"/><rect x="39.07" y="23.76" width="10.07" height="8.22" fill="#ffe4b5"/><rect x="48.83" y="23.76" width="10.07" height="8.22" fill="#e6e6fa"/><rect x="58.60" y="23.76" width="10.07" height="8.22" fill="#e6e6fa"/><rect x="68.37" y="23.76" width="10.07" height="8.22" fill="#e6e6fa"/><rect x="78.13" y="23.76" width="10.07" height="8.22" fill="#f2e5d8"/><rect x="87.90" y="23.76" width="10.07" height="8.22" fill="#fac48a"/><rect x="97.67" y="23.76" width="10.07" height="8.22" fill="#fac48a"/><rect x="107.43" y="23.76" width="10.07" height="8.22" fill="#f4a460"/><rect x="117.20" y="23.76" width="10.07" height="8.22" fill="#f4a460"/><rect x="126.97" y="23.76" width="10.07" height="8.22" fill="#f4a460"/><rect x="136.73" y="23.76" width="10.07" height="8.22" fill="#f4a460"/><rect x="146.50" y="23.76" width="10.07" height="8.22" fill="#fac48a"/><rect x="156.27" y="23.76" width="10.07" height="8.22" fill="#ffe4b5"/><rect x="166.03" y="23.76" width="10.07" height="8.22" fill="#ffe4b5"/><rect x="175.80" y="23.76" width="10.07" height="8.22" fill="#e6e6fa"/><rect x="185.57" y="23.76" width="10.07" height="8.22" fill="#d4f0f0"/><rect x="195.33" y="23.76" width="10.07" height="8.22" fill="#d4f0f0"/><rect x="205.10" y="23.76" width="10.07" height="8.22" fill="#d4f0f0"/><rect x="214.87" y="23.76" width="10.07" height="8.22" fill="#d4f0f0"/><rect x="224.63" y="23.76" width="10.07" height="8.22" fill="#d4f0f0"/><rect x="234.40" y="23.76" width="10.07" height="8.22" fill="#d4f0f0"/><rect x="244.17" y="23.76" width="10.07" height="8.22" fill="#d4f0f0"/><rect x="253.93" y="23.76" width="10.07" height="8.22" fill="#ffe4b5"/><rect x="263.70" y="23.76" width="10.07" height="8.22" fill="#ffe4b5"/><rect x="273.47" y="23.76" width="10.07" height="8.22" fill="#e6e6fa"/><rect x="283.23" y="23.76" width="10.07" height="8.22" fill="#e6e6fa"/><rect x="293.00" y="23.76" width="10.07" height="8.22" fill="#e6e6fa"/><rect x="302.77" y="23.76" width="10.07" height="8.22" fill="#e6e6fa"/><rect x="312.53" y="23.76" width="10.07" height="8.22" fill="#e6e6fa"/><rect x="322.30" y="23.76" width="10.07" height="8.22" fill="#f2e5d8"/><rect x="332.07" y="23.76" width="10.07" height="8.22" fill="#f2e5d8"/><rect x="341.83" y="23.76" width="10.07" height="8.22" fill="#f2e5d8"/><rect x="351.60" y="23.76" width="10.07" height="8.22" fill="#f2e5d8"/><rect x="-9.77" y="31.68" width="10.07" height="8.22" fill="#d4f0f0"/><rect x="0.00" y="31.68" width="10.07" height="8.22" fill="#d4f0f0"/><rect x="9.77" y="31.68" width="10.07" height="8.22" fill="#d4f0f0"/><rect x="19.53" y="31.68" width="10.07" height="8.22" fill="#e6e6fa"/><rect x="29.30" y="31.68" width="10.07" height="8.22" fill="#ffe4b5"/><rect x="39.07" y="31.68" width="10.07" height="8.22" fill="#ffe4b5"/><rect x="48.83" y="31.68" width="10.07" height="8.22" fill="#ffe4b5"/><rect x="58.60" y="31.68" width="10.07" height="8.22" fill="#ffe4b5"/><rect x="68.37" y="31.68" width="10.07" height="8.22" fill="#e6e6fa"/><rect x="78.13" y="31.68" width="10.07" height="8.22" fill="#f2e5d8"/><rect x="87.90" y="31.68" width="10.07" height="8.22" fill="#fac48a"/><rect x="97.67" y="31.68" width="10.07" height="8.22" fill="#f4a460"/><rect x="107.43" y="31.68" width="10.07" height="8.22" fill="#f29230"/><rect x="117.20" y="31.68" width="10.07" height="8.22" fill="#f4a460"/><rect x="126.97" y="31.68" width="10.07" height="8.22" fill="#f08000"/><rect x="136.73" y="31.68" width="10.07" height="8.22" fill="#f08000"/><rect x="146.50" y="31.68" width="10.07" height="8.22" fill="#f29230"/><rect x="156.27" y="31.68" width="10.07" height="8.22" fill="#f4a460"/><rect x="166.03" y="31.68" width="10.07" height="8.22" fill="#ffe4b5"/><rect x="175.80" y="31.68" width="10.07" height="8.22" fill="#e6e6fa"/><rect x="185.57" y="31.68" width="10.07" height="8.22" fill="#e6e6fa"/><rect x="195.33" y="31.68" width="10.07" height="8.22" fill="#add8e6"/><rect x="205.10" y="31.68" width="10.07" height="8.22" fill="#add8e6"/><rect x="214.87" y="31.68" width="10.07" height="8.22" fill="#add8e6"/><rect x="224.63" y="31.68" width="10.07" height="8.22" fill="#add8e6"/><rect x="234.40" y="31.68" width="10.07" height="8.22" fill="#add8e6"/><rect x="244.17" y="31.68" width="10.07" height="8.22" fill="#add8e6"/><rect x="253.93" y="31.68" width="10.07" height="8.22" fill="#add8e6"/><rect x="263.70" y="31.68" width="10.07" height="8.22" fill="#d4f0f0"/><rect x="273.47" y="31.68" width="10.07" height="8.22" fill="#d4f0f0"/><rect x="283.23" y="31.68" width="10.07" height="8.22" fill="#d4f0f0"/><rect x="293.00" y="31.68" width="10.07" height="8.22" fill="#d4f0f0"/><rect x="302.77" y="31.68" width="10.07" height="8.22" fill="#d4f0f0"/><rect x="312.53" y="31.68" width="10.07" height="8.22" fill="#d4f0f0"/><rect x="322.30" y="31.68" width="10.07" height="8.22" fill="#d4f0f0"/><rect x="332.07" y="31.68" width="10.07" height="8.22" fill="#d4f0f0"/><rect x="341.83" y="31.68" width="10.07" height="8.22" fill="#d4f0f0"/><rect x="351.60" y="31.68" width="10.07" height="8.22" fill="#d4f0f0"/><rect x="-9.77" y="39.60" width="10.07" height="8.22" fill="#d4f0f0"/><rect x="0.00" y="39.60" width="10.07" height="8.22" fill="#d4f0f0"/><rect x="9.77" y="39.60" width="10.07" height="8.22" fill="#d4f0f0"/><rect x="19.53" y="39.60" width="10.07" height="8.22" fill="#e6e6fa"/><rect x="29.30" y="39.60" width="10.07" height="8.22" fill="#ffe4b5"/><rect x="39.07" y="39.60" width="10.07" height="8.22" fill="#ffe4b5"/><rect x="48.83" y="39.60" width="10.07" height="8.22" fill="#ffe4b5"/><rect x="58.60" y="39.60" width="10.07" height="8.22" fill="#e6e6fa"/><rect x="68.37" y="39.60" width="10.07" height="8.22" fill="#add8e6"/><rect x="78.13" y="39.60" width="10.07" height="8.22" fill="#e6e6fa"/><rect x="87.90" y="39.60" width="10.07" height="8.22" fill="#f4a460"/><rect x="97.67" y="39.60" width="10.07" height="8.22" fill="#f29230"/><rect x="107.43" y="39.60" width="10.07" height="8.22" fill="#f4a460"/><rect x="117.20" y="39.60" width="10.07" height="8.22" fill="#f08000"/><rect x="126.97" y="39.60" width="10.07" height="8.22" fill="#dc7114"/><rect x="136.73" y="39.60" width="10.07" height="8.22" fill="#f08000"/><rect x="146.50" y="39.60" width="10.07" height="8.22" fill="#f08000"/><rect x="156.27" y="39.60" width="10.07" height="8.22" fill="#f4a460"/><rect x="166.03" y="39.60" width="10.07" height="8.22" fill="#ffe4b5"/><rect x="175.80" y="39.60" width="10.07" height="8.22" fill="#e6e6fa"/><rect x="185.57" y="39.60" width="10.07" height="8.22" fill="#e6e6fa"/><rect x="195.33" y="39.60" width="10.07" height="8.22" fill="#add8e6"/><rect x="205.10" y="39.60" width="10.07" height="8.22" fill="#add8e6"/><rect x="214.87" y="39.60" width="10.07" height="8.22" fill="#add8e6"/><rect x="224.63" y="39.60" width="10.07" height="8.22" fill="#add8e6"/><rect x="234.40" y="39.60" width="10.07" height="8.22" fill="#add8e6"/><rect x="244.17" y="39.60" width="10.07" height="8.22" fill="#add8e6"/><rect x="253.93" y="39.60" width="10.07" height="8.22" fill="#add8e6"/><rect x="263.70" y="39.60" width="10.07" height="8.22" fill="#add8e6"/><rect x="273.47" y="39.60" width="10.07" height="8.22" fill="#add8e6"/><rect x="283.23" y="39.60" width="10.07" height="8.22" fill="#add8e6"/><rect x="293.00" y="39.60" width="10.07" height="8.22" fill="#5aa8f0"/><rect x="302.77" y="39.60" width="10.07" height="8.22" fill="#5aa8f0"/><rect x="312.53" y="39.60" width="10.07" height="8.22" fill="#5aa8f0"/><rect x="322.30" y="39.60" width="10.07" height="8.22" fill="#add8e6"/><rect x="332.07" y="39.60" width="10.07" height="8.22" fill="#d4f0f0"/><rect x="341.83" y="39.60" width="10.07" height="8.22" fill="#d4f0f0"/><rect x="351.60" y="39.60" width="10.07" height="8.22" fill="#d4f0f0"/><rect x="-9.77" y="47.52" width="10.07" height="8.22" fill="#d4f0f0"/><rect x="0.00" y="47.52" width="10.07" height="8.22" fill="#d4f0f0"/><rect x="9.77" y="47.52" width="10.07" height="8.22" fill="#d4f0f0"/><rect x="19.53" y="47.52" width="10.07" height="8.22" fill="#d4f0f0"/><rect x="29.30" y="47.52" width="10.07" height="8.22" fill="#e6e6fa"/><rect x="39.07" y="47.52" width="10.07" height="8.22" fill="#e6e6fa"/><rect x="48.83" y="47.52" width="10.07" height="8.22" fill="#e6e6fa"/><rect x="58.60" y="47.52" width="10.07" height="8.22" fill="#ddebf5"/><rect x="68.37" y="47.52" width="10.07" height="8.22" fill="#5aa8f0"/><rect x="78.13" y="47.52" width="10.07" height="8.22" fill="#add8e6"/><rect x="87.90" y="47.52" width="10.07" height="8.22" fill="#f4a460"/><rect x="97.67" y="47.52" width="10.07" height="8.22" fill="#f4a460"/><rect x="107.43" y="47.52" width="10.07" height="8.22" fill="#f4a460"/><rect x="117.20" y="47.52" width="10.07" height="8.22" fill="#f4a460"/><rect x="126.97" y="47.52" width="10.07" height="8.22" fill="#f08000"/><rect x="136.73" y="47.52" width="10.07" height="8.22" fill="#f08000"/><rect x="146.50" y="47.52" width="10.07" height="8.22" fill="#f29230"/><rect x="156.27" y="47.52" width="10.07" height="8.22" fill="#f4a460"/><rect x="166.03" y="47.52" width="10.07" height="8.22" fill="#ffe4b5"/><rect x="175.80" y="47.52" width="10.07" height="8.22" fill="#e6e6fa"/><rect x="185.57" y="47.52" width="10.07" height="8.22" fill="#e6e6fa"/><rect x="195.33" y="47.52" width="10.07" height="8.22" fill="#add8e6"/><rect x="205.10" y="47.52" width="10.07" height="8.22" fill="#add8e6"/><rect x="214.87" y="47.52" width="10.07" height="8.22" fill="#add8e6"/><rect x="224.63" y="47.52" width="10.07" height="8.22" fill="#add8e6"/><rect x="234.40" y="47.52" width="10.07" height="8.22" fill="#add8e6"/><rect x="244.17" y="47.52" width="10.07" height="8.22" fill="#add8e6"/><rect x="253.93" y="47.52" width="10.07" height="8.22" fill="#add8e6"/><rect x="263.70" y="47.52" width="10.07" height="8.22" fill="#add8e6"/><rect x="273.47" y="47.52" width="10.07" height="8.22" fill="#add8e6"/><rect x="283.23" y="47.52" width="10.07" height="8.22" fill="#add8e6"/><rect x="293.00" y="47.52" width="10.07" height="8.22" fill="#5aa8f0"/><rect x="302.77" y="47.52" width="10.07" height="8.22" fill="#5aa8f0"/><rect x="312.53" y="47.52" width="10.07" height="8.22" fill="#5aa8f0"/><rect x="322.30" y="47.52" width="10.07" height="8.22" fill="#add8e6"/><rect x="332.07" y="47.52" width="10.07" height="8.22" fill="#d4f0f0"/><rect x="341.83" y="47.52" width="10.07" height="8.22" fill="#d4f0f0"/><rect x="351.60" y="47.52" width="10.07" height="8.22" fill="#d4f0f0"/><rect x="-9.77" y="55.44" width="10.07" height="8.22" fill="#d4f0f0"/><rect x="0.00" y="55.44" width="10.07" height="8.22" fill="#d4f0f0"/><rect x="9.77" y="55.44" width="10.07" height="8.22" fill="#d4f0f0"/><rect x="19.53" y="55.44" width="10.07" height="8.22" fill="#d4f0f0"/><rect x="29.30" y="55.44" width="10.07" height="8.22" fill="#d4f0f0"/><rect x="39.07" y="55.44" width="10.07" height="8.22" fill="#d4f0f0"/><rect x="48.83" y="55.44" width="10.07" height="8.22" fill="#d4f0f0"/><rect x="58.60" y="55.44" width="10.07" height="8.22" fill="#d4f0f0"/><rect x="68.37" y="55.44" width="10.07" height="8.22" fill="#d4f0f0"/><rect x="78.13" y="55.44" width="10.07" height="8.22" fill="#e6e6fa"/><rect x="87.90" y="55.44" width="10.07" height="8.22" fill="#fac48a"/><rect x="97.67" y="55.44" width="10.07" height="8.22" fill="#fac48a"/><rect x="107.43" y="55.44" width="10.07" height="8.22" fill="#ffe4b5"/><rect x="117.20" y="55.44" width="10.07" height="8.22" fill="#ffe4b5"/><rect x="126.97" y="55.44" width="10.07" height="8.22" fill="#f4a460"/><rect x="136.73" y="55.44" width="10.07" height="8.22" fill="#f29230"/><rect x="146.50" y="55.44" width="10.07" height="8.22" fill="#f4a460"/><rect x="156.27" y="55.44" width="10.07" height="8.22" fill="#fac48a"/><rect x="166.03" y="55.44" width="10.07" height="8.22" fill="#ffe4b5"/><rect x="175.80" y="55.44" width="10.07" height="8.22" fill="#e6e6fa"/><rect x="185.57" y="55.44" width="10.07" height="8.22" fill="#e6e6fa"/><rect x="195.33" y="55.44" width="10.07" height="8.22" fill="#d4f0f0"/><rect x="205.10" y="55.44" width="10.07" height="8.22" fill="#add8e6"/><rect x="214.87" y="55.44" width="10.07" height="8.22" fill="#add8e6"/><rect x="224.63" y="55.44" width="10.07" height="8.22" fill="#d4f0f0"/><rect x="234.40" y="55.44" width="10.07" height="8.22" fill="#d4f0f0"/><rect x="244.17" y="55.44" width="10.07" height="8.22" fill="#d4f0f0"/><rect x="253.93" y="55.44" width="10.07" height="8.22" fill="#d4f0f0"/><rect x="263.70" y="55.44" width="10.07" height="8.22" fill="#d4f0f0"/><rect x="273.47" y="55.44" width="10.07" height="8.22" fill="#d4f0f0"/><rect x="283.23" y="55.44" width="10.07" height="8.22" fill="#d4f0f0"/><rect x="293.00" y="55.44" width="10.07" height="8.22" fill="#add8e6"/><rect x="302.77" y="55.44" width="10.07" height="8.22" fill="#add8e6"/><rect x="312.53" y="55.44" width="10.07" height="8.22" fill="#add8e6"/><rect x="322.30" y="55.44" width="10.07" height="8.22" fill="#add8e6"/><rect x="332.07" y="55.44" width="10.07" height="8.22" fill="#d4f0f0"/><rect x="341.83" y="55.44" width="10.07" height="8.22" fill="#d4f0f0"/><rect x="351.60" y="55.44" width="10.07" height="8.22" fill="#d4f0f0"/><rect x="-9.77" y="63.36" width="10.07" height="8.22" fill="#d4f0f0"/><rect x="0.00" y="63.36" width="10.07" height="8.22" fill="#d4f0f0"/><rect x="9.77" y="63.36" width="10.07" height="8.22" fill="#d4f0f0"/><rect x="19.53" y="63.36" width="10.07" height="8.22" fill="#d4f0f0"/><rect x="29.30" y="63.36" width="10.07" height="8.22" fill="#d4f0f0"/><rect x="39.07" y="63.36" width="10.07" height="8.22" fill="#d4f0f0"/><rect x="48.83" y="63.36" width="10.07" height="8.22" fill="#d4f0f0"/><rect x="58.60" y="63.36" width="10.07" height="8.22" fill="#e6e6fa"/><rect x="68.37" y="63.36" width="10.07" height="8.22" fill="#e6e6fa"/><rect x="78.13" y="63.36" width="10.07" height="8.22" fill="#e6e6fa"/><rect x="87.90" y="63.36" width="10.07" height="8.22" fill="#e6e6fa"/><rect x="97.67" y="63.36" width="10.07" height="8.22" fill="#e6e6fa"/><rect x="107.43" y="63.36" width="10.07" height="8.22" fill="#ffe4b5"/><rect x="117.20" y="63.36" width="10.07" height="8.22" fill="#ffe4b5"/><rect x="126.97" y="63.36" width="10.07" height="8.22" fill="#ffe4b5"/><rect x="136.73" y="63.36" width="10.07" height="8.22" fill="#ffe4b5"/><rect x="146.50" y="63.36" width="10.07" height="8.22" fill="#ffe4b5"/><rect x="156.27" y="63.36" width="10.07" height="8.22" fill="#ffe4b5"/><rect x="166.03" y="63.36" width="10.07" height="8.22" fill="#ffe4b5"/><rect x="175.80" y="63.36" width="10.07" height="8.22" fill="#ffe4b5"/><rect x="185.57" y="63.36" width="10.07" height="8.22" fill="#e6e6fa"/><rect x="195.33" y="63.36" width="10.07" height="8.22" fill="#e6e6fa"/><rect x="205.10" y="63.36" width="10.07" height="8.22" fill="#e6e6fa"/><rect x="214.87" y="63.36" width="10.07" height="8.22" fill="#e6e6fa"/><rect x="224.63" y="63.36" width="10.07" height="8.22" fill="#e6e6fa"/><rect x="234.40" y="63.36" width="10.07" height="8.22" fill="#f4a460"/><rect x="244.17" y="63.36" width="10.07" height="8.22" fill="#e6e6fa"/><rect x="253.93" y="63.36" width="10.07" height="8.22" fill="#e6e6fa"/><rect x="263.70" y="63.36" width="10.07" height="8.22" fill="#e6e6fa"/><rect x="273.47" y="63.36" width="10.07" height="8.22" fill="#e6e6fa"/><rect x="283.23" y="63.36" width="10.07" height="8.22" fill="#e6e6fa"/><rect x="293.00" y="63.36" width="10.07" height="8.22" fill="#e6e6fa"/><rect x="302.77" y="63.36" width="10.07" height="8.22" fill="#e6e6fa"/><rect x="312.53" y="63.36" width="10.07" height="8.22" fill="#e6e6fa"/><rect x="322.30" y="63.36" width="10.07" height="8.22" fill="#e6e6fa"/><rect x="332.07" y="63.36" width="10.07" height="8.22" fill="#e6e6fa"/><rect x="341.83" y="63.36" width="10.07" height="8.22" fill="#e6e6fa"/><rect x="351.60" y="63.36" width="10.07" height="8.22" fill="#e6e6fa"/><rect x="-9.77" y="71.28" width="10.07" height="8.22" fill="#ffe4b5"/><rect x="0.00" y="71.28" width="10.07" height="8.22" fill="#ffe4b5"/><rect x="9.77" y="71.28" width="10.07" height="8.22" fill="#ffe4b5"/><rect x="19.53" y="71.28" width="10.07" height="8.22" fill="#ffe4b5"/><rect x="29.30" y="71.28" width="10.07" height="8.22" fill="#ffe4b5"/><rect x="39.07" y="71.28" width="10.07" height="8.22" fill="#ffe4b5"/><rect x="48.83" y="71.28" width="10.07" height="8.22" fill="#f2e5d8"/><rect x="58.60" y="71.28" width="10.07" height="8.22" fill="#e6e6fa"/><rect x="68.37" y="71.28" width="10.07" height="8.22" fill="#e6e6fa"/><rect x="78.13" y="71.28" width="10.07" height="8.22" fill="#e6e6fa"/><rect x="87.90" y="71.28" width="10.07" height="8.22" fill="#e6e6fa"/><rect x="97.67" y="71.28" width="10.07" height="8.22" fill="#e6e6fa"/><rect x="107.43" y="71.28" width="10.07" height="8.22" fill="#f4a460"/><rect x="117.20" y="71.28" width="10.07" height="8.22" fill="#f4a460"/><rect x="126.97" y="71.28" width="10.07" height="8.22" fill="#fac48a"/><rect x="136.73" y="71.28" width="10.07" height="8.22" fill="#fac48a"/><rect x="146.50" y="71.28" width="10.07" height="8.22" fill="#ffe4b5"/><rect x="156.27" y="71.28" width="10.07" height="8.22" fill="#ffe4b5"/><rect x="166.03" y="71.28" width="10.07" height="8.22" fill="#ffe4b5"/><rect x="175.80" y="71.28" width="10.07" height="8.22" fill="#ffe4b5"/><rect x="185.57" y="71.28" width="10.07" height="8.22" fill="#ffe4b5"/><rect x="195.33" y="71.28" width="10.07" height="8.22" fill="#ffe4b5"/><rect x="205.10" y="71.28" width="10.07" height="8.22" fill="#ffe4b5"/><rect x="214.87" y="71.28" width="10.07" height="8.22" fill="#ffe4b5"/><rect x="224.63" y="71.28" width="10.07" height="8.22" fill="#f2e5d8"/><rect x="234.40" y="71.28" width="10.07" height="8.22" fill="#f4a460"/><rect x="244.17" y="71.28" width="10.07" height="8.22" fill="#f29230"/><rect x="253.93" y="71.28" width="10.07" height="8.22" fill="#f29230"/><rect x="263.70" y="71.28" width="10.07" height="8.22" fill="#f29230"/><rect x="273.47" y="71.28" width="10.07" height="8.22" fill="#e6e6fa"/><rect x="283.23" y="71.28" width="10.07" height="8.22" fill="#e6e6fa"/><rect x="293.00" y="71.28" width="10.07" height="8.22" fill="#e6e6fa"/><rect x="302.77" y="71.28" width="10.07" height="8.22" fill="#e6e6fa"/><rect x="312.53" y="71.28" width="10.07" height="8.22" fill="#e6e6fa"/><rect x="322.30" y="71.28" width="10.07" height="8.22" fill="#e6e6fa"/><rect x="332.07" y="71.28" width="10.07" height="8.22" fill="#fac48a"/><rect x="341.83" y="71.28" width="10.07" height="8.22" fill="#fac48a"/><rect x="351.60" y="71.28" width="10.07" height="8.22" fill="#fac48a"/><rect x="-9.77" y="79.20" width="10.07" height="8.22" fill="#ffe4b5"/><rect x="0.00" y="79.20" width="10.07" height="8.22" fill="#ffe4b5"/><rect x="9.77" y="79.20" width="10.07" height="8.22" fill="#ffe4b5"/><rect x="19.53" y="79.20" width="10.07" height="8.22" fill="#ffe4b5"/><rect x="29.30" y="79.20" width="10.07" height="8.22" fill="#ffe4b5"/><rect x="39.07" y="79.20" width="10.07" height="8.22" fill="#ffe4b5"/><rect x="48.83" y="79.20" width="10.07" height="8.22" fill="#f2e5d8"/><rect x="58.60" y="79.20" width="10.07" height="8.22" fill="#e6e6fa"/><rect x="68.37" y="79.20" width="10.07" height="8.22" fill="#e6e6fa"/><rect x="78.13" y="79.20" width="10.07" height="8.22" fill="#e6e6fa"/><rect x="87.90" y="79.20" width="10.07" height="8.22" fill="#e6e6fa"/><rect x="97.67" y="79.20" width="10.07" height="8.22" fill="#e6e6fa"/><rect x="107.43" y="79.20" width="10.07" height="8.22" fill="#f4a460"/><rect x="117.20" y="79.20" width="10.07" height="8.22" fill="#f4a460"/><rect x="126.97" y="79.20" width="10.07" height="8.22" fill="#fac48a"/><rect x="136.73" y="79.20" width="10.07" height="8.22" fill="#fac48a"/><rect x="146.50" y="79.20" width="10.07" height="8.22" fill="#ffe4b5"/><rect x="156.27" y="79.20" width="10.07" height="8.22" fill="#ffe4b5"/><rect x="166.03" y="79.20" width="10.07" height="8.22" fill="#ffe4b5"/><rect x="175.80" y="79.20" width="10.07" height="8.22" fill="#ffe4b5"/><rect x="185.57" y="79.20" width="10.07" height="8.22" fill="#ffe4b5"/><rect x="195.33" y="79.20" width="10.07" height="8.22" fill="#ffe4b5"/><rect x="205.10" y="79.20" width="10.07" height="8.22" fill="#ffe4b5"/><rect x="214.87" y="79.20" width="10.07" height="8.22" fill="#ffe4b5"/><rect x="224.63" y="79.20" width="10.07" height="8.22" fill="#f2e5d8"/><rect x="234.40" y="79.20" width="10.07" height="8.22" fill="#f4a460"/><rect x="244.17" y="79.20" width="10.07" height="8.22" fill="#f29230"/><rect x="253.93" y="79.20" width="10.07" height="8.22" fill="#f29230"/><rect x="263.70" y="79.20" width="10.07" height="8.22" fill="#f29230"/><rect x="273.47" y="79.20" width="10.07" height="8.22" fill="#e6e6fa"/><rect x="283.23" y="79.20" width="10.07" height="8.22" fill="#e6e6fa"/><rect x="293.00" y="79.20" width="10.07" height="8.22" fill="#e6e6fa"/><rect x="302.77" y="79.20" width="10.07" height="8.22" fill="#e6e6fa"/><rect x="312.53" y="79.20" width="10.07" height="8.22" fill="#e6e6fa"/><rect x="322.30" y="79.20" width="10.07" height="8.22" fill="#e6e6fa"/><rect x="332.07" y="79.20" width="10.07" height="8.22" fill="#fac48a"/><rect x="341.83" y="79.20" width="10.07" height="8.22" fill="#fac48a"/><rect x="351.60" y="79.20" width="10.07" height="8.22" fill="#fac48a"/></g><g filter="url(#blur2)"><path d="M287.10,45.70 C288.05,42.70 289.85,38.60 292.80,36.70 C295.75,34.80 299.97,34.67 304.80,34.30 C309.63,33.93 316.97,33.93 321.80,34.50 C326.63,35.07 331.30,35.50 333.80,37.70 C336.30,39.90 336.80,44.03 336.80,47.70 C336.80,51.37 336.30,56.70 333.80,59.70 C331.30,62.70 326.63,64.53 321.80,65.70 C316.97,66.87 309.80,67.20 304.80,66.70 C299.80,66.20 294.75,64.70 291.80,62.70 C288.85,60.70 287.88,57.53 287.10,54.70 C286.32,51.87 286.15,48.70 287.10,45.70Z" fill="#add8e6" fill-opacity="1"/><path d="M293.20,50.60 C294.22,48.73 296.25,45.10 299.30,43.40 C302.35,41.70 307.43,41.07 311.50,40.40 C315.57,39.73 320.30,38.38 323.70,39.40 C327.10,40.42 331.22,43.97 331.90,46.50 C332.58,49.03 329.83,52.73 327.80,54.60 C325.77,56.47 323.08,56.68 319.70,57.70 C316.32,58.72 311.23,60.53 307.50,60.70 C303.77,60.87 299.68,59.72 297.30,58.70 C294.92,57.68 293.88,55.95 293.20,54.60 C292.52,53.25 292.18,52.47 293.20,50.60Z" fill="#5ea6ec" fill-opacity="1"/><path d="M209.80,31.70 C211.47,26.78 217.47,28.70 221.80,28.20 C226.13,27.70 231.70,27.78 235.80,28.70 C239.90,29.62 244.73,30.53 246.40,33.70 C248.07,36.87 246.90,43.87 245.80,47.70 C244.70,51.53 243.13,54.87 239.80,56.70 C236.47,58.53 230.47,58.53 225.80,58.70 C221.13,58.87 214.47,62.20 211.80,57.70 C209.13,53.20 208.13,36.62 209.80,31.70Z" fill="#add8e6" fill-opacity="0.85"/><path d="M211.80,49.70 C212.30,48.45 214.13,46.87 215.80,46.20 C217.47,45.53 219.97,45.45 221.80,45.70 C223.63,45.95 225.75,46.87 226.80,47.70 C227.85,48.53 228.43,49.53 228.10,50.70 C227.77,51.87 226.52,53.87 224.80,54.70 C223.08,55.53 219.80,55.87 217.80,55.70 C215.80,55.53 213.80,54.70 212.80,53.70 C211.80,52.70 211.30,50.95 211.80,49.70Z" fill="#5ea6ec" fill-opacity="1"/><path d="M284.10,9.70 C284.93,7.70 286.85,4.03 289.80,2.70 C292.75,1.37 298.18,1.20 301.80,1.70 C305.42,2.20 310.17,3.37 311.50,5.70 C312.83,8.03 311.42,13.32 309.80,15.70 C308.18,18.08 305.13,19.50 301.80,20.00 C298.47,20.50 292.63,19.58 289.80,18.70 C286.97,17.82 285.75,16.20 284.80,14.70 C283.85,13.20 283.27,11.70 284.10,9.70Z" fill="#add8e6" fill-opacity="0.8"/><ellipse cx="305.40" cy="7.80" rx="1.3" ry="1.3" fill="#5ea6ec" fill-opacity="1"/></g>
<path d="M0.04,-1.64L11.04,-1.64L11.04,-0.08L12.02,3.04L13.28,5.38L13.67,6.93L14.94,11.61L15.91,15.50L17.86,18.62L19.52,20.49L19.42,21.58L20.78,23.45L23.22,22.36L25.17,22.05L27.31,21.27L27.11,23.45L26.63,25.63L25.65,28.75L24.19,31.86L22.24,36.54L20.30,38.87L18.35,41.21L17.37,42.77L16.59,44.33L15.91,47.13L15.43,49.78L15.91,52.12L16.40,56.01L16.89,59.13L16.98,63.02L15.43,66.14L13.28,68.47L11.53,70.81L11.82,73.93L12.02,77.04L9.58,80.94L0.04,80.94Z M12.99,-1.64L12.99,-0.08L13.96,2.26L15.43,5.38L16.89,9.27L17.86,12.39L18.83,15.50L19.61,19.86L21.27,19.55L24.19,17.84L26.14,16.28L28.09,14.72L31.01,12.39L32.47,10.83L33.74,9.27L34.71,6.93L35.69,4.60L34.71,3.04L32.96,2.26L32.37,0.86L32.28,-1.64Z M32.76,-1.64L33.25,-0.39L34.91,0.08L37.44,0.39L39.78,0.23L42.21,0.08L42.89,1.01L43.67,2.73L44.35,3.04L45.13,4.13L44.65,4.91L46.11,7.24L48.15,6.15L48.35,10.05L48.54,13.17L49.03,15.50L49.81,17.84L50.30,19.71L51.07,21.73L51.76,24.85L52.92,27.03L53.61,25.78L54.68,23.60L55.17,21.73L55.65,18.62L55.55,15.50L56.82,14.26L57.60,13.17L59.26,11.14L60.72,9.27L62.18,7.24L62.18,6.00L63.64,5.84L65.10,5.38L66.56,4.60L67.05,6.62L67.34,7.40L68.51,9.27L69.29,11.61L69.29,14.72L69.97,14.88L71.43,13.94L72.50,13.94L72.70,17.06L73.38,20.18L73.38,24.07L73.18,27.19L74.35,29.52L75.13,31.86L75.62,34.20L76.30,35.76L78.15,37.63L78.93,37.47L78.25,34.20L77.96,31.86L76.79,29.99L75.33,27.97L75.03,25.63L74.06,23.29L74.35,20.96L74.84,18.62L75.72,19.86L76.30,20.02L77.27,20.96L77.76,22.51L79.22,23.45L79.71,26.25L81.17,24.85L81.66,23.29L83.41,22.05L83.90,19.40L83.61,16.28L82.63,14.41L81.17,11.92L80.49,10.05L81.17,8.02L82.14,6.15L83.12,5.84L84.29,6.15L84.97,8.02L85.55,6.15L87.02,5.69L88.48,4.91L90.42,3.97L91.88,2.73L92.86,1.32L93.83,-0.08L94.32,-1.64Z M55.17,24.38L56.33,26.41L57.11,28.75L56.63,29.99L55.55,30.30L55.17,27.97Z M83.22,9.74L84.58,8.34L85.55,9.11L85.07,10.83L84.09,11.30L83.22,10.83Z M94.42,3.82L95.00,5.38L95.29,4.60L95.78,3.04L96.17,0.70L95.78,0.23L95.10,1.01L94.42,3.04Z M70.26,30.93L72.41,31.55L73.57,33.73L74.84,35.76L75.81,36.85L77.27,38.09L78.54,40.43L79.22,42.77L80.68,44.64L80.49,48.69L79.22,48.84L77.08,45.88L75.81,43.55L74.84,41.21L73.87,38.87L73.38,36.85L72.41,35.76L71.43,34.20Z M79.90,50.25L80.68,49.00L81.66,48.84L82.92,49.47L85.07,49.78L86.04,49.93L87.21,50.40L88.96,51.65L88.87,52.89L86.53,52.58L84.58,52.27L82.63,51.80L81.17,51.18Z M89.45,52.43L90.42,52.27L91.40,52.43L93.35,52.58L95.29,52.58L97.24,52.43L98.70,52.27L101.43,52.58L99.68,54.45L98.22,55.70L97.24,55.85L95.29,53.67L93.35,53.67L91.40,53.67L89.45,53.36Z M83.61,37.31L84.19,36.54L85.55,37.31L87.50,34.67L88.48,32.64L89.94,31.39L90.91,29.52L91.69,28.90L93.54,31.39L92.57,32.64L92.08,33.42L92.37,35.76L93.25,38.09L92.27,38.25L91.88,40.43L90.91,41.99L90.72,44.33L90.33,45.57L89.06,46.04L87.99,44.64L86.24,44.33L84.77,44.33L84.68,41.99L83.70,40.43Z M93.83,48.38L94.71,48.22L94.71,44.33L95.39,44.01L96.46,46.97L97.05,47.13L95.78,42.46L97.44,41.21L96.85,40.74L95.29,41.05L94.81,40.43L95.00,38.87L96.75,38.87L98.70,38.87L99.38,37.31L98.80,37.16L96.75,38.09L95.10,37.63L94.22,38.87L94.03,41.21L93.15,43.86L93.83,45.10Z M94.32,10.83L96.56,10.83L96.46,13.94L95.88,15.50L95.88,17.68L98.22,19.40L97.73,19.86L96.27,18.15L94.90,17.53L94.32,16.28L94.13,14.26L94.71,13.94Z M96.27,28.75L97.73,27.65L98.70,26.41L99.68,24.85L100.65,26.41L100.65,29.52L99.68,30.61L98.41,29.84L97.73,28.28L96.46,29.06Z M96.27,21.27L97.24,21.73L98.70,20.18L99.87,22.20L99.19,24.07L98.22,24.85L97.24,25.32L96.56,24.07L96.17,22.51Z M91.59,26.72L93.83,23.29L94.03,22.05L93.35,22.82L91.79,26.10Z M101.62,36.54L102.60,37.31L102.89,38.87L102.11,40.90L101.43,38.87Z M102.11,44.33L104.55,44.64L104.84,45.57L102.11,45.26Z M105.03,41.52L106.49,40.27L107.96,41.05L108.93,44.79L111.36,41.99L113.80,43.39L115.75,44.48L118.18,45.73L119.64,48.22L121.11,49.15L121.40,50.25L122.57,52.89L124.03,56.01L121.59,55.54L120.13,52.89L118.18,51.49L117.21,52.58L116.23,53.98L114.77,53.83L113.31,52.27L111.85,52.74L111.66,51.18L112.63,50.25L111.85,48.06L109.90,46.82L108.44,45.88L106.98,45.88L106.01,44.17L107.47,43.39L106.01,43.08Z M121.88,48.22L123.54,47.60L125.00,46.66L125.78,46.19L125.29,47.44L124.03,49.00L122.57,49.31Z M124.32,43.86L125.68,44.79L126.66,46.82L126.27,47.13L125.00,45.10Z M129.38,49.78L130.85,51.34L132.31,52.12L133.77,53.67L135.23,56.01L134.74,56.48L132.79,54.92L130.85,52.89L128.90,50.56Z M139.61,62.24L140.59,63.80L141.56,66.92L142.53,70.03L142.05,70.50L140.88,66.14L139.81,64.27Z M137.18,71.12L138.64,72.37L140.10,74.24L139.90,74.71L138.15,73.46L137.18,72.06Z M150.03,66.60L151.30,66.45L152.27,65.36L152.57,66.14L151.40,68.01L150.13,67.70Z M176.14,8.18L177.30,9.27L176.62,10.20L176.14,9.27Z M87.99,80.94L87.99,79.38L88.28,76.26L88.48,73.93L89.06,73.62L91.11,71.75L93.15,71.28L95.29,70.03L96.56,67.70L96.46,66.14L97.73,65.36L98.70,63.80L99.68,62.24L100.94,61.31L102.11,63.02L103.57,62.87L104.25,60.53L104.64,58.97L106.01,57.57L106.59,57.41L107.47,58.04L108.93,58.66L110.49,58.35L109.90,60.37L109.42,62.55L110.68,64.42L112.34,65.83L113.80,67.07L114.68,66.60L115.36,63.02L115.26,59.91L115.75,56.79L116.23,56.32L117.01,59.13L117.31,61.46L118.96,63.02L119.16,65.36L119.84,69.10L122.37,71.28L123.05,74.39L124.32,75.02L125.00,77.35L126.46,79.07L126.66,80.94Z M25.46,58.35L26.43,63.80L25.65,66.92L24.68,71.59L23.70,77.04L23.22,78.91L21.27,79.38L20.30,77.82L19.61,73.93L20.49,70.03L20.30,66.14L20.78,64.89L22.54,64.11L23.70,62.24L24.68,60.53Z M218.41,-1.64L218.89,-0.08L219.48,1.32L220.65,3.04L221.04,3.97L221.43,3.35L220.65,1.95L220.26,1.01L219.67,-0.08L219.38,-1.64Z M221.62,-1.64L222.40,0.39L224.35,3.35L225.32,6.15L225.52,8.02L226.30,9.74L227.76,11.30L229.22,12.39L231.17,13.79L233.60,15.03L235.55,14.57L237.01,15.50L238.47,17.06L239.93,17.99L242.37,19.09L242.86,19.55L243.63,20.96L244.61,22.51L244.51,23.76L245.29,24.54L246.46,26.41L247.72,27.03L249.19,27.81L250.16,28.28L250.65,25.94L251.62,26.72L252.59,27.97L252.69,29.52L252.79,33.42L251.33,36.85L250.16,38.40L249.67,41.21L249.19,43.08L249.87,44.95L248.99,46.66L248.99,48.69L250.35,50.56L251.62,53.67L252.89,57.57L253.86,60.68L255.03,63.80L257.66,65.83L259.61,68.47L259.71,71.59L259.80,75.49L259.41,80.94L280.84,80.94L281.33,79.38L282.79,77.04L284.74,75.95L287.17,75.49L288.15,73.15L289.12,70.34L289.80,66.92L290.09,63.02L290.58,59.91L291.85,57.57L293.02,55.23L293.99,53.36L293.99,50.56L293.80,48.22L292.04,47.44L290.58,45.26L289.12,44.01L287.17,44.01L284.74,43.55L283.28,41.21L280.84,41.21L279.38,39.65L279.38,36.85L278.41,33.42L277.43,32.64L275.97,30.93L274.51,30.46L272.07,30.30L270.61,27.19L269.15,26.41L268.18,24.38L267.20,23.14L265.74,23.14L263.80,23.14L261.36,23.14L259.90,20.64L258.44,22.51L258.73,20.96L257.95,20.96L256.98,22.05L255.52,22.51L254.54,23.29L254.06,25.01L253.08,26.41L252.11,25.32L250.65,24.85L249.19,25.78L247.72,24.85L246.56,22.51L246.75,20.18L247.04,16.28L246.26,15.03L244.32,14.72L242.08,14.41L242.37,10.83L242.86,9.27L243.34,6.15L241.39,6.31L240.03,7.24L239.45,10.05L238.47,10.67L236.04,11.30L234.38,9.74L233.12,6.93L233.21,4.60L233.41,-0.08L233.31,-1.64Z M250.06,-1.64L250.06,-0.55L249.77,0.39L249.09,0.55L248.70,-0.70L248.41,-1.64Z M245.39,5.53L247.24,3.97L249.19,3.66L250.65,4.60L252.59,5.69L254.35,6.78L255.81,8.18L255.03,8.65L252.40,8.65L252.89,7.56L251.62,6.15L249.67,5.38L248.21,5.06L246.75,5.69Z M255.52,10.98L257.17,8.65L258.93,8.65L260.87,9.74L261.56,10.67L259.90,11.30L258.44,12.23L257.17,11.30Z M251.82,10.98L253.86,11.45L253.28,12.07L252.11,11.45Z M262.63,10.83L264.19,10.98L264.19,11.61L262.63,11.61Z M314.64,-1.64L313.76,-0.08L312.50,2.57L311.52,6.93L312.01,9.27L312.30,11.61L311.52,15.50L311.03,16.75L311.72,18.62L311.81,20.49L312.98,21.73L313.96,23.29L315.13,24.85L315.90,27.97L317.37,29.06L318.83,31.08L320.77,32.80L323.21,31.71L326.13,32.17L328.08,30.93L329.54,29.99L331.49,29.68L332.95,30.61L333.92,32.95L335.38,32.64L336.36,32.64L337.43,33.57L337.63,35.76L337.33,38.09L337.14,40.43L337.82,43.55L339.28,45.88L339.96,48.84L340.74,52.12L341.23,56.01L341.52,58.35L340.25,60.68L339.77,63.80L339.57,66.92L341.23,71.59L342.20,74.71L342.50,80.94L357.30,80.94L357.30,-1.64Z" fill="#7f7f7f" stroke="#7f7f7f" stroke-width="1.2" stroke-linejoin="round"/>
<path d="M40.50,1.70 C40.50,2.72 40.33,5.42 40.50,7.80 C40.67,10.18 42.18,13.62 41.50,16.00 C40.82,18.38 37.92,20.07 36.40,22.10 C34.88,24.13 33.42,26.00 32.40,28.20 C31.38,30.40 30.30,32.93 30.30,35.30 C30.30,37.67 30.70,40.37 32.40,42.40 C34.10,44.43 37.12,46.13 40.50,47.50 C43.88,48.87 48.28,49.92 52.70,50.60 C57.12,51.28 62.93,51.77 67.00,51.60 C71.07,51.43 74.05,50.12 77.10,49.60 C80.15,49.08 82.58,48.17 85.30,48.50 C88.02,48.83 90.70,50.58 93.40,51.60 C96.10,52.62 98.77,53.92 101.50,54.60 C104.23,55.28 108.42,55.52 109.80,55.70" fill="none" stroke="#262626" stroke-width="1.0" stroke-linejoin="round"/><path d="M42.00,29.20 C43.17,29.20 44.92,30.18 45.50,31.20 C46.08,32.22 46.08,34.28 45.50,35.30 C44.92,36.32 43.17,37.30 42.00,37.30 C40.83,37.30 39.08,36.32 38.50,35.30 C37.92,34.28 37.92,32.22 38.50,31.20 C39.08,30.18 40.83,29.20 42.00,29.20Z" fill="none" stroke="#262626" stroke-width="1.0" stroke-linejoin="round"/><path d="M68.80,16.70 C69.22,17.20 70.63,18.70 71.30,19.70 C71.97,20.70 72.55,22.20 72.80,22.70" fill="none" stroke="#262626" stroke-width="1.0" stroke-linejoin="round"/><path d="M81.20,26.20 C82.22,25.52 85.27,23.80 87.30,22.10 C89.33,20.40 91.37,17.70 93.40,16.00 C95.43,14.30 96.45,12.92 99.50,11.90 C102.55,10.88 107.28,10.58 111.70,9.90 C116.12,9.22 121.97,6.78 126.00,7.80 C130.03,8.82 132.55,13.62 135.90,16.00 C139.25,18.38 142.37,20.40 146.10,22.10 C149.83,23.80 155.25,25.02 158.30,26.20 C161.35,27.38 164.40,28.18 164.40,29.20 C164.40,30.22 159.83,31.12 158.30,32.30 C156.77,33.48 155.53,34.27 155.20,36.30 C154.87,38.33 155.10,41.95 156.30,44.50 C157.50,47.05 160.72,49.73 162.40,51.60 C164.08,53.47 166.75,54.68 166.40,55.70 C166.05,56.72 163.02,57.37 160.30,57.70 C157.58,58.03 153.48,58.03 150.10,57.70 C146.72,57.37 143.00,56.55 140.00,55.70 C137.00,54.85 135.12,53.80 132.10,52.60 C129.08,51.40 124.95,49.85 121.90,48.50 C118.85,47.15 115.15,45.17 113.80,44.50" fill="none" stroke="#262626" stroke-width="1.0" stroke-linejoin="round"/><path d="M83.20,9.90 C84.90,9.22 89.32,7.17 93.40,5.80 C97.48,4.43 103.30,2.47 107.70,1.70 C112.10,0.93 116.12,1.37 119.80,1.20 C123.48,1.03 126.78,0.62 129.80,0.70 C132.82,0.78 134.52,1.18 137.90,1.70 C141.28,2.22 146.70,2.60 150.10,3.80 C153.50,5.00 156.25,6.87 158.30,8.90 C160.35,10.93 160.37,14.13 162.40,16.00 C164.43,17.87 167.12,18.92 170.50,20.10 C173.88,21.28 179.32,22.27 182.70,23.10 C186.08,23.93 189.27,24.25 190.80,25.10 C192.33,25.95 193.25,27.18 191.90,28.20 C190.55,29.22 186.27,30.02 182.70,31.20 C179.13,32.38 173.22,33.93 170.50,35.30 C167.78,36.67 166.40,37.87 166.40,39.40 C166.40,40.93 168.12,42.80 170.50,44.50 C172.88,46.20 177.98,47.92 180.70,49.60 C183.42,51.28 185.95,52.92 186.80,54.60 C187.65,56.28 187.17,58.33 185.80,59.70 C184.43,61.07 182.17,62.12 178.60,62.80 C175.03,63.48 169.15,63.80 164.40,63.80 C159.65,63.80 154.17,63.32 150.10,62.80 C146.03,62.28 143.00,61.38 140.00,60.70 C137.00,60.02 135.12,59.72 132.10,58.70 C129.08,57.68 123.60,55.28 121.90,54.60" fill="none" stroke="#262626" stroke-width="1.0" stroke-linejoin="round"/><path d="M209.20,20.10 C210.22,18.73 213.62,14.62 215.30,11.90 C216.98,9.18 218.38,5.83 219.30,3.80 C220.22,1.77 220.55,0.38 220.80,-0.30" fill="none" stroke="#262626" stroke-width="1.0" stroke-linejoin="round"/><path d="M219.80,23.10 C221.83,23.20 227.58,23.53 232.00,23.70 C236.42,23.87 242.90,23.68 246.30,24.10 C249.70,24.52 251.38,25.85 252.40,26.20" fill="none" stroke="#262626" stroke-width="1.0" stroke-linejoin="round"/><path d="M260.50,20.10 C262.55,20.43 268.72,21.43 272.80,22.10 C276.88,22.77 282.80,23.25 285.00,24.10 C287.20,24.95 286.68,26.52 286.00,27.20 C285.32,27.88 281.75,28.03 280.90,28.20" fill="none" stroke="#262626" stroke-width="1.0" stroke-linejoin="round"/><path d="M270.70,-0.30 C272.07,1.23 276.18,6.18 278.90,8.90 C281.62,11.62 284.28,14.13 287.00,16.00 C289.72,17.87 292.15,19.60 295.20,20.10 C298.25,20.60 302.77,19.85 305.30,19.00 C307.83,18.15 309.55,15.67 310.40,15.00" fill="none" stroke="#262626" stroke-width="1.0" stroke-linejoin="round"/><path d="M280.90,36.40 C281.92,36.05 283.60,34.82 287.00,34.30 C290.40,33.78 296.55,34.15 301.30,33.30 C306.05,32.45 313.13,29.88 315.50,29.20" fill="none" stroke="#262626" stroke-width="1.0" stroke-linejoin="round"/><text x="35.8" y="23.3" font-size="5.2" text-anchor="middle" fill="#333">28°C</text><text x="100.8" y="15.3" font-size="5.2" text-anchor="middle" fill="#333">28°C</text><text x="140.8" y="3.8" font-size="5.2" text-anchor="middle" fill="#333">28°C</text><text x="137.8" y="17.3" font-size="5.2" text-anchor="middle" fill="#333">28°C</text><text x="165.8" y="30.3" font-size="5.2" text-anchor="middle" fill="#333">28°C</text><text x="168.8" y="65.3" font-size="5.2" text-anchor="middle" fill="#333">28°C</text><text x="212.8" y="17.3" font-size="5.2" text-anchor="middle" fill="#333">28°C</text><text x="295.8" y="21.3" font-size="5.2" text-anchor="middle" fill="#333">28°C</text><text x="285.8" y="36.3" font-size="5.2" text-anchor="middle" fill="#333">28°C</text><text x="266.8" y="21.3" font-size="5.2" text-anchor="middle" fill="#333">29°C</text>
</g>

<rect x="0" y="0" width="351.60" height="79.2" fill="none" stroke="#333" stroke-width="1"/>
<line x1="-2.5" y1="16.28" x2="0" y2="16.28" stroke="#333" stroke-width="0.8"/>
<line x1="351.60" y1="16.28" x2="354.10" y2="16.28" stroke="#333" stroke-width="0.8"/>
<line x1="-2.5" y1="63.02" x2="0" y2="63.02" stroke="#333" stroke-width="0.8"/>
<line x1="351.60" y1="63.02" x2="354.10" y2="63.02" stroke="#333" stroke-width="0.8"/>
<line x1="16.40" y1="79.2" x2="16.40" y2="81.7" stroke="#333" stroke-width="0.8"/>
<line x1="16.40" y1="0" x2="16.40" y2="-2.5" stroke="#333" stroke-width="0.8"/>
<line x1="94.32" y1="79.2" x2="94.32" y2="81.7" stroke="#333" stroke-width="0.8"/>
<line x1="94.32" y1="0" x2="94.32" y2="-2.5" stroke="#333" stroke-width="0.8"/>
<line x1="211.20" y1="79.2" x2="211.20" y2="81.7" stroke="#333" stroke-width="0.8"/>
<line x1="211.20" y1="0" x2="211.20" y2="-2.5" stroke="#333" stroke-width="0.8"/>
<line x1="328.08" y1="79.2" x2="328.08" y2="81.7" stroke="#333" stroke-width="0.8"/>
<line x1="328.08" y1="0" x2="328.08" y2="-2.5" stroke="#333" stroke-width="0.8"/>
</g>
<text x="8.5" y="302.18" font-size="14" fill="#111" textLength="29.1" lengthAdjust="spacingAndGlyphs">15°N</text>
<text x="11.2" y="348.92" font-size="14" fill="#111" textLength="26.4" lengthAdjust="spacingAndGlyphs">15°S</text>
<text x="42.2" y="372.5" font-size="14" fill="#111" textLength="27.5" lengthAdjust="spacingAndGlyphs">40°E</text>
<text x="117.1" y="372.5" font-size="14" fill="#111" textLength="34.9" lengthAdjust="spacingAndGlyphs">120°E</text>
<text x="231.3" y="372.5" font-size="14" fill="#111" textLength="40.6" lengthAdjust="spacingAndGlyphs">120°W</text>
<text x="362.6" y="372.5" font-size="14" fill="#111" textLength="11.4" lengthAdjust="spacingAndGlyphs">0°</text>
<text x="353.8" y="44.70" font-size="13" fill="#111" textLength="23.4" lengthAdjust="spacingAndGlyphs">DJF</text>
<text x="353.8" y="129.70" font-size="13" fill="#111" textLength="31.2" lengthAdjust="spacingAndGlyphs">MAM</text>
<text x="353.8" y="214.80" font-size="13" fill="#111" textLength="21.9" lengthAdjust="spacingAndGlyphs">JJA</text>
<text x="353.8" y="299.80" font-size="13" fill="#111" textLength="26.1" lengthAdjust="spacingAndGlyphs">SON</text>
<rect x="397.8" y="75.20" width="11.90" height="14.14" fill="#800000"/>
<rect x="397.8" y="88.94" width="11.90" height="14.14" fill="#c00000"/>
<rect x="397.8" y="102.68" width="11.90" height="14.14" fill="#e00000"/>
<rect x="397.8" y="116.42" width="11.90" height="14.14" fill="#ff0000"/>
<rect x="397.8" y="130.16" width="11.90" height="14.14" fill="#d2691e"/>
<rect x="397.8" y="143.91" width="11.90" height="14.14" fill="#f08000"/>
<rect x="397.8" y="157.65" width="11.90" height="14.14" fill="#f4a460"/>
<rect x="397.8" y="171.39" width="11.90" height="14.14" fill="#ffe4b5"/>
<rect x="397.8" y="185.13" width="11.90" height="14.14" fill="#e6e6fa"/>
<rect x="397.8" y="198.87" width="11.90" height="14.14" fill="#d4f0f0"/>
<rect x="397.8" y="212.61" width="11.90" height="14.14" fill="#add8e6"/>
<rect x="397.8" y="226.35" width="11.90" height="14.14" fill="#5aa8f0"/>
<rect x="397.8" y="240.09" width="11.90" height="14.14" fill="#4169e1"/>
<rect x="397.8" y="253.84" width="11.90" height="14.14" fill="#1874cd"/>
<rect x="397.8" y="267.58" width="11.90" height="14.14" fill="#104e8b"/>
<rect x="397.8" y="281.32" width="11.90" height="14.14" fill="#191970"/>
<rect x="397.8" y="295.06" width="11.90" height="14.14" fill="#000000"/>
<rect x="397.8" y="75.2" width="11.90" height="233.60" fill="none" stroke="#444" stroke-width="0.8"/>
<line x1="409.7" y1="75.20" x2="412.7" y2="75.20" stroke="#222" stroke-width="0.9"/>
<text x="420.5" y="81.2" font-size="14" text-anchor="start" font-weight="normal" fill="#111" textLength="22.8" lengthAdjust="spacingAndGlyphs" >391</text>
<line x1="409.7" y1="133.60" x2="412.7" y2="133.60" stroke="#222" stroke-width="0.9"/>
<text x="420.5" y="139.6" font-size="14" text-anchor="start" font-weight="normal" fill="#111" textLength="22.8" lengthAdjust="spacingAndGlyphs" >389</text>
<line x1="409.7" y1="192.00" x2="412.7" y2="192.00" stroke="#222" stroke-width="0.9"/>
<text x="420.5" y="198.0" font-size="14" text-anchor="start" font-weight="normal" fill="#111" textLength="22.8" lengthAdjust="spacingAndGlyphs" >387</text>
<line x1="409.7" y1="250.40" x2="412.7" y2="250.40" stroke="#222" stroke-width="0.9"/>
<text x="420.5" y="256.4" font-size="14" text-anchor="start" font-weight="normal" fill="#111" textLength="22.8" lengthAdjust="spacingAndGlyphs" >385</text>
<line x1="409.7" y1="308.80" x2="412.7" y2="308.80" stroke="#222" stroke-width="0.9"/>
<text x="420.5" y="314.8" font-size="14" text-anchor="start" font-weight="normal" fill="#111" textLength="22.8" lengthAdjust="spacingAndGlyphs" >383</text>
<text x="392.4" y="38.9" font-size="13" text-anchor="start" font-weight="bold" fill="#111" textLength="19.5" lengthAdjust="spacingAndGlyphs" >CO</text>
<text x="411.9" y="41.2" font-size="8" text-anchor="start" font-weight="bold" fill="#111" textLength="5.3" lengthAdjust="spacingAndGlyphs" >2</text>
<text x="392.4" y="54.4" font-size="13" text-anchor="start" font-weight="bold" fill="#111" textLength="36.7" lengthAdjust="spacingAndGlyphs" >(ppm)</text>
<text x="449.7" y="22.9" font-size="17" text-anchor="start" font-weight="bold" fill="#000" textLength="9.1" lengthAdjust="spacingAndGlyphs" >b</text>
<path d="M483.70,97.40 C484.88,96.52 488.42,93.43 490.80,92.10 C493.18,90.77 495.47,90.00 498.00,89.40 C500.53,88.80 503.33,88.05 506.00,88.50 C508.67,88.95 511.48,90.32 514.00,92.10 C516.52,93.88 518.72,96.53 521.10,99.20 C523.48,101.87 525.62,105.42 528.30,108.10 C530.98,110.78 534.38,112.92 537.20,115.30 C540.02,117.68 542.83,121.82 545.20,122.40 C547.57,122.98 549.17,120.58 551.40,118.80 C553.63,117.02 556.22,114.07 558.60,111.70 C560.98,109.33 563.33,106.23 565.70,104.60 C568.07,102.97 570.90,102.30 572.80,101.90 C574.70,101.50 575.18,102.43 577.10,102.20 C579.02,101.97 581.92,101.23 584.30,100.50 C586.68,99.77 589.03,98.70 591.40,97.80 C593.77,96.90 596.12,96.28 598.50,95.10 C600.88,93.92 603.32,92.33 605.70,90.70 C608.08,89.07 610.43,86.65 612.80,85.30 C615.17,83.95 617.53,83.35 619.90,82.60 C622.27,81.85 624.62,81.23 627.00,80.80 C629.38,80.37 631.82,80.28 634.20,80.00 C636.58,79.72 638.93,79.40 641.30,79.10 C643.67,78.80 646.02,78.50 648.40,78.20 C650.78,77.90 653.22,77.15 655.60,77.30 C657.98,77.45 660.33,78.37 662.70,79.10 C665.07,79.83 668.62,81.27 669.80,81.70" fill="none" stroke="#ff7f0e" stroke-opacity="0.2" stroke-width="5" stroke-linejoin="round" stroke-linecap="round"/>
<path d="M483.70,98.30 C484.88,98.15 488.42,98.43 490.80,97.40 C493.18,96.37 495.62,93.58 498.00,92.10 C500.38,90.62 502.73,88.35 505.10,88.50 C507.47,88.65 509.53,91.22 512.20,93.00 C514.87,94.78 518.13,97.27 521.10,99.20 C524.07,101.13 527.32,102.97 530.00,104.60 C532.68,106.23 534.82,107.52 537.20,109.00 C539.58,110.48 542.23,113.20 544.30,113.50 C546.37,113.80 547.52,111.70 549.60,110.80 C551.68,109.90 554.12,108.98 556.80,108.10 C559.48,107.22 563.03,105.93 565.70,105.50 C568.37,105.07 570.90,105.75 572.80,105.50 C574.70,105.25 575.18,104.83 577.10,104.00 C579.02,103.17 582.22,101.53 584.30,100.50 C586.38,99.47 587.53,97.80 589.60,97.80 C591.67,97.80 594.62,100.65 596.70,100.50 C598.78,100.35 600.02,98.25 602.10,96.90 C604.18,95.55 606.83,94.93 609.20,92.40 C611.57,89.87 614.22,85.27 616.30,81.70 C618.38,78.13 619.92,73.22 621.70,71.00 C623.48,68.78 625.22,68.53 627.00,68.40 C628.78,68.27 630.62,70.35 632.40,70.20 C634.18,70.05 635.62,67.80 637.70,67.50 C639.78,67.20 642.52,67.67 644.90,68.40 C647.28,69.13 649.63,71.17 652.00,71.90 C654.37,72.63 656.13,72.65 659.10,72.80 C662.07,72.95 668.02,72.80 669.80,72.80" fill="none" stroke="#2ca02c" stroke-opacity="0.2" stroke-width="5" stroke-linejoin="round" stroke-linecap="round"/>
<path d="M483.70,93.00 C484.88,91.95 488.42,88.63 490.80,86.70 C493.18,84.77 495.77,82.13 498.00,81.40 C500.23,80.67 501.83,81.27 504.20,82.30 C506.57,83.33 509.68,85.37 512.20,87.60 C514.72,89.83 516.92,93.17 519.30,95.70 C521.68,98.23 523.82,100.43 526.50,102.80 C529.18,105.17 532.43,107.68 535.40,109.90 C538.37,112.12 541.93,114.92 544.30,116.10 C546.67,117.28 547.52,117.43 549.60,117.00 C551.68,116.57 554.42,115.28 556.80,113.50 C559.18,111.72 561.23,108.23 563.90,106.30 C566.57,104.37 570.60,103.47 572.80,101.90 C575.00,100.33 575.18,98.03 577.10,96.90 C579.02,95.77 581.92,95.40 584.30,95.10 C586.68,94.80 589.03,95.55 591.40,95.10 C593.77,94.65 596.12,93.73 598.50,92.40 C600.88,91.07 603.32,88.73 605.70,87.10 C608.08,85.47 610.43,83.78 612.80,82.60 C615.17,81.42 617.53,80.73 619.90,80.00 C622.27,79.27 624.62,78.50 627.00,78.20 C629.38,77.90 631.82,78.65 634.20,78.20 C636.58,77.75 638.93,76.25 641.30,75.50 C643.67,74.75 646.02,73.85 648.40,73.70 C650.78,73.55 653.22,74.15 655.60,74.60 C657.98,75.05 660.33,75.80 662.70,76.40 C665.07,77.00 668.62,77.90 669.80,78.20" fill="none" stroke="#1f77b4" stroke-opacity="0.2" stroke-width="5" stroke-linejoin="round" stroke-linecap="round"/>
<path d="M483.70,104.60 C484.88,103.55 488.42,100.23 490.80,98.30 C493.18,96.37 495.32,94.63 498.00,93.00 C500.68,91.37 504.23,88.65 506.90,88.50 C509.57,88.35 511.63,90.62 514.00,92.10 C516.37,93.58 518.72,95.77 521.10,97.40 C523.48,99.03 525.92,101.30 528.30,101.90 C530.68,102.50 532.73,101.30 535.40,101.00 C538.07,100.70 541.63,100.85 544.30,100.10 C546.97,99.35 549.32,97.53 551.40,96.50 C553.48,95.47 555.32,94.03 556.80,93.90 C558.28,93.77 558.82,96.00 560.30,95.70 C561.78,95.40 563.62,93.30 565.70,92.10 C567.78,90.90 570.90,89.18 572.80,88.50 C574.70,87.82 575.18,87.35 577.10,88.00 C579.02,88.65 581.92,90.77 584.30,92.40 C586.68,94.03 589.03,96.45 591.40,97.80 C593.77,99.15 596.12,100.50 598.50,100.50 C600.88,100.50 603.62,99.00 605.70,97.80 C607.78,96.60 609.23,94.05 611.00,93.30 C612.77,92.55 614.82,93.73 616.30,93.30 C617.78,92.87 618.40,91.58 619.90,90.70 C621.40,89.82 623.82,90.38 625.30,88.00 C626.78,85.62 627.77,80.12 628.80,76.40 C629.83,72.68 630.60,68.08 631.50,65.70 C632.40,63.32 633.17,62.10 634.20,62.10 C635.23,62.10 636.52,64.95 637.70,65.70 C638.88,66.45 639.82,65.42 641.30,66.60 C642.78,67.78 644.82,71.02 646.60,72.80 C648.38,74.58 649.92,76.10 652.00,77.30 C654.08,78.50 656.73,78.97 659.10,80.00 C661.47,81.03 664.42,83.22 666.20,83.50 C667.98,83.78 669.20,82.00 669.80,81.70" fill="none" stroke="#9467bd" stroke-opacity="0.2" stroke-width="5" stroke-linejoin="round" stroke-linecap="round"/>
<path d="M483.70,97.40 C484.88,95.92 488.42,91.02 490.80,88.50 C493.18,85.98 495.77,83.72 498.00,82.30 C500.23,80.88 502.13,80.00 504.20,80.00 C506.27,80.00 508.17,80.88 510.40,82.30 C512.63,83.72 514.92,86.42 517.60,88.50 C520.28,90.58 523.83,93.90 526.50,94.80 C529.17,95.70 530.93,94.80 533.60,93.90 C536.27,93.00 539.83,90.30 542.50,89.40 C545.17,88.50 547.22,88.95 549.60,88.50 C551.98,88.05 554.42,87.58 556.80,86.70 C559.18,85.82 561.23,83.78 563.90,83.20 C566.57,82.62 570.60,83.15 572.80,83.20 C575.00,83.25 575.18,83.00 577.10,83.50 C579.02,84.00 581.92,85.15 584.30,86.20 C586.68,87.25 589.03,88.62 591.40,89.80 C593.77,90.98 596.12,93.15 598.50,93.30 C600.88,93.45 603.32,91.73 605.70,90.70 C608.08,89.67 610.43,88.30 612.80,87.10 C615.17,85.90 617.53,84.68 619.90,83.50 C622.27,82.32 624.62,81.48 627.00,80.00 C629.38,78.52 631.82,76.10 634.20,74.60 C636.58,73.10 638.93,71.30 641.30,71.00 C643.67,70.70 646.02,71.75 648.40,72.80 C650.78,73.85 653.22,75.82 655.60,77.30 C657.98,78.78 660.33,80.67 662.70,81.70 C665.07,82.73 668.62,83.20 669.80,83.50" fill="none" stroke="#d62728" stroke-opacity="0.2" stroke-width="5" stroke-linejoin="round" stroke-linecap="round"/>
<path d="M606,97 L611,91 L617,90 L622,86 L627,82 L629,76 L629,90 L626,98 L620,101 L614,99 Z" fill="#9467bd" fill-opacity="0.18"/>
<path d="M483.70,97.40 C484.88,96.52 488.42,93.43 490.80,92.10 C493.18,90.77 495.47,90.00 498.00,89.40 C500.53,88.80 503.33,88.05 506.00,88.50 C508.67,88.95 511.48,90.32 514.00,92.10 C516.52,93.88 518.72,96.53 521.10,99.20 C523.48,101.87 525.62,105.42 528.30,108.10 C530.98,110.78 534.38,112.92 537.20,115.30 C540.02,117.68 542.83,121.82 545.20,122.40 C547.57,122.98 549.17,120.58 551.40,118.80 C553.63,117.02 556.22,114.07 558.60,111.70 C560.98,109.33 563.33,106.23 565.70,104.60 C568.07,102.97 570.90,102.30 572.80,101.90 C574.70,101.50 575.18,102.43 577.10,102.20 C579.02,101.97 581.92,101.23 584.30,100.50 C586.68,99.77 589.03,98.70 591.40,97.80 C593.77,96.90 596.12,96.28 598.50,95.10 C600.88,93.92 603.32,92.33 605.70,90.70 C608.08,89.07 610.43,86.65 612.80,85.30 C615.17,83.95 617.53,83.35 619.90,82.60 C622.27,81.85 624.62,81.23 627.00,80.80 C629.38,80.37 631.82,80.28 634.20,80.00 C636.58,79.72 638.93,79.40 641.30,79.10 C643.67,78.80 646.02,78.50 648.40,78.20 C650.78,77.90 653.22,77.15 655.60,77.30 C657.98,77.45 660.33,78.37 662.70,79.10 C665.07,79.83 668.62,81.27 669.80,81.70" fill="none" stroke="#ff7f0e" stroke-width="2.4" stroke-linejoin="round" stroke-linecap="round"/>
<path d="M483.70,98.30 C484.88,98.15 488.42,98.43 490.80,97.40 C493.18,96.37 495.62,93.58 498.00,92.10 C500.38,90.62 502.73,88.35 505.10,88.50 C507.47,88.65 509.53,91.22 512.20,93.00 C514.87,94.78 518.13,97.27 521.10,99.20 C524.07,101.13 527.32,102.97 530.00,104.60 C532.68,106.23 534.82,107.52 537.20,109.00 C539.58,110.48 542.23,113.20 544.30,113.50 C546.37,113.80 547.52,111.70 549.60,110.80 C551.68,109.90 554.12,108.98 556.80,108.10 C559.48,107.22 563.03,105.93 565.70,105.50 C568.37,105.07 570.90,105.75 572.80,105.50 C574.70,105.25 575.18,104.83 577.10,104.00 C579.02,103.17 582.22,101.53 584.30,100.50 C586.38,99.47 587.53,97.80 589.60,97.80 C591.67,97.80 594.62,100.65 596.70,100.50 C598.78,100.35 600.02,98.25 602.10,96.90 C604.18,95.55 606.83,94.93 609.20,92.40 C611.57,89.87 614.22,85.27 616.30,81.70 C618.38,78.13 619.92,73.22 621.70,71.00 C623.48,68.78 625.22,68.53 627.00,68.40 C628.78,68.27 630.62,70.35 632.40,70.20 C634.18,70.05 635.62,67.80 637.70,67.50 C639.78,67.20 642.52,67.67 644.90,68.40 C647.28,69.13 649.63,71.17 652.00,71.90 C654.37,72.63 656.13,72.65 659.10,72.80 C662.07,72.95 668.02,72.80 669.80,72.80" fill="none" stroke="#2ca02c" stroke-width="2.4" stroke-linejoin="round" stroke-linecap="round"/>
<path d="M483.70,93.00 C484.88,91.95 488.42,88.63 490.80,86.70 C493.18,84.77 495.77,82.13 498.00,81.40 C500.23,80.67 501.83,81.27 504.20,82.30 C506.57,83.33 509.68,85.37 512.20,87.60 C514.72,89.83 516.92,93.17 519.30,95.70 C521.68,98.23 523.82,100.43 526.50,102.80 C529.18,105.17 532.43,107.68 535.40,109.90 C538.37,112.12 541.93,114.92 544.30,116.10 C546.67,117.28 547.52,117.43 549.60,117.00 C551.68,116.57 554.42,115.28 556.80,113.50 C559.18,111.72 561.23,108.23 563.90,106.30 C566.57,104.37 570.60,103.47 572.80,101.90 C575.00,100.33 575.18,98.03 577.10,96.90 C579.02,95.77 581.92,95.40 584.30,95.10 C586.68,94.80 589.03,95.55 591.40,95.10 C593.77,94.65 596.12,93.73 598.50,92.40 C600.88,91.07 603.32,88.73 605.70,87.10 C608.08,85.47 610.43,83.78 612.80,82.60 C615.17,81.42 617.53,80.73 619.90,80.00 C622.27,79.27 624.62,78.50 627.00,78.20 C629.38,77.90 631.82,78.65 634.20,78.20 C636.58,77.75 638.93,76.25 641.30,75.50 C643.67,74.75 646.02,73.85 648.40,73.70 C650.78,73.55 653.22,74.15 655.60,74.60 C657.98,75.05 660.33,75.80 662.70,76.40 C665.07,77.00 668.62,77.90 669.80,78.20" fill="none" stroke="#1f77b4" stroke-width="2.4" stroke-linejoin="round" stroke-linecap="round"/>
<path d="M483.70,104.60 C484.88,103.55 488.42,100.23 490.80,98.30 C493.18,96.37 495.32,94.63 498.00,93.00 C500.68,91.37 504.23,88.65 506.90,88.50 C509.57,88.35 511.63,90.62 514.00,92.10 C516.37,93.58 518.72,95.77 521.10,97.40 C523.48,99.03 525.92,101.30 528.30,101.90 C530.68,102.50 532.73,101.30 535.40,101.00 C538.07,100.70 541.63,100.85 544.30,100.10 C546.97,99.35 549.32,97.53 551.40,96.50 C553.48,95.47 555.32,94.03 556.80,93.90 C558.28,93.77 558.82,96.00 560.30,95.70 C561.78,95.40 563.62,93.30 565.70,92.10 C567.78,90.90 570.90,89.18 572.80,88.50 C574.70,87.82 575.18,87.35 577.10,88.00 C579.02,88.65 581.92,90.77 584.30,92.40 C586.68,94.03 589.03,96.45 591.40,97.80 C593.77,99.15 596.12,100.50 598.50,100.50 C600.88,100.50 603.62,99.00 605.70,97.80 C607.78,96.60 609.23,94.05 611.00,93.30 C612.77,92.55 614.82,93.73 616.30,93.30 C617.78,92.87 618.40,91.58 619.90,90.70 C621.40,89.82 623.82,90.38 625.30,88.00 C626.78,85.62 627.77,80.12 628.80,76.40 C629.83,72.68 630.60,68.08 631.50,65.70 C632.40,63.32 633.17,62.10 634.20,62.10 C635.23,62.10 636.52,64.95 637.70,65.70 C638.88,66.45 639.82,65.42 641.30,66.60 C642.78,67.78 644.82,71.02 646.60,72.80 C648.38,74.58 649.92,76.10 652.00,77.30 C654.08,78.50 656.73,78.97 659.10,80.00 C661.47,81.03 664.42,83.22 666.20,83.50 C667.98,83.78 669.20,82.00 669.80,81.70" fill="none" stroke="#9467bd" stroke-width="2.4" stroke-linejoin="round" stroke-linecap="round"/>
<path d="M483.70,97.40 C484.88,95.92 488.42,91.02 490.80,88.50 C493.18,85.98 495.77,83.72 498.00,82.30 C500.23,80.88 502.13,80.00 504.20,80.00 C506.27,80.00 508.17,80.88 510.40,82.30 C512.63,83.72 514.92,86.42 517.60,88.50 C520.28,90.58 523.83,93.90 526.50,94.80 C529.17,95.70 530.93,94.80 533.60,93.90 C536.27,93.00 539.83,90.30 542.50,89.40 C545.17,88.50 547.22,88.95 549.60,88.50 C551.98,88.05 554.42,87.58 556.80,86.70 C559.18,85.82 561.23,83.78 563.90,83.20 C566.57,82.62 570.60,83.15 572.80,83.20 C575.00,83.25 575.18,83.00 577.10,83.50 C579.02,84.00 581.92,85.15 584.30,86.20 C586.68,87.25 589.03,88.62 591.40,89.80 C593.77,90.98 596.12,93.15 598.50,93.30 C600.88,93.45 603.32,91.73 605.70,90.70 C608.08,89.67 610.43,88.30 612.80,87.10 C615.17,85.90 617.53,84.68 619.90,83.50 C622.27,82.32 624.62,81.48 627.00,80.00 C629.38,78.52 631.82,76.10 634.20,74.60 C636.58,73.10 638.93,71.30 641.30,71.00 C643.67,70.70 646.02,71.75 648.40,72.80 C650.78,73.85 653.22,75.82 655.60,77.30 C657.98,78.78 660.33,80.67 662.70,81.70 C665.07,82.73 668.62,83.20 669.80,83.50" fill="none" stroke="#d62728" stroke-width="2.4" stroke-linejoin="round" stroke-linecap="round"/>
<rect x="473.6" y="25.4" width="206.0" height="129.6" fill="none" stroke="#333" stroke-width="1"/>
<line x1="470.1" y1="155.00" x2="473.6" y2="155.00" stroke="#333" stroke-width="0.8"/>
<line x1="679.6" y1="155.00" x2="683.1" y2="155.00" stroke="#333" stroke-width="0.8"/>
<line x1="471.6" y1="146.90" x2="473.6" y2="146.90" stroke="#333" stroke-width="0.8"/>
<line x1="679.6" y1="146.90" x2="681.6" y2="146.90" stroke="#333" stroke-width="0.8"/>
<line x1="471.6" y1="138.80" x2="473.6" y2="138.80" stroke="#333" stroke-width="0.8"/>
<line x1="679.6" y1="138.80" x2="681.6" y2="138.80" stroke="#333" stroke-width="0.8"/>
<line x1="471.6" y1="130.70" x2="473.6" y2="130.70" stroke="#333" stroke-width="0.8"/>
<line x1="679.6" y1="130.70" x2="681.6" y2="130.70" stroke="#333" stroke-width="0.8"/>
<line x1="470.1" y1="122.60" x2="473.6" y2="122.60" stroke="#333" stroke-width="0.8"/>
<line x1="679.6" y1="122.60" x2="683.1" y2="122.60" stroke="#333" stroke-width="0.8"/>
<line x1="471.6" y1="114.50" x2="473.6" y2="114.50" stroke="#333" stroke-width="0.8"/>
<line x1="679.6" y1="114.50" x2="681.6" y2="114.50" stroke="#333" stroke-width="0.8"/>
<line x1="471.6" y1="106.40" x2="473.6" y2="106.40" stroke="#333" stroke-width="0.8"/>
<line x1="679.6" y1="106.40" x2="681.6" y2="106.40" stroke="#333" stroke-width="0.8"/>
<line x1="471.6" y1="98.30" x2="473.6" y2="98.30" stroke="#333" stroke-width="0.8"/>
<line x1="679.6" y1="98.30" x2="681.6" y2="98.30" stroke="#333" stroke-width="0.8"/>
<line x1="470.1" y1="90.20" x2="473.6" y2="90.20" stroke="#333" stroke-width="0.8"/>
<line x1="679.6" y1="90.20" x2="683.1" y2="90.20" stroke="#333" stroke-width="0.8"/>
<line x1="471.6" y1="82.10" x2="473.6" y2="82.10" stroke="#333" stroke-width="0.8"/>
<line x1="679.6" y1="82.10" x2="681.6" y2="82.10" stroke="#333" stroke-width="0.8"/>
<line x1="471.6" y1="74.00" x2="473.6" y2="74.00" stroke="#333" stroke-width="0.8"/>
<line x1="679.6" y1="74.00" x2="681.6" y2="74.00" stroke="#333" stroke-width="0.8"/>
<line x1="471.6" y1="65.90" x2="473.6" y2="65.90" stroke="#333" stroke-width="0.8"/>
<line x1="679.6" y1="65.90" x2="681.6" y2="65.90" stroke="#333" stroke-width="0.8"/>
<line x1="470.1" y1="57.80" x2="473.6" y2="57.80" stroke="#333" stroke-width="0.8"/>
<line x1="679.6" y1="57.80" x2="683.1" y2="57.80" stroke="#333" stroke-width="0.8"/>
<line x1="471.6" y1="49.70" x2="473.6" y2="49.70" stroke="#333" stroke-width="0.8"/>
<line x1="679.6" y1="49.70" x2="681.6" y2="49.70" stroke="#333" stroke-width="0.8"/>
<line x1="471.6" y1="41.60" x2="473.6" y2="41.60" stroke="#333" stroke-width="0.8"/>
<line x1="679.6" y1="41.60" x2="681.6" y2="41.60" stroke="#333" stroke-width="0.8"/>
<line x1="471.6" y1="33.50" x2="473.6" y2="33.50" stroke="#333" stroke-width="0.8"/>
<line x1="679.6" y1="33.50" x2="681.6" y2="33.50" stroke="#333" stroke-width="0.8"/>
<line x1="470.1" y1="25.40" x2="473.6" y2="25.40" stroke="#333" stroke-width="0.8"/>
<line x1="679.6" y1="25.40" x2="683.1" y2="25.40" stroke="#333" stroke-width="0.8"/>
<text x="684.5" y="31.2" font-size="14" text-anchor="start" font-weight="normal" fill="#111" textLength="21.5" lengthAdjust="spacingAndGlyphs" >392</text>
<text x="684.5" y="63.6" font-size="14" text-anchor="start" font-weight="normal" fill="#111" textLength="21.5" lengthAdjust="spacingAndGlyphs" >390</text>
<text x="684.5" y="96.0" font-size="14" text-anchor="start" font-weight="normal" fill="#111" textLength="21.5" lengthAdjust="spacingAndGlyphs" >388</text>
<text x="684.5" y="128.4" font-size="14" text-anchor="start" font-weight="normal" fill="#111" textLength="21.5" lengthAdjust="spacingAndGlyphs" >386</text>
<text x="684.5" y="160.8" font-size="14" text-anchor="start" font-weight="normal" fill="#111" textLength="21.5" lengthAdjust="spacingAndGlyphs" >384</text>
<line x1="473.60" y1="155.0" x2="473.60" y2="158.5" stroke="#333" stroke-width="0.8"/>
<line x1="473.60" y1="25.4" x2="473.60" y2="21.9" stroke="#333" stroke-width="0.8"/>
<line x1="491.52" y1="155.0" x2="491.52" y2="157.0" stroke="#333" stroke-width="0.8"/>
<line x1="491.52" y1="25.4" x2="491.52" y2="23.4" stroke="#333" stroke-width="0.8"/>
<line x1="509.44" y1="155.0" x2="509.44" y2="157.0" stroke="#333" stroke-width="0.8"/>
<line x1="509.44" y1="25.4" x2="509.44" y2="23.4" stroke="#333" stroke-width="0.8"/>
<line x1="527.36" y1="155.0" x2="527.36" y2="157.0" stroke="#333" stroke-width="0.8"/>
<line x1="527.36" y1="25.4" x2="527.36" y2="23.4" stroke="#333" stroke-width="0.8"/>
<line x1="545.28" y1="155.0" x2="545.28" y2="157.0" stroke="#333" stroke-width="0.8"/>
<line x1="545.28" y1="25.4" x2="545.28" y2="23.4" stroke="#333" stroke-width="0.8"/>
<line x1="563.20" y1="155.0" x2="563.20" y2="158.5" stroke="#333" stroke-width="0.8"/>
<line x1="563.20" y1="25.4" x2="563.20" y2="21.9" stroke="#333" stroke-width="0.8"/>
<line x1="581.12" y1="155.0" x2="581.12" y2="157.0" stroke="#333" stroke-width="0.8"/>
<line x1="581.12" y1="25.4" x2="581.12" y2="23.4" stroke="#333" stroke-width="0.8"/>
<line x1="599.04" y1="155.0" x2="599.04" y2="157.0" stroke="#333" stroke-width="0.8"/>
<line x1="599.04" y1="25.4" x2="599.04" y2="23.4" stroke="#333" stroke-width="0.8"/>
<line x1="616.96" y1="155.0" x2="616.96" y2="157.0" stroke="#333" stroke-width="0.8"/>
<line x1="616.96" y1="25.4" x2="616.96" y2="23.4" stroke="#333" stroke-width="0.8"/>
<line x1="634.88" y1="155.0" x2="634.88" y2="157.0" stroke="#333" stroke-width="0.8"/>
<line x1="634.88" y1="25.4" x2="634.88" y2="23.4" stroke="#333" stroke-width="0.8"/>
<line x1="652.80" y1="155.0" x2="652.80" y2="158.5" stroke="#333" stroke-width="0.8"/>
<line x1="652.80" y1="25.4" x2="652.80" y2="21.9" stroke="#333" stroke-width="0.8"/>
<line x1="670.72" y1="155.0" x2="670.72" y2="157.0" stroke="#333" stroke-width="0.8"/>
<line x1="670.72" y1="25.4" x2="670.72" y2="23.4" stroke="#333" stroke-width="0.8"/>
<text x="473.8" y="171.2" font-size="14" text-anchor="middle" font-weight="normal" fill="#111" textLength="27.6" lengthAdjust="spacingAndGlyphs" >50°S</text>
<text x="563.2" y="171.2" font-size="14" text-anchor="middle" font-weight="normal" fill="#111" textLength="14" lengthAdjust="spacingAndGlyphs" >0°</text>
<text x="652.8" y="171.2" font-size="14" text-anchor="middle" font-weight="normal" fill="#111" textLength="29.9" lengthAdjust="spacingAndGlyphs" >50°N</text>
<text x="549.2" y="185" font-size="14" text-anchor="start" font-weight="normal" fill="#111" textLength="53.8" lengthAdjust="spacingAndGlyphs" >Latitude</text>
<text x="612.6" y="13.1" font-size="12.5" text-anchor="start" font-weight="normal" fill="#111" textLength="17.4" lengthAdjust="spacingAndGlyphs" >CO</text>
<text x="630.2" y="15.8" font-size="8.5" text-anchor="start" font-weight="normal" fill="#111" textLength="5.5" lengthAdjust="spacingAndGlyphs" >2</text>
<text x="642.3" y="13.1" font-size="12.5" text-anchor="start" font-weight="normal" fill="#111" textLength="36.9" lengthAdjust="spacingAndGlyphs" >(ppm)</text>
<text x="524.5" y="46.7" font-size="14" text-anchor="start" font-weight="normal" fill="#1f77b4" textLength="30.8" lengthAdjust="spacingAndGlyphs" >POM</text>
<text x="568.5" y="46.7" font-size="14" text-anchor="start" font-weight="normal" fill="#2ca02c" textLength="24.4" lengthAdjust="spacingAndGlyphs" >AFE</text>
<text x="613.6" y="46.7" font-size="14" text-anchor="start" font-weight="normal" fill="#9467bd" textLength="21.5" lengthAdjust="spacingAndGlyphs" >EIO</text>
<text x="524.2" y="66.5" font-size="14" text-anchor="start" font-weight="normal" fill="#ff7f0e" textLength="31.5" lengthAdjust="spacingAndGlyphs" >AOM</text>
<text x="568.5" y="66.5" font-size="14" text-anchor="start" font-weight="normal" fill="#d62728" textLength="31.8" lengthAdjust="spacingAndGlyphs" >WPO</text>
<text x="449.2" y="227.2" font-size="16" text-anchor="start" font-weight="bold" fill="#000" textLength="8" lengthAdjust="spacingAndGlyphs" >c</text>
<clipPath id="cc"><rect x="473.2" y="200" width="206.3" height="159.1"/></clipPath><g clip-path="url(#cc)">
<rect x="482.20" y="263.1" width="10.8" height="59.30" fill="#9b4fe9" stroke="#2a1a33" stroke-width="0.8"/>
<rect x="482.20" y="322.4" width="10.8" height="38.70" fill="#e2425f" stroke="#2a1a22" stroke-width="0.8"/>
<text x="490.50" y="292.75" font-size="8.3" text-anchor="middle" fill="#111" stroke="#111" stroke-width="0.15" transform="rotate(-90 490.50 292.75)" textLength="27" lengthAdjust="spacingAndGlyphs">25.93%</text>
<text x="490.50" y="340.75" font-size="8.3" text-anchor="middle" fill="#111" stroke="#111" stroke-width="0.15" transform="rotate(-90 490.50 340.75)" textLength="27" lengthAdjust="spacingAndGlyphs">74.07%</text>
<rect x="495.90" y="275.0" width="10.8" height="52.30" fill="#9b4fe9" stroke="#2a1a33" stroke-width="0.8"/>
<rect x="495.90" y="327.3" width="10.8" height="33.80" fill="#e2425f" stroke="#2a1a22" stroke-width="0.8"/>
<text x="504.20" y="301.15" font-size="8.3" text-anchor="middle" fill="#111" stroke="#111" stroke-width="0.15" transform="rotate(-90 504.20 301.15)" textLength="27" lengthAdjust="spacingAndGlyphs">24.43%</text>
<text x="504.20" y="343.20" font-size="8.3" text-anchor="middle" fill="#111" stroke="#111" stroke-width="0.15" transform="rotate(-90 504.20 343.20)" textLength="27" lengthAdjust="spacingAndGlyphs">75.57%</text>
<rect x="509.60" y="266.8" width="10.8" height="48.80" fill="#9b4fe9" stroke="#2a1a33" stroke-width="0.8"/>
<rect x="509.60" y="315.6" width="10.8" height="45.50" fill="#e2425f" stroke="#2a1a22" stroke-width="0.8"/>
<text x="517.90" y="291.20" font-size="8.3" text-anchor="middle" fill="#111" stroke="#111" stroke-width="0.15" transform="rotate(-90 517.90 291.20)" textLength="27" lengthAdjust="spacingAndGlyphs">22.04%</text>
<text x="517.90" y="337.35" font-size="8.3" text-anchor="middle" fill="#111" stroke="#111" stroke-width="0.15" transform="rotate(-90 517.90 337.35)" textLength="27" lengthAdjust="spacingAndGlyphs">77.96%</text>
<rect x="523.30" y="274.4" width="10.8" height="52.90" fill="#9b4fe9" stroke="#2a1a33" stroke-width="0.8"/>
<rect x="523.30" y="327.3" width="10.8" height="33.80" fill="#e2425f" stroke="#2a1a22" stroke-width="0.8"/>
<text x="531.60" y="300.85" font-size="8.3" text-anchor="middle" fill="#111" stroke="#111" stroke-width="0.15" transform="rotate(-90 531.60 300.85)" textLength="27" lengthAdjust="spacingAndGlyphs">24.51%</text>
<text x="531.60" y="343.20" font-size="8.3" text-anchor="middle" fill="#111" stroke="#111" stroke-width="0.15" transform="rotate(-90 531.60 343.20)" textLength="27" lengthAdjust="spacingAndGlyphs">75.49%</text>
<rect x="537.00" y="262.2" width="10.8" height="55.90" fill="#9b4fe9" stroke="#2a1a33" stroke-width="0.8"/>
<rect x="537.00" y="318.1" width="10.8" height="43.00" fill="#e2425f" stroke="#2a1a22" stroke-width="0.8"/>
<text x="545.30" y="290.15" font-size="8.3" text-anchor="middle" fill="#111" stroke="#111" stroke-width="0.15" transform="rotate(-90 545.30 290.15)" textLength="27" lengthAdjust="spacingAndGlyphs">24.49%</text>
<text x="545.30" y="338.60" font-size="8.3" text-anchor="middle" fill="#111" stroke="#111" stroke-width="0.15" transform="rotate(-90 545.30 338.60)" textLength="27" lengthAdjust="spacingAndGlyphs">75.51%</text>
<rect x="550.70" y="267.7" width="10.8" height="59.60" fill="#9b4fe9" stroke="#2a1a33" stroke-width="0.8"/>
<rect x="550.70" y="327.3" width="10.8" height="33.80" fill="#e2425f" stroke="#2a1a22" stroke-width="0.8"/>
<text x="559.00" y="297.50" font-size="8.3" text-anchor="middle" fill="#111" stroke="#111" stroke-width="0.15" transform="rotate(-90 559.00 297.50)" textLength="27" lengthAdjust="spacingAndGlyphs">26.80%</text>
<text x="559.00" y="343.20" font-size="8.3" text-anchor="middle" fill="#111" stroke="#111" stroke-width="0.15" transform="rotate(-90 559.00 343.20)" textLength="27" lengthAdjust="spacingAndGlyphs">73.20%</text>
<rect x="564.40" y="266.2" width="10.8" height="53.10" fill="#9b4fe9" stroke="#2a1a33" stroke-width="0.8"/>
<rect x="564.40" y="319.3" width="10.8" height="41.80" fill="#e2425f" stroke="#2a1a22" stroke-width="0.8"/>
<text x="572.70" y="292.75" font-size="8.3" text-anchor="middle" fill="#111" stroke="#111" stroke-width="0.15" transform="rotate(-90 572.70 292.75)" textLength="27" lengthAdjust="spacingAndGlyphs">23.61%</text>
<text x="572.70" y="339.20" font-size="8.3" text-anchor="middle" fill="#111" stroke="#111" stroke-width="0.15" transform="rotate(-90 572.70 339.20)" textLength="27" lengthAdjust="spacingAndGlyphs">76.39%</text>
<rect x="578.10" y="260.0" width="10.8" height="59.30" fill="#9b4fe9" stroke="#2a1a33" stroke-width="0.8"/>
<rect x="578.10" y="319.3" width="10.8" height="41.80" fill="#e2425f" stroke="#2a1a22" stroke-width="0.8"/>
<text x="586.40" y="289.65" font-size="8.3" text-anchor="middle" fill="#111" stroke="#111" stroke-width="0.15" transform="rotate(-90 586.40 289.65)" textLength="27" lengthAdjust="spacingAndGlyphs">25.73%</text>
<text x="586.40" y="339.20" font-size="8.3" text-anchor="middle" fill="#111" stroke="#111" stroke-width="0.15" transform="rotate(-90 586.40 339.20)" textLength="27" lengthAdjust="spacingAndGlyphs">74.27%</text>
<rect x="591.80" y="273.4" width="10.8" height="58.10" fill="#9b4fe9" stroke="#2a1a33" stroke-width="0.8"/>
<rect x="591.80" y="331.5" width="10.8" height="29.60" fill="#e2425f" stroke="#2a1a22" stroke-width="0.8"/>
<text x="600.10" y="302.45" font-size="8.3" text-anchor="middle" fill="#111" stroke="#111" stroke-width="0.15" transform="rotate(-90 600.10 302.45)" textLength="27" lengthAdjust="spacingAndGlyphs">26.96%</text>
<text x="600.10" y="345.30" font-size="8.3" text-anchor="middle" fill="#111" stroke="#111" stroke-width="0.15" transform="rotate(-90 600.10 345.30)" textLength="27" lengthAdjust="spacingAndGlyphs">73.04%</text>
<rect x="605.50" y="268.9" width="10.8" height="54.50" fill="#9b4fe9" stroke="#2a1a33" stroke-width="0.8"/>
<rect x="605.50" y="323.4" width="10.8" height="37.70" fill="#e2425f" stroke="#2a1a22" stroke-width="0.8"/>
<text x="613.80" y="296.15" font-size="8.3" text-anchor="middle" fill="#111" stroke="#111" stroke-width="0.15" transform="rotate(-90 613.80 296.15)" textLength="27" lengthAdjust="spacingAndGlyphs">24.71%</text>
<text x="613.80" y="341.25" font-size="8.3" text-anchor="middle" fill="#111" stroke="#111" stroke-width="0.15" transform="rotate(-90 613.80 341.25)" textLength="27" lengthAdjust="spacingAndGlyphs">75.29%</text>
<rect x="619.20" y="271.5" width="10.8" height="57.30" fill="#9b4fe9" stroke="#2a1a33" stroke-width="0.8"/>
<rect x="619.20" y="328.8" width="10.8" height="32.30" fill="#e2425f" stroke="#2a1a22" stroke-width="0.8"/>
<text x="627.50" y="300.15" font-size="8.3" text-anchor="middle" fill="#111" stroke="#111" stroke-width="0.15" transform="rotate(-90 627.50 300.15)" textLength="27" lengthAdjust="spacingAndGlyphs">26.13%</text>
<text x="627.50" y="343.95" font-size="8.3" text-anchor="middle" fill="#111" stroke="#111" stroke-width="0.15" transform="rotate(-90 627.50 343.95)" textLength="27" lengthAdjust="spacingAndGlyphs">73.87%</text>
<rect x="632.90" y="277.3" width="10.8" height="48.00" fill="#9b4fe9" stroke="#2a1a33" stroke-width="0.8"/>
<rect x="632.90" y="325.3" width="10.8" height="35.80" fill="#e2425f" stroke="#2a1a22" stroke-width="0.8"/>
<text x="641.20" y="301.30" font-size="8.3" text-anchor="middle" fill="#111" stroke="#111" stroke-width="0.15" transform="rotate(-90 641.20 301.30)" textLength="27" lengthAdjust="spacingAndGlyphs">23.01%</text>
<text x="641.20" y="342.20" font-size="8.3" text-anchor="middle" fill="#111" stroke="#111" stroke-width="0.15" transform="rotate(-90 641.20 342.20)" textLength="27" lengthAdjust="spacingAndGlyphs">76.99%</text>
<rect x="646.60" y="278.4" width="10.8" height="47.30" fill="#9b4fe9" stroke="#2a1a33" stroke-width="0.8"/>
<rect x="646.60" y="325.7" width="10.8" height="35.40" fill="#e2425f" stroke="#2a1a22" stroke-width="0.8"/>
<text x="654.90" y="302.05" font-size="8.3" text-anchor="middle" fill="#111" stroke="#111" stroke-width="0.15" transform="rotate(-90 654.90 302.05)" textLength="27" lengthAdjust="spacingAndGlyphs">22.57%</text>
<text x="654.90" y="342.40" font-size="8.3" text-anchor="middle" fill="#111" stroke="#111" stroke-width="0.15" transform="rotate(-90 654.90 342.40)" textLength="27" lengthAdjust="spacingAndGlyphs">77.43%</text>
<rect x="660.30" y="270.4" width="10.8" height="64.10" fill="#9b4fe9" stroke="#2a1a33" stroke-width="0.8"/>
<rect x="660.30" y="334.5" width="10.8" height="26.60" fill="#e2425f" stroke="#2a1a22" stroke-width="0.8"/>
<text x="668.60" y="302.45" font-size="8.3" text-anchor="middle" fill="#111" stroke="#111" stroke-width="0.15" transform="rotate(-90 668.60 302.45)" textLength="27" lengthAdjust="spacingAndGlyphs">29.20%</text>
<text x="668.60" y="346.80" font-size="8.3" text-anchor="middle" fill="#111" stroke="#111" stroke-width="0.15" transform="rotate(-90 668.60 346.80)" textLength="27" lengthAdjust="spacingAndGlyphs">70.80%</text>
</g>
<rect x="473.2" y="229.5" width="206.3" height="129.6" fill="none" stroke="#333" stroke-width="1"/>
<line x1="471.2" y1="355.40" x2="473.2" y2="355.40" stroke="#333" stroke-width="0.8"/>
<line x1="679.5" y1="355.40" x2="681.5" y2="355.40" stroke="#333" stroke-width="0.8"/>
<line x1="471.2" y1="347.99" x2="473.2" y2="347.99" stroke="#333" stroke-width="0.8"/>
<line x1="679.5" y1="347.99" x2="681.5" y2="347.99" stroke="#333" stroke-width="0.8"/>
<line x1="469.7" y1="340.59" x2="473.2" y2="340.59" stroke="#333" stroke-width="0.8"/>
<line x1="679.5" y1="340.59" x2="683.0" y2="340.59" stroke="#333" stroke-width="0.8"/>
<line x1="471.2" y1="333.18" x2="473.2" y2="333.18" stroke="#333" stroke-width="0.8"/>
<line x1="679.5" y1="333.18" x2="681.5" y2="333.18" stroke="#333" stroke-width="0.8"/>
<line x1="471.2" y1="325.77" x2="473.2" y2="325.77" stroke="#333" stroke-width="0.8"/>
<line x1="679.5" y1="325.77" x2="681.5" y2="325.77" stroke="#333" stroke-width="0.8"/>
<line x1="471.2" y1="318.37" x2="473.2" y2="318.37" stroke="#333" stroke-width="0.8"/>
<line x1="679.5" y1="318.37" x2="681.5" y2="318.37" stroke="#333" stroke-width="0.8"/>
<line x1="471.2" y1="310.96" x2="473.2" y2="310.96" stroke="#333" stroke-width="0.8"/>
<line x1="679.5" y1="310.96" x2="681.5" y2="310.96" stroke="#333" stroke-width="0.8"/>
<line x1="469.7" y1="303.56" x2="473.2" y2="303.56" stroke="#333" stroke-width="0.8"/>
<line x1="679.5" y1="303.56" x2="683.0" y2="303.56" stroke="#333" stroke-width="0.8"/>
<line x1="471.2" y1="296.15" x2="473.2" y2="296.15" stroke="#333" stroke-width="0.8"/>
<line x1="679.5" y1="296.15" x2="681.5" y2="296.15" stroke="#333" stroke-width="0.8"/>
<line x1="471.2" y1="288.75" x2="473.2" y2="288.75" stroke="#333" stroke-width="0.8"/>
<line x1="679.5" y1="288.75" x2="681.5" y2="288.75" stroke="#333" stroke-width="0.8"/>
<line x1="471.2" y1="281.34" x2="473.2" y2="281.34" stroke="#333" stroke-width="0.8"/>
<line x1="679.5" y1="281.34" x2="681.5" y2="281.34" stroke="#333" stroke-width="0.8"/>
<line x1="471.2" y1="273.93" x2="473.2" y2="273.93" stroke="#333" stroke-width="0.8"/>
<line x1="679.5" y1="273.93" x2="681.5" y2="273.93" stroke="#333" stroke-width="0.8"/>
<line x1="469.7" y1="266.53" x2="473.2" y2="266.53" stroke="#333" stroke-width="0.8"/>
<line x1="679.5" y1="266.53" x2="683.0" y2="266.53" stroke="#333" stroke-width="0.8"/>
<line x1="471.2" y1="259.12" x2="473.2" y2="259.12" stroke="#333" stroke-width="0.8"/>
<line x1="679.5" y1="259.12" x2="681.5" y2="259.12" stroke="#333" stroke-width="0.8"/>
<line x1="471.2" y1="251.72" x2="473.2" y2="251.72" stroke="#333" stroke-width="0.8"/>
<line x1="679.5" y1="251.72" x2="681.5" y2="251.72" stroke="#333" stroke-width="0.8"/>
<line x1="471.2" y1="244.31" x2="473.2" y2="244.31" stroke="#333" stroke-width="0.8"/>
<line x1="679.5" y1="244.31" x2="681.5" y2="244.31" stroke="#333" stroke-width="0.8"/>
<line x1="471.2" y1="236.91" x2="473.2" y2="236.91" stroke="#333" stroke-width="0.8"/>
<line x1="679.5" y1="236.91" x2="681.5" y2="236.91" stroke="#333" stroke-width="0.8"/>
<line x1="469.7" y1="229.50" x2="473.2" y2="229.50" stroke="#333" stroke-width="0.8"/>
<line x1="679.5" y1="229.50" x2="683.0" y2="229.50" stroke="#333" stroke-width="0.8"/>
<text x="684" y="235.0" font-size="14" text-anchor="start" font-weight="normal" fill="#111" textLength="7.5" lengthAdjust="spacingAndGlyphs" >7</text>
<text x="684" y="272.03" font-size="14" text-anchor="start" font-weight="normal" fill="#111" textLength="7.5" lengthAdjust="spacingAndGlyphs" >6</text>
<text x="684" y="309.06" font-size="14" text-anchor="start" font-weight="normal" fill="#111" textLength="7.5" lengthAdjust="spacingAndGlyphs" >5</text>
<text x="684" y="346.09" font-size="14" text-anchor="start" font-weight="normal" fill="#111" textLength="7.5" lengthAdjust="spacingAndGlyphs" >4</text>
<line x1="487.60" y1="359.1" x2="487.60" y2="361.1" stroke="#333" stroke-width="0.8"/>
<line x1="487.60" y1="229.5" x2="487.60" y2="227.5" stroke="#333" stroke-width="0.8"/>
<line x1="501.30" y1="359.1" x2="501.30" y2="361.1" stroke="#333" stroke-width="0.8"/>
<line x1="501.30" y1="229.5" x2="501.30" y2="227.5" stroke="#333" stroke-width="0.8"/>
<line x1="515.00" y1="359.1" x2="515.00" y2="362.6" stroke="#333" stroke-width="0.8"/>
<line x1="515.00" y1="229.5" x2="515.00" y2="226.0" stroke="#333" stroke-width="0.8"/>
<line x1="528.70" y1="359.1" x2="528.70" y2="361.1" stroke="#333" stroke-width="0.8"/>
<line x1="528.70" y1="229.5" x2="528.70" y2="227.5" stroke="#333" stroke-width="0.8"/>
<line x1="542.40" y1="359.1" x2="542.40" y2="361.1" stroke="#333" stroke-width="0.8"/>
<line x1="542.40" y1="229.5" x2="542.40" y2="227.5" stroke="#333" stroke-width="0.8"/>
<line x1="556.10" y1="359.1" x2="556.10" y2="361.1" stroke="#333" stroke-width="0.8"/>
<line x1="556.10" y1="229.5" x2="556.10" y2="227.5" stroke="#333" stroke-width="0.8"/>
<line x1="569.80" y1="359.1" x2="569.80" y2="361.1" stroke="#333" stroke-width="0.8"/>
<line x1="569.80" y1="229.5" x2="569.80" y2="227.5" stroke="#333" stroke-width="0.8"/>
<line x1="583.50" y1="359.1" x2="583.50" y2="362.6" stroke="#333" stroke-width="0.8"/>
<line x1="583.50" y1="229.5" x2="583.50" y2="226.0" stroke="#333" stroke-width="0.8"/>
<line x1="597.20" y1="359.1" x2="597.20" y2="361.1" stroke="#333" stroke-width="0.8"/>
<line x1="597.20" y1="229.5" x2="597.20" y2="227.5" stroke="#333" stroke-width="0.8"/>
<line x1="610.90" y1="359.1" x2="610.90" y2="361.1" stroke="#333" stroke-width="0.8"/>
<line x1="610.90" y1="229.5" x2="610.90" y2="227.5" stroke="#333" stroke-width="0.8"/>
<line x1="624.60" y1="359.1" x2="624.60" y2="361.1" stroke="#333" stroke-width="0.8"/>
<line x1="624.60" y1="229.5" x2="624.60" y2="227.5" stroke="#333" stroke-width="0.8"/>
<line x1="638.30" y1="359.1" x2="638.30" y2="361.1" stroke="#333" stroke-width="0.8"/>
<line x1="638.30" y1="229.5" x2="638.30" y2="227.5" stroke="#333" stroke-width="0.8"/>
<line x1="652.00" y1="359.1" x2="652.00" y2="362.6" stroke="#333" stroke-width="0.8"/>
<line x1="652.00" y1="229.5" x2="652.00" y2="226.0" stroke="#333" stroke-width="0.8"/>
<line x1="665.70" y1="359.1" x2="665.70" y2="361.1" stroke="#333" stroke-width="0.8"/>
<line x1="665.70" y1="229.5" x2="665.70" y2="227.5" stroke="#333" stroke-width="0.8"/>
<text x="515.0" y="374.9" font-size="14" text-anchor="middle" font-weight="normal" fill="#111" textLength="31" lengthAdjust="spacingAndGlyphs" >2005</text>
<text x="583.5" y="374.9" font-size="14" text-anchor="middle" font-weight="normal" fill="#111" textLength="31" lengthAdjust="spacingAndGlyphs" >2010</text>
<text x="652.0" y="374.9" font-size="14" text-anchor="middle" font-weight="normal" fill="#111" textLength="31" lengthAdjust="spacingAndGlyphs" >2015</text>
<text x="562.6" y="388.7" font-size="14" text-anchor="start" font-weight="normal" fill="#111" textLength="27.4" lengthAdjust="spacingAndGlyphs" >Year</text>
<text x="494.7" y="242.7" font-size="14" text-anchor="start" font-weight="normal" fill="#111" textLength="57.5" lengthAdjust="spacingAndGlyphs" >Area (km</text>
<text x="552.6" y="237.6" font-size="8.5" text-anchor="start" font-weight="normal" fill="#111" textLength="4.2" lengthAdjust="spacingAndGlyphs" >2</text>
<text x="557.5" y="242.7" font-size="14" text-anchor="start" font-weight="normal" fill="#111" textLength="4.7" lengthAdjust="spacingAndGlyphs" >)</text>
<text x="636" y="252.4" font-size="14" text-anchor="start" font-weight="normal" fill="#e2425f" textLength="32.5" lengthAdjust="spacingAndGlyphs" >WPO</text>
<text x="636.8" y="270.8" font-size="14" text-anchor="start" font-weight="normal" fill="#9b4fe9" textLength="21.4" lengthAdjust="spacingAndGlyphs" >EIO</text>
<text x="650.5" y="223.7" font-size="13" text-anchor="start" font-weight="normal" fill="#111" textLength="22.5" lengthAdjust="spacingAndGlyphs" >×10</text>
<text x="673.5" y="218.5" font-size="8.5" text-anchor="start" font-weight="normal" fill="#111" textLength="4.5" lengthAdjust="spacingAndGlyphs" >7</text>
</svg></body></html>
